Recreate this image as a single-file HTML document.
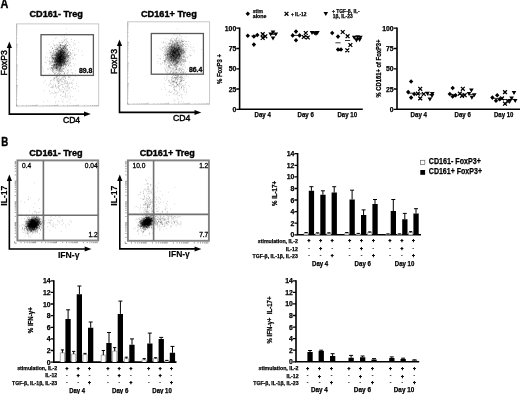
<!DOCTYPE html>
<html lang="en"><head><meta charset="utf-8"><title>Figure</title>
<style>html,body{margin:0;padding:0;background:#fff;overflow:hidden}svg{display:block}text{white-space:pre}</style></head>
<body>
<svg width="520" height="394" viewBox="0 0 520 394" font-family='"Liberation Sans", sans-serif' style="display:block;background:#fff;filter:blur(0.35px)">
<defs><radialGradient id="core"><stop offset="0" stop-color="#000" stop-opacity="0.62"/><stop offset="0.35" stop-color="#000" stop-opacity="0.4"/><stop offset="0.7" stop-color="#000" stop-opacity="0.1"/><stop offset="1" stop-color="#000" stop-opacity="0"/></radialGradient><radialGradient id="core2"><stop offset="0" stop-color="#000" stop-opacity="0.5"/><stop offset="0.4" stop-color="#000" stop-opacity="0.3"/><stop offset="0.75" stop-color="#000" stop-opacity="0.08"/><stop offset="1" stop-color="#000" stop-opacity="0"/></radialGradient></defs>
<rect width="520" height="394" fill="#fff"/>
<text x="0.6" y="7.8" font-size="13" font-weight="bold" textLength="7.8" lengthAdjust="spacingAndGlyphs" fill="#000" stroke="#000" stroke-width="0.4">A</text>
<text x="1.2" y="145.5" font-size="13" font-weight="bold" textLength="7.0" lengthAdjust="spacingAndGlyphs" fill="#000" stroke="#000" stroke-width="0.4">B</text>
<rect x="16.5" y="23.9" width="82.2" height="82.1" fill="#fff" stroke="#c2c2c2" stroke-width="0.9"/>
<path d="M16.5,106.0h1.6M16.5,99.8h0.9M16.5,96.1h0.9M16.5,93.7h0.9M16.5,91.6h0.9M16.5,90.0h0.9M16.5,88.6h0.9M16.5,87.5h0.9M16.5,86.5h0.9M16.5,85.5h1.6M16.5,79.3h0.9M16.5,75.6h0.9M16.5,73.2h0.9M16.5,71.1h0.9M16.5,69.5h0.9M16.5,68.0h0.9M16.5,67.0h0.9M16.5,66.0h0.9M16.5,65.0h1.6M16.5,58.8h0.9M16.5,55.1h0.9M16.5,52.6h0.9M16.5,50.6h0.9M16.5,48.9h0.9M16.5,47.5h0.9M16.5,46.5h0.9M16.5,45.5h0.9M16.5,44.4h1.6M16.5,38.3h0.9M16.5,34.6h0.9M16.5,32.1h0.9M16.5,30.1h0.9M16.5,28.4h0.9M16.5,27.0h0.9M16.5,26.0h0.9M16.5,24.9h0.9M16.5,106.0v-1.6M22.7,106.0v-0.9M26.4,106.0v-0.9M28.8,106.0v-0.9M30.9,106.0v-0.9M32.5,106.0v-0.9M34.0,106.0v-0.9M35.0,106.0v-0.9M36.0,106.0v-0.9M37.0,106.0v-1.6M43.2,106.0v-0.9M46.9,106.0v-0.9M49.4,106.0v-0.9M51.4,106.0v-0.9M53.1,106.0v-0.9M54.5,106.0v-0.9M55.5,106.0v-0.9M56.6,106.0v-0.9M57.6,106.0v-1.6M63.8,106.0v-0.9M67.5,106.0v-0.9M69.9,106.0v-0.9M72.0,106.0v-0.9M73.6,106.0v-0.9M75.1,106.0v-0.9M76.1,106.0v-0.9M77.1,106.0v-0.9M78.2,106.0v-1.6M84.3,106.0v-0.9M88.0,106.0v-0.9M90.5,106.0v-0.9M92.5,106.0v-0.9M94.2,106.0v-0.9M95.6,106.0v-0.9M96.6,106.0v-0.9M97.7,106.0v-0.9" stroke="#777" stroke-width="0.5" fill="none" opacity="0.8"/>
<ellipse cx="60.3" cy="58.3" rx="9" ry="14" fill="url(#core)" transform="rotate(14 60.3 58.3)"/>
<path d="M60.3,57.8h0.6M61.5,56.8h0.6M59.2,61.8h0.6M56.8,60.1h0.6M58.5,49.9h0.6M56.4,69.8h0.6M60.5,56.7h0.6M65.5,61.1h0.6M58.4,58.1h0.6M57.9,54.6h0.6M62.2,57.7h0.6M61.7,53.2h0.6M60.7,67.2h0.6M56.7,53.6h0.6M60.2,61.8h0.6M63.0,53.5h0.6M55.1,59.7h0.6M58.5,73.9h0.6M52.9,66.0h0.6M55.3,59.4h0.6M53.1,52.7h0.6M59.4,57.1h0.6M55.4,59.1h0.6M61.4,65.9h0.6M60.9,49.8h0.6M59.6,48.3h0.6M50.5,62.7h0.6M58.2,60.5h0.6M60.1,67.7h0.6M60.7,53.0h0.6M54.3,45.6h0.6M58.4,55.1h0.6M56.5,52.8h0.6M57.1,56.7h0.6M64.4,62.0h0.6M57.2,52.1h0.6M60.2,65.4h0.6M63.7,57.9h0.6M58.0,57.8h0.6M59.9,53.4h0.6M60.7,55.7h0.6M60.5,56.0h0.6M55.5,64.9h0.6M60.6,65.5h0.6M65.6,55.5h0.6M54.3,65.1h0.6M63.7,64.2h0.6M60.8,65.3h0.6M57.8,62.3h0.6M68.1,65.3h0.6M63.3,64.6h0.6M55.6,69.8h0.6M60.6,57.1h0.6M62.5,54.9h0.6M59.6,47.2h0.6M63.0,65.6h0.6M60.0,62.3h0.6M62.9,51.9h0.6M65.9,57.0h0.6M57.7,61.4h0.6M61.1,48.2h0.6M58.5,61.1h0.6M60.8,64.7h0.6M55.7,68.0h0.6M58.0,57.4h0.6M59.5,56.9h0.6M63.8,64.5h0.6M64.8,61.9h0.6M55.1,57.6h0.6M57.2,56.4h0.6M62.8,60.8h0.6M52.5,58.3h0.6M58.5,55.9h0.6M59.9,68.7h0.6M65.2,57.8h0.6M63.0,54.7h0.6M59.0,62.2h0.6M58.9,71.2h0.6M59.3,60.4h0.6M66.2,51.3h0.6M58.6,50.0h0.6M59.1,71.4h0.6M61.7,42.7h0.6M59.8,65.0h0.6M59.5,53.2h0.6M56.0,53.2h0.6M60.3,52.7h0.6M58.6,58.2h0.6M64.8,62.8h0.6M62.8,53.5h0.6M60.2,62.4h0.6M62.9,71.5h0.6M59.0,42.7h0.6M64.4,52.4h0.6M60.3,47.9h0.6M62.6,62.5h0.6M55.3,52.2h0.6M61.7,48.6h0.6M53.7,52.4h0.6M52.4,62.1h0.6M59.1,65.7h0.6M56.8,60.9h0.6M60.9,70.6h0.6M69.1,64.0h0.6M57.1,59.3h0.6M57.9,65.1h0.6M61.1,58.9h0.6M62.2,58.0h0.6M59.6,47.6h0.6M59.5,51.2h0.6M63.0,57.3h0.6M62.3,50.4h0.6M56.3,64.6h0.6M60.0,60.4h0.6M60.4,53.0h0.6M56.2,67.3h0.6M61.3,59.4h0.6M57.0,67.4h0.6M64.1,55.9h0.6M61.1,48.6h0.6M60.6,62.4h0.6M58.0,58.1h0.6M59.8,63.6h0.6M52.5,68.5h0.6M55.9,67.4h0.6M61.7,49.3h0.6M52.0,48.6h0.6M63.6,54.0h0.6M53.5,65.5h0.6M63.3,52.9h0.6M57.0,61.7h0.6M63.3,52.3h0.6M60.8,56.4h0.6M54.3,59.5h0.6M65.2,52.6h0.6M65.9,59.0h0.6M60.0,60.7h0.6M59.2,68.6h0.6M59.7,61.1h0.6M56.5,68.2h0.6M64.6,57.2h0.6M58.2,64.8h0.6M60.1,57.8h0.6M57.2,57.1h0.6M57.9,67.6h0.6M55.3,65.3h0.6M65.2,61.4h0.6M59.7,54.3h0.6M64.1,46.8h0.6M60.4,53.4h0.6M57.6,61.5h0.6M59.0,50.5h0.6M58.1,68.0h0.6M60.3,49.7h0.6M58.8,62.7h0.6M59.1,74.8h0.6M54.9,45.6h0.6M57.2,50.7h0.6M66.8,61.2h0.6M57.7,58.5h0.6M56.2,61.4h0.6M61.6,57.1h0.6M65.8,64.3h0.6M54.6,64.8h0.6M59.5,56.0h0.6M57.8,58.2h0.6M53.4,54.6h0.6M63.2,56.5h0.6M60.2,44.9h0.6M60.6,62.3h0.6M57.4,58.2h0.6M62.1,68.4h0.6M58.2,66.4h0.6M59.7,51.0h0.6M56.0,65.7h0.6M55.6,57.5h0.6M65.5,56.2h0.6M58.3,65.2h0.6M61.4,59.8h0.6M60.2,61.3h0.6M58.6,61.9h0.6M58.3,54.9h0.6M62.8,53.4h0.6M59.1,62.1h0.6M59.7,63.8h0.6M60.4,56.6h0.6M64.9,56.8h0.6M63.0,51.2h0.6M61.8,42.4h0.6M58.1,54.5h0.6M54.9,61.0h0.6M64.0,57.6h0.6M64.1,61.5h0.6M59.8,63.7h0.6M62.4,63.1h0.6M63.3,59.2h0.6M63.5,59.2h0.6M63.9,52.4h0.6M58.5,61.4h0.6M66.2,56.7h0.6M55.4,67.5h0.6M63.7,47.3h0.6M62.2,54.5h0.6M63.7,46.5h0.6M67.6,50.4h0.6M66.1,47.1h0.6M55.8,61.8h0.6M53.7,57.2h0.6M63.5,41.3h0.6M56.3,67.1h0.6M60.3,51.6h0.6M63.6,47.1h0.6M53.9,58.8h0.6M52.1,57.7h0.6M61.3,50.5h0.6M60.5,62.1h0.6M59.3,56.4h0.6M60.5,63.3h0.6M56.9,63.8h0.6M54.4,64.6h0.6M59.7,59.4h0.6M56.5,59.2h0.6M53.9,58.6h0.6M62.3,65.7h0.6M60.1,46.8h0.6M61.9,50.8h0.6M56.4,55.8h0.6M57.7,61.6h0.6M56.4,60.6h0.6M56.8,56.7h0.6M61.1,55.5h0.6M57.2,69.6h0.6M61.7,53.3h0.6M61.6,40.6h0.6M68.2,65.5h0.6M54.9,55.0h0.6M63.8,54.5h0.6M60.0,59.1h0.6M60.2,50.3h0.6M54.6,67.9h0.6M58.5,58.2h0.6M63.2,48.4h0.6M60.0,59.6h0.6M60.6,60.6h0.6M59.2,58.1h0.6M64.8,58.8h0.6M60.2,49.2h0.6M51.7,67.6h0.6M57.6,54.4h0.6M52.6,69.2h0.6M47.6,60.2h0.6M58.2,59.9h0.6M65.5,71.1h0.6M60.5,58.3h0.6M55.7,66.7h0.6M56.6,62.6h0.6M64.7,47.2h0.6M60.9,64.6h0.6M60.5,64.5h0.6M60.1,49.9h0.6M60.4,57.5h0.6M63.4,47.8h0.6M62.5,55.4h0.6M61.1,63.1h0.6M56.2,60.6h0.6M62.3,50.1h0.6M57.6,54.0h0.6M64.6,56.3h0.6M55.3,60.3h0.6M59.8,59.2h0.6M60.3,61.7h0.6M55.1,49.3h0.6M67.0,55.2h0.6M66.0,62.3h0.6M58.5,61.9h0.6M63.3,52.6h0.6M61.8,53.8h0.6M50.1,63.8h0.6M61.3,61.8h0.6M60.1,58.3h0.6M60.6,68.0h0.6M56.1,67.9h0.6M59.2,54.1h0.6M59.6,61.4h0.6M64.9,54.0h0.6M61.6,50.5h0.6M60.3,54.5h0.6M66.3,55.4h0.6M58.1,46.8h0.6M58.8,55.1h0.6M53.2,63.7h0.6M66.4,51.2h0.6M64.1,54.2h0.6M63.9,61.7h0.6M62.9,56.7h0.6M60.7,59.1h0.6M61.1,69.5h0.6M59.3,59.8h0.6M59.5,60.3h0.6M60.5,60.8h0.6M66.2,65.3h0.6M62.5,59.4h0.6M60.1,58.6h0.6M58.0,58.7h0.6M57.8,66.1h0.6M66.6,51.7h0.6M62.3,64.5h0.6M60.6,59.5h0.6M58.9,51.2h0.6M56.0,64.4h0.6M60.0,61.4h0.6M63.7,50.4h0.6M58.8,61.3h0.6M59.4,60.5h0.6M59.4,57.4h0.6M60.7,51.9h0.6M54.1,74.1h0.6M59.4,63.6h0.6M57.0,65.8h0.6M63.7,63.1h0.6M57.3,64.7h0.6M62.6,62.2h0.6M66.2,53.8h0.6M59.1,64.1h0.6M58.0,58.7h0.6M61.0,55.6h0.6M60.3,62.6h0.6M56.4,59.3h0.6M62.1,47.9h0.6M68.2,52.8h0.6M59.3,62.5h0.6M59.5,59.0h0.6M56.2,65.5h0.6M61.5,56.1h0.6M55.4,55.5h0.6M56.0,65.1h0.6M65.3,57.2h0.6M56.8,53.4h0.6M64.5,59.3h0.6M66.2,54.5h0.6M61.3,63.8h0.6M62.5,62.1h0.6M67.9,57.8h0.6M59.5,46.2h0.6M58.0,61.7h0.6M55.0,63.8h0.6M60.5,61.4h0.6M66.1,56.6h0.6M64.0,52.8h0.6M56.6,58.9h0.6M57.0,48.1h0.6M58.3,58.0h0.6M61.4,49.5h0.6M59.5,57.1h0.6M61.1,54.4h0.6M61.5,66.0h0.6M59.1,59.6h0.6M60.1,58.8h0.6M61.1,59.3h0.6M60.0,70.8h0.6M62.3,52.4h0.6M67.6,57.1h0.6M62.6,59.7h0.6M60.5,59.7h0.6M53.7,62.6h0.6M61.8,55.3h0.6M52.7,69.1h0.6M54.8,66.2h0.6M63.6,55.1h0.6M63.1,56.2h0.6M59.7,60.7h0.6M53.6,64.7h0.6M58.9,63.7h0.6M57.7,59.9h0.6M62.8,50.4h0.6M69.1,60.3h0.6M61.1,49.2h0.6M57.3,54.9h0.6M55.7,63.0h0.6M60.1,53.9h0.6M59.6,67.0h0.6M55.8,70.3h0.6M60.8,65.5h0.6M55.8,62.7h0.6M64.6,58.2h0.6M64.4,59.3h0.6M64.5,55.8h0.6M58.5,71.4h0.6M62.3,54.5h0.6M59.8,66.7h0.6M58.8,62.8h0.6M59.0,61.3h0.6M55.2,67.3h0.6M54.7,68.7h0.6M63.4,62.6h0.6M59.6,58.7h0.6M61.1,54.5h0.6M64.2,53.3h0.6M53.5,67.1h0.6M57.2,64.2h0.6M61.0,63.3h0.6M61.8,55.0h0.6M58.8,70.6h0.6M64.3,49.4h0.6M61.1,60.7h0.6M55.6,65.0h0.6M56.7,58.0h0.6M63.4,50.9h0.6M62.1,55.5h0.6M52.9,55.7h0.6M65.6,55.1h0.6M62.6,50.2h0.6M65.5,48.8h0.6M58.8,59.6h0.6M59.1,50.6h0.6M55.9,59.4h0.6M70.2,53.2h0.6M59.6,63.9h0.6M66.5,57.1h0.6M57.8,55.0h0.6M60.9,65.5h0.6M53.8,57.6h0.6M58.8,57.0h0.6M64.1,54.9h0.6M55.4,73.2h0.6M64.5,57.0h0.6M61.6,54.0h0.6M56.2,64.5h0.6M58.3,58.7h0.6M58.5,72.7h0.6M60.1,54.5h0.6M58.2,63.1h0.6M57.1,54.8h0.6M59.1,69.4h0.6M56.3,56.2h0.6M55.3,62.0h0.6M60.1,53.8h0.6M63.7,62.0h0.6M54.3,64.6h0.6M60.3,45.5h0.6M57.8,64.2h0.6M56.5,64.1h0.6M63.6,58.3h0.6M58.3,65.1h0.6M66.1,48.8h0.6M57.3,49.8h0.6M61.8,61.6h0.6M59.4,68.6h0.6M57.4,52.9h0.6M62.6,50.9h0.6M59.7,53.9h0.6M62.7,50.6h0.6M60.1,63.4h0.6M56.1,61.2h0.6M59.9,66.4h0.6M60.5,66.3h0.6M64.0,51.0h0.6M56.8,63.8h0.6M60.1,45.3h0.6M53.6,61.0h0.6M62.8,60.8h0.6M56.1,55.7h0.6M53.3,51.2h0.6M60.1,55.6h0.6M64.6,63.3h0.6M54.4,58.9h0.6M56.1,52.4h0.6M57.4,62.5h0.6M55.9,64.8h0.6M61.8,51.8h0.6M57.2,59.0h0.6M57.5,65.9h0.6M62.6,59.4h0.6M57.4,64.0h0.6M62.0,55.8h0.6M56.5,59.4h0.6M55.6,53.9h0.6M53.1,57.5h0.6M67.6,63.9h0.6M59.1,56.5h0.6M61.3,52.7h0.6M60.2,55.7h0.6M60.9,52.1h0.6M60.5,61.4h0.6M67.7,60.3h0.6M56.2,54.8h0.6M54.2,67.2h0.6M56.4,72.5h0.6M55.1,54.8h0.6M63.2,61.1h0.6M63.5,58.6h0.6M56.6,68.0h0.6M54.9,68.4h0.6M58.9,65.6h0.6M65.7,57.9h0.6M49.3,61.3h0.6M62.4,70.5h0.6M56.1,55.9h0.6M64.4,63.2h0.6M56.1,66.3h0.6M59.2,54.9h0.6M54.4,61.4h0.6M56.5,68.9h0.6M65.7,45.2h0.6M63.5,61.7h0.6M58.7,57.6h0.6M56.9,58.7h0.6M52.9,53.6h0.6M58.8,61.6h0.6M60.2,52.6h0.6M60.0,62.7h0.6M59.9,52.0h0.6M55.9,64.7h0.6M60.0,60.5h0.6M60.1,47.5h0.6M65.3,54.2h0.6M67.6,54.3h0.6M59.8,45.7h0.6M57.3,57.6h0.6M60.0,63.1h0.6M57.9,55.2h0.6M57.4,66.4h0.6M60.1,51.9h0.6M56.2,53.3h0.6M62.7,60.5h0.6M59.9,62.1h0.6M61.3,56.8h0.6M59.6,58.5h0.6M57.5,65.2h0.6M56.6,56.8h0.6M59.4,70.4h0.6M58.2,61.8h0.6M61.2,60.2h0.6M60.3,59.9h0.6M55.0,59.0h0.6M60.6,65.2h0.6M55.1,57.3h0.6M57.9,60.4h0.6M59.2,62.6h0.6M52.2,69.9h0.6M60.7,64.9h0.6M60.9,56.0h0.6M59.7,64.1h0.6M58.6,58.7h0.6M58.8,52.9h0.6M56.5,54.1h0.6M59.2,49.9h0.6M58.1,61.0h0.6M60.7,64.3h0.6M55.6,54.6h0.6M61.2,56.1h0.6M60.9,51.6h0.6M59.7,58.5h0.6M58.6,52.2h0.6M62.5,52.5h0.6M53.8,57.2h0.6M62.1,54.6h0.6M61.2,55.6h0.6M61.4,56.5h0.6M61.8,56.3h0.6M57.8,53.8h0.6M59.3,61.7h0.6M62.8,47.2h0.6M62.0,58.1h0.6M61.1,52.3h0.6M54.4,61.5h0.6M62.4,58.7h0.6M64.9,44.6h0.6M64.2,58.3h0.6M61.2,65.2h0.6M54.2,65.2h0.6M64.0,58.4h0.6M59.7,46.2h0.6M50.4,61.7h0.6M61.8,52.3h0.6M54.5,66.7h0.6M55.2,58.6h0.6M57.8,55.6h0.6M65.3,45.7h0.6M58.9,63.0h0.6M61.4,54.4h0.6M67.1,53.4h0.6M66.5,61.3h0.6M59.9,58.6h0.6M59.4,60.2h0.6M55.4,73.9h0.6M57.6,56.1h0.6M62.0,54.4h0.6M61.8,60.1h0.6M60.7,65.8h0.6M64.2,48.0h0.6M57.3,58.2h0.6M60.1,52.6h0.6M63.2,48.9h0.6M62.6,60.2h0.6M64.5,51.7h0.6M61.8,59.0h0.6M59.1,59.2h0.6M61.7,58.1h0.6M56.4,60.1h0.6M53.9,54.9h0.6M62.6,56.5h0.6M60.1,59.3h0.6M61.5,59.3h0.6M53.7,59.4h0.6M58.9,64.1h0.6M58.0,62.3h0.6M56.9,60.2h0.6M51.5,65.6h0.6M59.0,59.6h0.6M63.8,60.2h0.6M61.8,46.1h0.6M58.0,51.8h0.6M60.2,55.8h0.6M63.3,57.2h0.6M49.5,50.7h0.6M59.8,56.7h0.6M62.4,57.8h0.6M63.0,55.3h0.6M66.9,53.5h0.6M64.7,48.2h0.6M61.5,57.8h0.6M61.5,45.7h0.6M63.4,61.9h0.6M58.2,55.3h0.6M60.1,64.1h0.6M63.8,46.3h0.6M67.9,56.7h0.6M59.7,58.9h0.6M60.1,53.1h0.6M61.1,50.8h0.6M65.5,62.2h0.6M60.2,60.3h0.6M66.0,63.6h0.6M56.5,59.3h0.6M59.6,59.2h0.6M59.5,60.7h0.6M63.4,60.8h0.6M64.4,58.6h0.6M54.4,65.3h0.6M56.7,56.9h0.6M61.6,49.0h0.6M57.7,70.5h0.6M54.4,61.7h0.6M64.4,58.8h0.6M62.2,54.6h0.6M62.2,62.9h0.6M58.4,60.0h0.6M64.3,62.4h0.6M59.4,54.7h0.6M64.6,55.8h0.6M56.7,60.9h0.6M57.0,57.7h0.6M61.1,59.3h0.6M57.6,68.5h0.6M62.9,53.7h0.6M61.3,56.2h0.6M56.7,60.8h0.6M60.6,52.5h0.6M58.9,52.0h0.6M63.9,62.9h0.6M57.8,63.9h0.6M58.6,50.2h0.6M65.0,48.0h0.6M69.0,58.5h0.6M68.1,61.5h0.6M60.5,61.8h0.6M61.2,60.8h0.6M66.3,64.6h0.6M59.8,58.3h0.6M56.5,67.4h0.6M60.8,65.0h0.6M62.1,52.2h0.6M57.1,63.7h0.6M53.9,61.7h0.6M54.7,57.3h0.6M62.9,52.4h0.6M57.3,61.6h0.6M59.7,58.3h0.6M61.1,62.6h0.6M62.7,47.2h0.6M59.0,55.2h0.6M62.2,63.7h0.6M56.8,59.9h0.6M58.9,54.9h0.6M56.3,57.4h0.6M64.7,45.8h0.6M60.2,50.5h0.6M57.4,62.7h0.6M58.9,59.4h0.6M59.4,66.0h0.6M63.0,55.6h0.6M54.1,60.3h0.6M56.3,44.7h0.6M58.8,58.4h0.6M70.2,65.7h0.6M64.0,60.4h0.6M59.9,57.9h0.6M63.1,64.2h0.6M68.3,59.6h0.6M59.4,60.8h0.6M58.9,57.0h0.6M65.0,57.1h0.6M62.2,62.5h0.6M62.9,52.6h0.6M58.3,62.3h0.6M67.8,57.7h0.6M67.0,63.1h0.6M62.5,61.8h0.6M63.0,53.3h0.6M52.4,71.2h0.6M62.8,57.6h0.6M59.5,54.5h0.6M62.0,59.7h0.6M63.0,55.7h0.6M59.0,65.3h0.6M53.7,53.8h0.6M61.7,51.3h0.6M57.4,58.3h0.6M59.0,68.9h0.6M57.9,65.4h0.6M59.0,53.3h0.6M51.3,52.7h0.6M65.0,54.4h0.6M61.3,50.7h0.6M64.6,59.8h0.6M68.0,55.8h0.6M60.4,58.3h0.6M53.3,59.1h0.6M56.8,68.7h0.6M55.6,55.1h0.6M58.3,51.6h0.6M60.6,64.7h0.6M52.5,69.7h0.6M61.6,55.7h0.6M54.4,64.8h0.6M61.5,71.3h0.6M59.9,53.9h0.6M59.1,58.0h0.6M60.0,61.2h0.6M58.2,47.2h0.6M57.9,58.6h0.6M53.7,65.6h0.6M60.2,57.8h0.6M67.5,60.9h0.6M68.0,59.1h0.6M65.5,53.7h0.6M63.1,60.2h0.6M57.7,62.1h0.6M65.9,46.2h0.6M60.1,53.5h0.6M60.0,53.8h0.6M59.2,55.8h0.6M60.7,55.4h0.6M58.6,50.7h0.6M60.0,58.6h0.6M56.1,49.6h0.6M58.8,64.4h0.6M69.2,55.7h0.6M60.0,66.3h0.6M59.4,60.7h0.6M62.4,54.4h0.6M63.1,48.7h0.6M56.0,64.1h0.6M59.5,58.6h0.6M63.9,58.7h0.6M61.4,62.0h0.6M60.8,64.9h0.6M66.4,55.2h0.6M57.7,69.4h0.6M60.6,57.5h0.6M58.3,59.1h0.6M66.1,59.4h0.6M52.7,67.6h0.6M57.7,67.4h0.6M58.2,48.5h0.6M62.9,64.8h0.6M62.7,48.3h0.6M65.7,52.4h0.6M54.2,63.2h0.6M63.2,63.6h0.6M59.2,52.9h0.6M57.7,49.6h0.6M62.4,62.7h0.6M56.7,61.7h0.6M52.2,56.0h0.6M58.9,57.0h0.6M54.5,49.5h0.6M57.8,62.7h0.6M61.7,54.5h0.6M61.5,64.9h0.6M66.5,43.4h0.6M59.5,62.8h0.6M54.3,73.7h0.6M57.4,60.4h0.6M56.7,60.8h0.6M55.6,49.5h0.6M62.0,59.5h0.6M57.8,59.5h0.6M52.6,58.5h0.6M63.0,48.0h0.6M59.9,58.9h0.6M61.7,51.7h0.6M60.7,55.1h0.6M62.8,58.9h0.6M60.4,57.8h0.6M65.1,55.9h0.6M62.0,62.8h0.6M61.8,50.6h0.6M61.9,65.5h0.6M54.6,54.2h0.6M59.7,53.1h0.6M59.3,59.3h0.6M61.1,62.3h0.6M55.0,62.0h0.6M66.7,52.7h0.6M60.7,53.9h0.6M55.6,58.8h0.6M53.6,55.7h0.6M59.2,62.0h0.6M60.0,57.1h0.6M57.5,68.6h0.6M60.7,53.8h0.6M57.8,58.6h0.6M62.5,59.7h0.6M57.5,53.0h0.6M60.1,54.4h0.6M64.1,72.7h0.6M70.3,53.4h0.6M56.4,68.4h0.6M58.5,53.0h0.6M57.0,45.6h0.6M63.4,59.9h0.6M55.8,59.9h0.6M58.4,60.6h0.6M60.2,56.3h0.6M56.5,56.4h0.6M56.6,52.7h0.6M58.4,64.8h0.6M52.1,53.1h0.6M54.7,66.2h0.6M58.7,57.5h0.6M60.9,51.4h0.6M59.6,54.6h0.6M53.4,66.9h0.6M58.5,63.2h0.6M63.4,59.5h0.6M62.5,57.6h0.6M60.0,51.9h0.6M56.8,67.3h0.6M62.8,54.5h0.6M58.0,55.9h0.6M55.7,57.2h0.6M57.2,57.1h0.6M65.9,47.0h0.6M61.2,55.1h0.6M64.8,51.3h0.6M58.4,55.9h0.6M64.0,46.3h0.6M58.0,70.3h0.6M59.7,51.2h0.6M70.0,55.3h0.6M63.3,58.5h0.6M58.3,64.8h0.6M60.0,69.1h0.6M61.6,59.9h0.6M65.0,60.1h0.6M58.4,56.4h0.6M53.5,69.9h0.6M59.2,50.6h0.6M60.4,56.7h0.6M60.7,59.5h0.6M65.4,60.0h0.6M61.5,62.2h0.6M63.5,63.3h0.6M56.0,63.4h0.6M63.7,56.7h0.6M68.5,55.5h0.6M63.3,65.0h0.6M61.3,59.4h0.6M60.9,63.1h0.6M67.3,54.2h0.6M56.7,49.3h0.6M59.9,54.9h0.6M62.1,59.3h0.6M63.2,66.3h0.6M58.6,67.2h0.6M61.5,67.4h0.6M59.2,54.6h0.6M60.8,62.5h0.6M59.8,58.2h0.6M55.8,63.9h0.6M60.2,57.8h0.6M63.7,48.7h0.6M56.5,64.0h0.6M59.4,60.7h0.6M62.9,61.7h0.6M56.1,55.2h0.6M61.0,63.8h0.6M56.2,66.7h0.6M64.7,64.2h0.6M69.3,62.2h0.6M68.2,52.0h0.6M59.4,44.0h0.6M63.2,62.7h0.6M60.8,52.6h0.6M60.7,56.7h0.6M66.3,61.8h0.6M55.2,62.3h0.6M64.4,57.7h0.6M60.1,62.3h0.6M65.8,44.7h0.6M61.0,68.9h0.6M57.7,57.3h0.6M61.4,55.9h0.6M63.2,60.3h0.6M60.4,57.4h0.6M62.2,52.4h0.6M58.3,58.4h0.6M52.0,59.8h0.6M63.8,52.7h0.6M63.0,68.7h0.6M60.9,49.6h0.6M60.6,45.1h0.6M64.3,50.8h0.6M58.5,53.3h0.6M57.5,67.6h0.6M59.6,59.3h0.6M64.9,60.8h0.6M54.9,64.2h0.6M64.9,50.6h0.6M57.8,64.1h0.6M56.0,61.0h0.6M65.2,67.0h0.6M59.9,59.4h0.6M55.2,60.1h0.6M58.9,63.0h0.6M63.9,60.7h0.6M64.9,45.4h0.6M58.6,66.0h0.6M61.9,63.6h0.6M63.1,61.6h0.6M57.8,52.6h0.6M61.7,45.6h0.6M60.2,56.5h0.6M58.2,63.4h0.6M58.4,61.6h0.6M60.6,52.1h0.6M60.4,63.5h0.6M58.1,51.0h0.6M58.6,51.0h0.6M64.6,55.9h0.6M61.1,54.2h0.6M63.8,52.4h0.6M65.0,47.2h0.6M62.6,63.3h0.6M69.2,47.5h0.6M57.1,61.9h0.6M63.5,61.2h0.6M59.1,58.3h0.6M67.5,56.2h0.6M66.9,60.9h0.6M52.7,71.0h0.6M56.5,65.4h0.6M62.9,48.8h0.6M63.4,45.6h0.6M63.2,53.3h0.6M60.0,51.6h0.6M62.1,60.4h0.6M62.8,57.6h0.6M60.0,56.8h0.6M64.3,62.6h0.6M51.5,68.0h0.6M62.8,56.6h0.6M56.3,62.0h0.6M64.0,62.7h0.6M59.4,56.5h0.6M56.8,61.4h0.6M61.8,51.8h0.6M56.7,60.0h0.6M56.7,61.7h0.6M54.2,60.4h0.6M60.2,59.3h0.6M62.2,61.2h0.6M64.3,58.8h0.6M59.7,54.3h0.6M64.4,52.7h0.6M60.4,50.9h0.6M59.9,68.2h0.6M62.5,59.5h0.6M64.4,58.8h0.6M59.0,57.9h0.6M59.3,61.3h0.6M59.7,61.5h0.6M60.6,53.7h0.6M56.8,58.9h0.6M64.3,63.1h0.6M58.7,51.4h0.6M62.1,51.8h0.6M57.1,63.1h0.6M61.7,52.9h0.6M61.8,61.8h0.6M58.7,52.6h0.6M68.2,55.9h0.6M61.7,62.2h0.6M67.2,57.2h0.6M64.0,61.0h0.6M57.7,58.4h0.6M58.8,58.0h0.6M62.0,57.3h0.6M60.5,61.4h0.6M60.5,79.2h0.6M59.2,58.3h0.6M53.2,72.4h0.6M59.4,57.3h0.6M51.6,55.8h0.6M61.8,56.1h0.6M57.5,61.8h0.6M57.5,60.6h0.6M59.4,59.5h0.6M61.4,61.0h0.6M54.7,64.2h0.6M53.5,66.7h0.6M56.1,53.4h0.6M52.3,62.1h0.6M56.5,54.6h0.6M66.5,56.9h0.6M56.2,59.8h0.6M62.8,58.1h0.6M55.0,58.1h0.6M61.5,53.0h0.6M59.1,57.5h0.6M60.1,62.3h0.6M62.5,61.7h0.6M67.1,45.6h0.6M61.1,59.6h0.6M60.8,59.7h0.6M56.5,51.7h0.6M62.6,51.0h0.6M59.3,55.7h0.6M63.5,59.1h0.6M60.1,44.9h0.6M67.1,52.9h0.6M52.6,58.7h0.6M59.1,59.8h0.6M63.7,64.8h0.6M58.9,66.6h0.6M57.2,57.4h0.6M59.3,56.5h0.6M54.9,62.2h0.6M60.8,64.8h0.6M69.8,62.2h0.6M64.8,58.1h0.6M56.0,68.6h0.6M56.9,54.7h0.6M58.7,52.4h0.6M64.2,40.3h0.6M57.1,54.8h0.6M57.6,62.9h0.6M63.8,61.7h0.6M63.7,76.5h0.6M58.8,62.4h0.6M55.9,61.3h0.6M54.3,55.6h0.6M57.6,56.1h0.6M51.6,58.9h0.6M63.2,55.7h0.6M57.8,55.7h0.6M62.2,49.1h0.6M67.6,61.0h0.6M64.9,58.8h0.6M55.8,68.3h0.6M63.7,47.5h0.6M64.8,48.8h0.6M57.4,55.3h0.6M56.6,66.9h0.6M59.9,57.5h0.6M54.1,62.5h0.6M66.0,55.2h0.6M50.9,63.7h0.6M56.0,57.3h0.6M59.2,61.0h0.6M59.4,53.8h0.6M60.9,56.6h0.6M61.4,59.5h0.6M59.5,59.3h0.6M64.7,58.8h0.6M52.0,57.5h0.6M60.3,59.9h0.6M57.5,57.9h0.6M60.8,60.3h0.6M61.2,66.4h0.6M56.7,54.8h0.6M57.8,65.5h0.6M63.4,53.0h0.6M61.7,55.3h0.6M57.6,69.0h0.6M68.3,60.0h0.6M69.3,57.1h0.6M54.6,65.6h0.6M61.5,64.5h0.6M70.1,49.5h0.6M63.4,58.3h0.6M61.2,55.7h0.6M59.5,61.1h0.6M58.2,57.5h0.6M59.5,63.0h0.6M58.2,59.4h0.6M63.2,53.6h0.6M58.7,58.8h0.6M58.6,61.7h0.6M55.6,66.7h0.6M60.1,57.4h0.6M56.8,57.9h0.6M59.6,60.1h0.6M64.4,60.8h0.6M61.7,54.5h0.6M62.3,43.2h0.6M61.7,59.4h0.6M60.5,56.3h0.6M59.8,56.4h0.6M59.1,73.5h0.6M63.3,56.2h0.6M56.1,64.3h0.6M65.5,48.0h0.6M60.4,59.7h0.6M57.4,64.1h0.6M58.4,60.4h0.6M57.7,58.6h0.6M60.9,61.2h0.6M57.5,59.9h0.6M64.8,64.0h0.6M57.3,61.0h0.6M51.4,58.0h0.6M57.4,48.3h0.6M52.5,57.9h0.6M60.1,56.8h0.6M64.4,49.6h0.6M62.8,51.3h0.6M55.1,51.2h0.6M57.3,53.5h0.6M67.2,55.8h0.6M61.5,56.2h0.6M60.3,57.3h0.6M64.4,54.7h0.6M69.9,52.7h0.6M65.4,60.4h0.6M60.8,70.1h0.6M61.7,61.5h0.6M62.7,68.8h0.6M57.9,59.0h0.6M56.2,60.2h0.6M60.5,67.8h0.6M56.6,56.1h0.6M60.1,53.4h0.6M60.7,57.6h0.6M69.4,44.5h0.6M57.0,49.1h0.6M59.8,65.4h0.6M59.7,52.7h0.6M62.0,55.0h0.6M64.4,54.0h0.6M58.4,53.8h0.6M57.1,63.9h0.6M53.9,64.6h0.6M56.7,64.7h0.6M62.4,61.7h0.6M60.5,58.8h0.6M56.3,68.4h0.6M58.8,65.0h0.6M60.4,54.9h0.6M62.3,57.8h0.6M58.0,57.2h0.6M59.3,69.6h0.6M53.2,66.1h0.6M55.8,63.6h0.6M66.6,55.2h0.6M51.8,65.6h0.6M59.0,53.6h0.6M61.2,58.2h0.6M58.8,58.9h0.6M57.1,59.7h0.6M60.1,54.4h0.6M60.3,61.0h0.6M60.0,52.0h0.6M53.0,59.0h0.6M59.7,57.7h0.6M57.0,59.6h0.6M58.2,56.3h0.6M61.2,52.1h0.6M62.8,51.7h0.6M63.8,54.5h0.6M58.4,54.2h0.6M63.9,56.0h0.6M64.9,49.0h0.6M64.7,56.4h0.6M65.7,67.7h0.6M59.7,50.9h0.6M59.6,58.0h0.6M63.5,63.5h0.6M55.0,61.9h0.6M61.1,63.0h0.6M58.2,47.2h0.6M58.9,56.1h0.6M53.5,70.4h0.6M56.8,56.8h0.6M60.2,60.6h0.6M63.8,45.7h0.6M64.2,62.5h0.6M60.0,71.3h0.6M59.6,58.3h0.6M57.1,61.8h0.6M61.9,60.0h0.6M59.3,71.0h0.6M62.7,54.8h0.6M67.1,45.6h0.6M60.2,69.3h0.6M54.5,54.3h0.6M56.9,63.1h0.6M54.6,47.5h0.6M55.6,58.0h0.6M65.4,57.0h0.6M61.2,51.6h0.6M54.4,58.0h0.6M62.8,60.5h0.6M65.2,52.0h0.6M58.9,61.9h0.6M57.7,69.8h0.6M59.0,47.3h0.6M61.4,59.8h0.6M62.8,60.6h0.6M64.9,54.2h0.6M65.0,65.0h0.6M64.9,63.9h0.6M65.6,58.7h0.6M62.9,60.1h0.6M54.3,60.6h0.6M59.8,52.1h0.6M61.5,60.4h0.6M58.8,56.2h0.6M63.9,53.2h0.6M58.9,65.2h0.6M56.7,58.7h0.6M65.9,61.1h0.6M62.9,51.0h0.6M61.2,55.3h0.6M63.9,56.5h0.6M64.4,64.1h0.6M61.6,57.0h0.6M50.7,67.1h0.6M57.7,55.5h0.6M58.5,59.8h0.6M56.5,64.7h0.6M61.1,52.6h0.6M64.9,52.0h0.6M58.4,62.6h0.6M55.9,53.7h0.6M68.2,56.4h0.6M58.5,60.9h0.6M55.5,59.8h0.6M61.2,62.2h0.6M62.0,60.1h0.6M57.6,60.5h0.6M63.4,48.1h0.6M58.4,50.6h0.6M56.7,61.4h0.6M61.0,48.8h0.6M63.3,57.2h0.6M57.8,57.3h0.6M61.6,52.6h0.6M59.9,56.8h0.6M71.3,39.4h0.6M57.5,58.2h0.6M65.7,62.7h0.6M60.1,50.9h0.6M59.8,60.9h0.6M63.1,58.7h0.6M63.8,73.8h0.6M65.2,50.3h0.6M61.6,53.0h0.6M58.0,54.8h0.6M58.2,53.7h0.6M62.3,47.7h0.6M62.6,57.5h0.6M65.8,50.4h0.6M61.9,61.8h0.6M64.4,58.4h0.6M66.2,49.5h0.6M60.9,55.8h0.6M54.5,68.6h0.6M55.7,58.4h0.6M54.7,61.9h0.6M66.5,60.1h0.6M57.0,57.3h0.6M65.1,58.4h0.6M62.6,66.2h0.6M67.0,61.6h0.6M64.2,46.4h0.6M59.9,67.2h0.6M59.5,57.4h0.6" stroke="#000" stroke-width="0.6" opacity="0.5" fill="none"/>
<path d="M64.4,37.5h0.6M64.6,53.9h0.6M52.0,65.2h0.6M58.1,69.1h0.6M61.3,63.2h0.6M65.7,49.4h0.6M55.9,52.3h0.6M52.4,61.7h0.6M67.1,54.7h0.6M67.8,57.5h0.6M62.8,65.9h0.6M56.2,47.5h0.6M63.1,53.2h0.6M61.0,36.0h0.6M66.0,61.9h0.6M51.8,61.2h0.6M61.1,49.5h0.6M59.2,59.7h0.6M52.8,71.6h0.6M61.8,64.9h0.6M60.5,56.4h0.6M57.5,55.3h0.6M63.0,57.2h0.6M50.7,51.9h0.6M59.9,49.0h0.6M63.2,53.6h0.6M62.2,56.4h0.6M67.6,57.1h0.6M52.1,55.2h0.6M50.0,52.8h0.6M61.9,56.3h0.6M63.4,52.5h0.6M74.7,55.4h0.6M64.5,68.0h0.6M54.4,67.8h0.6M65.8,49.0h0.6M54.5,55.4h0.6M50.2,47.0h0.6M78.0,51.1h0.6M62.5,49.2h0.6M65.2,44.5h0.6M64.1,47.6h0.6M72.6,58.5h0.6M62.2,58.2h0.6M68.6,53.5h0.6M53.3,68.0h0.6M50.8,56.3h0.6M70.0,45.4h0.6M70.3,58.2h0.6M63.8,39.4h0.6M61.8,59.3h0.6M61.4,58.7h0.6M55.6,60.8h0.6M70.8,59.9h0.6M64.8,52.3h0.6M63.7,56.0h0.6M62.9,42.3h0.6M67.4,49.8h0.6M63.7,51.6h0.6M65.4,57.5h0.6M52.4,71.9h0.6M63.8,56.9h0.6M75.2,59.7h0.6M56.8,50.3h0.6M59.4,57.8h0.6M66.4,41.1h0.6M66.8,48.9h0.6M64.5,48.8h0.6M49.3,58.9h0.6M63.7,54.4h0.6M52.3,54.3h0.6M54.7,51.3h0.6M64.0,62.1h0.6M58.3,53.8h0.6M65.8,33.2h0.6M81.7,51.1h0.6M65.6,57.8h0.6M65.2,61.6h0.6M54.2,71.6h0.6M55.9,48.6h0.6M53.1,59.1h0.6M56.7,55.9h0.6M52.9,44.0h0.6M55.8,37.4h0.6M58.9,65.3h0.6M53.5,50.5h0.6M50.7,55.1h0.6M51.0,56.9h0.6M63.4,52.2h0.6M60.7,57.4h0.6M67.3,41.5h0.6M67.4,49.7h0.6M58.0,55.1h0.6M64.9,45.2h0.6M50.5,52.8h0.6M75.8,48.3h0.6M68.4,51.9h0.6M58.8,42.8h0.6M52.4,55.5h0.6M62.9,57.2h0.6M47.6,68.7h0.6M55.0,61.9h0.6M65.4,64.6h0.6M60.8,56.2h0.6M57.0,56.2h0.6M66.8,72.7h0.6M53.2,59.4h0.6M62.2,51.1h0.6M56.9,57.0h0.6M54.5,67.3h0.6M63.5,45.4h0.6M53.5,65.4h0.6M73.2,63.6h0.6M56.3,67.8h0.6M73.8,53.0h0.6M52.9,51.3h0.6M64.4,46.0h0.6M52.1,58.1h0.6M51.2,70.4h0.6M61.4,62.5h0.6M64.9,63.4h0.6M51.6,61.6h0.6M68.4,69.8h0.6M54.9,58.1h0.6M61.2,51.5h0.6M62.9,57.7h0.6M64.3,52.1h0.6M48.1,69.2h0.6M71.3,66.1h0.6M64.1,61.5h0.6M57.4,48.4h0.6M53.3,50.8h0.6M48.8,64.9h0.6M51.0,50.0h0.6M64.0,58.9h0.6M58.0,45.2h0.6M52.6,55.7h0.6M56.7,62.3h0.6M70.9,47.1h0.6M58.1,64.6h0.6M56.3,66.6h0.6M69.5,66.7h0.6M63.4,54.1h0.6M60.6,57.7h0.6M56.2,59.3h0.6M49.7,64.2h0.6M52.3,47.6h0.6M57.0,62.0h0.6M58.8,63.9h0.6M62.7,45.9h0.6M64.1,44.0h0.6M61.8,53.9h0.6M61.8,71.6h0.6M53.4,64.6h0.6M45.6,56.8h0.6M56.8,58.3h0.6M53.8,46.2h0.6M55.9,70.4h0.6M58.4,52.1h0.6M51.8,65.4h0.6M52.7,48.5h0.6M59.6,58.2h0.6M61.1,48.3h0.6M55.8,64.3h0.6M63.7,68.2h0.6M58.8,67.2h0.6M53.4,64.7h0.6M60.6,65.9h0.6M73.1,42.9h0.6M55.7,47.4h0.6M68.2,52.4h0.6M69.7,63.1h0.6M70.5,55.0h0.6M54.7,65.0h0.6M74.0,40.5h0.6M61.1,54.4h0.6M58.6,53.7h0.6M58.7,61.2h0.6M64.4,73.1h0.6M60.6,63.8h0.6M59.1,67.2h0.6M69.0,51.3h0.6M55.4,58.1h0.6M53.2,66.4h0.6M65.7,58.9h0.6M65.1,42.4h0.6M67.7,63.1h0.6M53.0,67.5h0.6M67.7,56.9h0.6M63.6,62.2h0.6M72.3,57.1h0.6M51.8,55.5h0.6M61.8,42.1h0.6M58.4,73.1h0.6M49.5,61.0h0.6M55.4,58.5h0.6M68.0,55.5h0.6M57.1,59.9h0.6M55.4,61.8h0.6M66.2,46.8h0.6M67.0,59.1h0.6M67.0,56.2h0.6M54.9,59.0h0.6M59.9,56.5h0.6M67.3,56.5h0.6M55.8,50.2h0.6M55.2,59.0h0.6M65.9,54.0h0.6M70.9,54.3h0.6M52.5,68.4h0.6M42.6,70.1h0.6M50.4,69.4h0.6M53.4,57.9h0.6M59.4,63.7h0.6M64.5,65.0h0.6M59.3,55.6h0.6M55.5,54.4h0.6M61.3,72.0h0.6M53.8,45.0h0.6M60.0,57.1h0.6M55.9,59.6h0.6M78.5,42.3h0.6M65.9,54.9h0.6M54.6,64.3h0.6M53.5,40.8h0.6M57.3,67.4h0.6M49.1,61.8h0.6M55.3,51.7h0.6M55.3,68.0h0.6M66.3,56.2h0.6M57.4,54.9h0.6M54.9,38.6h0.6M51.2,67.9h0.6M52.3,60.3h0.6M59.8,51.8h0.6M58.8,57.1h0.6M68.0,65.1h0.6M56.0,55.2h0.6M67.5,54.1h0.6M62.0,52.9h0.6M60.3,47.7h0.6M46.6,53.1h0.6M51.5,56.7h0.6M65.3,53.0h0.6M69.8,63.6h0.6M61.7,58.0h0.6M65.5,53.7h0.6M57.5,61.6h0.6M57.8,57.3h0.6M55.8,65.8h0.6M66.9,42.1h0.6M62.6,38.2h0.6M58.7,61.1h0.6M58.1,54.6h0.6M64.1,58.1h0.6M62.5,45.8h0.6M54.6,55.4h0.6M72.0,52.9h0.6M62.0,58.6h0.6M60.4,56.2h0.6M70.3,62.6h0.6M67.3,49.3h0.6M59.7,63.6h0.6M63.9,51.6h0.6M53.0,58.5h0.6M55.9,49.4h0.6M44.9,62.4h0.6M68.6,45.9h0.6M47.4,69.3h0.6M64.9,50.6h0.6M54.7,61.0h0.6M53.6,57.8h0.6M59.0,57.1h0.6M62.1,48.7h0.6M64.5,73.2h0.6M72.3,50.6h0.6M62.7,69.2h0.6M66.3,45.1h0.6M56.2,75.4h0.6M65.2,64.3h0.6M61.3,71.2h0.6M57.2,44.4h0.6M59.6,68.5h0.6M59.9,56.5h0.6M61.6,61.4h0.6M63.0,71.8h0.6M56.8,61.3h0.6M55.3,53.3h0.6M65.4,57.2h0.6M48.8,53.0h0.6M56.1,61.7h0.6M70.9,53.8h0.6M41.9,66.5h0.6M55.6,55.9h0.6M65.0,39.6h0.6M49.1,57.8h0.6M78.0,49.9h0.6M42.7,68.3h0.6M70.1,60.6h0.6M70.9,41.4h0.6M66.5,64.8h0.6M58.8,65.6h0.6M62.7,57.3h0.6M54.2,62.9h0.6M65.8,38.9h0.6M52.7,79.9h0.6M58.4,54.8h0.6M67.1,49.0h0.6M52.7,69.3h0.6M57.8,63.6h0.6M61.4,53.3h0.6M51.2,46.4h0.6M68.2,62.6h0.6M62.6,70.0h0.6M50.0,52.3h0.6M60.0,44.4h0.6M55.0,61.9h0.6M55.8,77.6h0.6M60.8,44.8h0.6M55.5,60.6h0.6M66.9,45.6h0.6M55.5,59.2h0.6M67.0,58.3h0.6M60.0,61.2h0.6M66.1,42.9h0.6M56.6,46.3h0.6M56.9,76.6h0.6M52.5,67.8h0.6M64.2,40.9h0.6M66.7,58.4h0.6M74.7,64.2h0.6M69.1,54.4h0.6M62.0,57.7h0.6M58.9,58.6h0.6M62.9,60.5h0.6M60.1,60.0h0.6M70.3,58.0h0.6M66.7,52.4h0.6M54.6,66.1h0.6M55.6,61.3h0.6M69.6,55.5h0.6M62.4,45.5h0.6M58.7,54.6h0.6M68.4,55.6h0.6M57.7,53.6h0.6M58.4,54.5h0.6M57.2,49.0h0.6M47.0,57.3h0.6M66.2,40.1h0.6M52.1,48.5h0.6M56.4,58.9h0.6M55.2,62.5h0.6M65.2,48.2h0.6M59.8,53.0h0.6M60.4,58.1h0.6M48.9,73.6h0.6M59.7,73.1h0.6M50.3,57.6h0.6M62.4,50.1h0.6M62.8,49.6h0.6M60.2,68.3h0.6M74.2,44.0h0.6M63.9,60.7h0.6M64.4,52.7h0.6M61.3,53.4h0.6M59.0,64.6h0.6M66.9,60.2h0.6M67.8,72.5h0.6M51.5,68.0h0.6M67.5,70.3h0.6M63.8,52.4h0.6M66.8,54.7h0.6M63.5,48.5h0.6M51.8,57.0h0.6M52.3,65.3h0.6M72.7,50.3h0.6M62.0,60.1h0.6M50.7,55.2h0.6M62.7,53.8h0.6M57.8,66.5h0.6M47.8,61.3h0.6M44.7,61.9h0.6M49.4,63.4h0.6M62.1,49.1h0.6M60.0,42.8h0.6M58.6,61.0h0.6M62.2,59.7h0.6M64.4,75.1h0.6M46.0,63.0h0.6M58.3,61.7h0.6M54.7,77.5h0.6M51.9,57.6h0.6M56.6,53.5h0.6M59.5,63.8h0.6M58.5,61.1h0.6M50.4,68.7h0.6M57.0,51.9h0.6M74.0,65.8h0.6M53.1,62.3h0.6M48.8,44.4h0.6M62.2,56.3h0.6M64.4,52.0h0.6M63.5,57.5h0.6M52.7,69.8h0.6M67.1,55.4h0.6M55.0,55.6h0.6M52.6,68.5h0.6M56.2,55.7h0.6M59.6,46.9h0.6M65.2,46.6h0.6M64.5,69.4h0.6M60.1,65.7h0.6M66.6,69.0h0.6M60.9,48.0h0.6M66.4,50.1h0.6M50.8,54.4h0.6M49.6,68.2h0.6M65.6,65.5h0.6M50.8,59.7h0.6M58.2,57.1h0.6M59.6,64.8h0.6M57.0,57.2h0.6M57.2,52.8h0.6M69.8,52.3h0.6M43.1,71.7h0.6M66.3,73.4h0.6M75.9,54.5h0.6M60.5,55.8h0.6M60.2,59.6h0.6M65.2,59.4h0.6M72.7,59.2h0.6M52.2,53.8h0.6M60.9,57.6h0.6M59.0,56.7h0.6M64.1,64.3h0.6M61.4,62.2h0.6M64.8,54.5h0.6M57.4,66.8h0.6M60.6,67.9h0.6M55.7,61.6h0.6M55.8,48.5h0.6M59.3,56.0h0.6M59.3,45.2h0.6M52.3,61.0h0.6M71.0,56.5h0.6M59.4,69.5h0.6M50.9,65.3h0.6M67.8,42.6h0.6M55.2,56.2h0.6M63.8,49.9h0.6M60.2,51.3h0.6M62.0,56.8h0.6M61.5,58.7h0.6M56.4,57.5h0.6M60.6,51.5h0.6M74.1,48.9h0.6M45.1,58.0h0.6M60.7,55.8h0.6M63.3,62.9h0.6M53.1,61.8h0.6M51.0,68.3h0.6M75.0,44.0h0.6M57.8,76.0h0.6M74.4,54.6h0.6M63.9,35.8h0.6M60.8,60.0h0.6M63.5,65.9h0.6M64.6,56.1h0.6M68.3,43.7h0.6M63.3,57.7h0.6M61.3,51.8h0.6M61.5,56.1h0.6M69.5,57.5h0.6M65.9,28.7h0.6M53.5,58.9h0.6M56.0,63.3h0.6M62.5,60.7h0.6M56.1,55.4h0.6M57.7,54.6h0.6M53.8,52.8h0.6M58.5,56.7h0.6M63.2,68.6h0.6M67.1,50.6h0.6M60.4,59.9h0.6M74.4,55.2h0.6M59.8,70.1h0.6M82.0,55.2h0.6M67.1,61.3h0.6M63.7,56.5h0.6M56.9,70.8h0.6M41.1,63.1h0.6M59.2,56.6h0.6M61.5,66.4h0.6M73.4,58.4h0.6M50.9,67.6h0.6M73.3,45.4h0.6M58.6,79.4h0.6M65.2,58.6h0.6M43.0,77.0h0.6M61.2,60.7h0.6M58.0,50.8h0.6M64.9,61.2h0.6M60.9,55.9h0.6M52.5,67.0h0.6M66.7,38.7h0.6M65.0,48.0h0.6M64.4,46.4h0.6M67.2,66.4h0.6M67.8,64.3h0.6M60.2,48.1h0.6M51.1,61.9h0.6M50.9,62.5h0.6M69.5,51.5h0.6M65.1,66.4h0.6M61.0,50.5h0.6M57.3,58.1h0.6M60.5,53.1h0.6M60.5,63.0h0.6M58.0,53.7h0.6M55.5,64.8h0.6" stroke="#000" stroke-width="0.6" opacity="0.4" fill="none"/>
<path d="M67.5,83.2h0.6M67.2,86.8h0.6M64.7,83.2h0.6M65.4,77.3h0.6M43.7,90.7h0.6M66.7,83.2h0.6M59.5,74.8h0.6M61.9,81.7h0.6M59.5,80.1h0.6M52.3,86.5h0.6M57.8,80.6h0.6M65.6,82.9h0.6M70.5,70.3h0.6M57.3,76.9h0.6M55.4,85.6h0.6M55.6,77.0h0.6M74.8,76.6h0.6M61.6,91.7h0.6M55.6,101.4h0.6M67.7,93.7h0.6M72.3,75.1h0.6M52.0,93.0h0.6M71.4,87.5h0.6M59.5,81.4h0.6M71.0,72.4h0.6M58.8,83.6h0.6M51.0,84.3h0.6M64.6,88.3h0.6M74.9,73.8h0.6M72.5,84.3h0.6M65.8,96.0h0.6M59.8,90.5h0.6M57.9,78.2h0.6M59.4,89.9h0.6M55.9,75.4h0.6M59.5,80.1h0.6M44.8,80.8h0.6M62.5,77.5h0.6M61.1,78.9h0.6M78.0,91.1h0.6M66.2,86.3h0.6M65.0,94.3h0.6M53.3,87.7h0.6M57.4,73.8h0.6M49.2,84.8h0.6M70.6,90.7h0.6M65.2,95.3h0.6M53.7,78.6h0.6M60.9,74.2h0.6M67.5,70.8h0.6M64.5,82.9h0.6M63.8,74.0h0.6M55.7,92.7h0.6M57.2,81.9h0.6M61.9,89.5h0.6M67.3,81.8h0.6M55.9,76.6h0.6M54.0,73.8h0.6M68.7,92.3h0.6M55.3,72.0h0.6M68.3,87.7h0.6M62.9,92.6h0.6M67.0,84.9h0.6M72.6,96.6h0.6M65.8,83.4h0.6M66.3,80.8h0.6M55.3,85.2h0.6M56.8,78.6h0.6M65.5,86.2h0.6M71.3,83.4h0.6M70.3,96.4h0.6M76.4,83.0h0.6M63.3,91.1h0.6M62.6,87.4h0.6M67.8,84.2h0.6M61.4,81.7h0.6M60.9,98.2h0.6M54.5,97.5h0.6M67.7,86.1h0.6M54.3,79.1h0.6M64.6,80.2h0.6M52.1,75.4h0.6M68.4,71.7h0.6M54.6,78.9h0.6M66.8,83.6h0.6M51.0,92.7h0.6M58.4,91.9h0.6M69.0,87.6h0.6M56.1,81.0h0.6M61.7,81.4h0.6M58.2,83.4h0.6M46.3,84.8h0.6M63.3,77.7h0.6M64.1,81.5h0.6M54.1,80.7h0.6M65.0,80.6h0.6M56.1,88.3h0.6M54.8,92.7h0.6M61.3,79.0h0.6M56.9,79.6h0.6M76.2,85.4h0.6M51.2,87.1h0.6M67.7,90.2h0.6M48.4,85.4h0.6M50.0,81.0h0.6M65.0,93.8h0.6M58.2,82.3h0.6M68.7,75.0h0.6M58.9,77.7h0.6M54.4,78.1h0.6M43.6,82.4h0.6M62.6,74.8h0.6M55.3,84.8h0.6M63.3,87.2h0.6M62.8,82.5h0.6M52.3,75.2h0.6M72.5,80.4h0.6M68.3,77.3h0.6M66.8,101.6h0.6M53.6,72.7h0.6M57.7,71.4h0.6M58.6,86.3h0.6M54.0,91.0h0.6M64.1,80.9h0.6M62.8,92.3h0.6M63.7,76.9h0.6M58.0,88.1h0.6M69.7,74.8h0.6M62.5,71.1h0.6M43.5,101.7h0.6M57.1,80.8h0.6M60.9,89.7h0.6M67.6,96.1h0.6M59.3,89.0h0.6M59.7,85.4h0.6M57.0,74.1h0.6M65.6,97.1h0.6M58.4,73.9h0.6M56.5,78.0h0.6M64.9,78.5h0.6M57.8,83.5h0.6M50.4,94.0h0.6M65.3,78.6h0.6M56.7,79.9h0.6M63.6,76.8h0.6M69.1,76.8h0.6M68.1,79.6h0.6M60.2,95.5h0.6M52.9,93.7h0.6M72.2,86.8h0.6M64.2,89.3h0.6M70.4,77.2h0.6M59.2,86.3h0.6M71.3,69.7h0.6M61.9,76.5h0.6M62.2,86.9h0.6M61.7,77.8h0.6M65.5,76.1h0.6M64.8,93.0h0.6M51.0,80.3h0.6M68.4,77.0h0.6M57.9,81.5h0.6M72.5,72.5h0.6M67.3,90.8h0.6M59.1,82.3h0.6M49.2,90.9h0.6M62.4,78.2h0.6M64.8,91.2h0.6M60.8,75.1h0.6M53.2,79.9h0.6M56.2,74.7h0.6M53.1,84.7h0.6M62.7,96.5h0.6M68.0,85.0h0.6M56.5,71.0h0.6M62.8,79.5h0.6M64.9,77.3h0.6M60.3,80.3h0.6M75.1,70.8h0.6M62.6,96.8h0.6M67.0,75.6h0.6M58.5,85.6h0.6M61.6,84.6h0.6M50.2,83.3h0.6M61.1,80.3h0.6M74.9,100.1h0.6M69.1,83.0h0.6M65.8,89.8h0.6M61.6,72.9h0.6M57.4,87.2h0.6M60.3,79.3h0.6M65.3,87.0h0.6M56.2,77.4h0.6M67.4,74.3h0.6M54.9,87.0h0.6M49.7,83.0h0.6M54.7,96.2h0.6M50.5,80.7h0.6M52.4,75.7h0.6M68.7,88.4h0.6M60.0,73.3h0.6M62.7,102.1h0.6M68.8,100.1h0.6M69.5,95.9h0.6M58.0,87.8h0.6M69.9,83.2h0.6M63.8,84.1h0.6M61.3,84.0h0.6M64.2,76.9h0.6M52.0,87.6h0.6M56.2,94.8h0.6M60.6,94.6h0.6M60.5,85.0h0.6M67.6,70.3h0.6M70.5,79.0h0.6M66.3,90.9h0.6M69.5,83.4h0.6M58.7,75.6h0.6M59.3,72.5h0.6M63.4,91.5h0.6M59.3,76.6h0.6M58.0,81.1h0.6M72.0,73.5h0.6M60.0,70.9h0.6M55.0,86.5h0.6M64.5,96.4h0.6M73.2,79.8h0.6M69.3,77.2h0.6M58.5,81.3h0.6M56.8,92.8h0.6M60.4,75.3h0.6M73.2,88.5h0.6M53.8,83.0h0.6M71.9,82.6h0.6M54.7,69.8h0.6M59.8,91.8h0.6M66.7,88.2h0.6M65.4,97.7h0.6M63.1,79.0h0.6M50.6,87.5h0.6M63.7,79.6h0.6M54.7,93.1h0.6M78.0,86.6h0.6M59.9,74.0h0.6M62.5,85.0h0.6M53.8,77.8h0.6M58.2,78.6h0.6M52.9,86.6h0.6M67.7,97.4h0.6M59.6,74.5h0.6M65.0,81.9h0.6M56.9,74.6h0.6M58.0,101.5h0.6M69.7,98.3h0.6M55.0,102.7h0.6M49.6,91.3h0.6M63.9,74.0h0.6M53.9,78.3h0.6M58.4,83.7h0.6M67.2,82.2h0.6M56.0,76.6h0.6M67.0,86.1h0.6M56.9,79.8h0.6M71.0,82.1h0.6M69.9,103.1h0.6M58.2,86.9h0.6M59.9,71.2h0.6M55.9,87.0h0.6M62.6,84.7h0.6M68.8,88.9h0.6M51.9,87.8h0.6M67.3,73.3h0.6M52.7,85.8h0.6M55.7,92.6h0.6M75.0,88.6h0.6M61.7,101.1h0.6M62.9,99.8h0.6M56.9,76.2h0.6M68.2,77.0h0.6M47.6,100.7h0.6" stroke="#000" stroke-width="0.6" opacity="0.4" fill="none"/>
<rect x="41.0" y="34.7" width="52.4" height="40.7" fill="none" stroke="#585858" stroke-width="1.3"/>
<text x="92.3" y="72.8" font-size="6.9" font-weight="bold" text-anchor="end" fill="#000" stroke="#000" stroke-width="0.3">89.8</text>
<text x="29.5" y="17.4" font-size="9.3" font-weight="bold" textLength="53.3" lengthAdjust="spacingAndGlyphs" fill="#000" stroke="#000" stroke-width="0.4">CD161- Treg</text>
<path d="M9.35,46.4V114.1H85.8" stroke="#000" stroke-width="1.6" fill="none" stroke-linejoin="miter"/>
<path d="M9.35,41.4l-2.6,6.6h5.2z" fill="#000"/>
<path d="M90.8,114.1l-6.8,-2.5v5z" fill="#000"/>
<text x="7.3" y="62.8" font-size="9.4" font-weight="normal" text-anchor="middle" textLength="25.2" lengthAdjust="spacingAndGlyphs" transform="rotate(-90 7.3 62.8)" fill="#000" stroke="#000" stroke-width="0.45">FoxP3</text>
<text x="62.9" y="122.8" font-size="9.4" font-weight="normal" textLength="17.3" lengthAdjust="spacingAndGlyphs" fill="#000" stroke="#000" stroke-width="0.45">CD4</text>
<rect x="127.6" y="21.8" width="82.0" height="82.4" fill="#fff" stroke="#c2c2c2" stroke-width="0.9"/>
<path d="M127.6,104.2h1.6M127.6,98.0h0.9M127.6,94.3h0.9M127.6,91.8h0.9M127.6,89.8h0.9M127.6,88.1h0.9M127.6,86.7h0.9M127.6,85.7h0.9M127.6,84.6h0.9M127.6,83.6h1.6M127.6,77.4h0.9M127.6,73.7h0.9M127.6,71.2h0.9M127.6,69.2h0.9M127.6,67.5h0.9M127.6,66.1h0.9M127.6,65.1h0.9M127.6,64.0h0.9M127.6,63.0h1.6M127.6,56.8h0.9M127.6,53.1h0.9M127.6,50.6h0.9M127.6,48.6h0.9M127.6,46.9h0.9M127.6,45.5h0.9M127.6,44.5h0.9M127.6,43.4h0.9M127.6,42.4h1.6M127.6,36.2h0.9M127.6,32.5h0.9M127.6,30.0h0.9M127.6,28.0h0.9M127.6,26.3h0.9M127.6,24.9h0.9M127.6,23.9h0.9M127.6,22.8h0.9M127.6,104.2v-1.6M133.8,104.2v-0.9M137.4,104.2v-0.9M139.9,104.2v-0.9M141.9,104.2v-0.9M143.6,104.2v-0.9M145.0,104.2v-0.9M146.0,104.2v-0.9M147.1,104.2v-0.9M148.1,104.2v-1.6M154.2,104.2v-0.9M157.9,104.2v-0.9M160.4,104.2v-0.9M162.4,104.2v-0.9M164.1,104.2v-0.9M165.5,104.2v-0.9M166.5,104.2v-0.9M167.6,104.2v-0.9M168.6,104.2v-1.6M174.8,104.2v-0.9M178.4,104.2v-0.9M180.9,104.2v-0.9M182.9,104.2v-0.9M184.6,104.2v-0.9M186.0,104.2v-0.9M187.0,104.2v-0.9M188.1,104.2v-0.9M189.1,104.2v-1.6M195.2,104.2v-0.9M198.9,104.2v-0.9M201.4,104.2v-0.9M203.4,104.2v-0.9M205.1,104.2v-0.9M206.5,104.2v-0.9M207.5,104.2v-0.9M208.6,104.2v-0.9" stroke="#777" stroke-width="0.5" fill="none" opacity="0.8"/>
<ellipse cx="175.0" cy="53.3" rx="10.5" ry="13.5" fill="url(#core2)" transform="rotate(8 175.0 53.3)"/>
<path d="M178.9,47.1h0.6M177.1,61.9h0.6M171.4,56.9h0.6M178.4,57.4h0.6M167.5,57.1h0.6M169.5,49.2h0.6M168.4,58.5h0.6M169.9,50.9h0.6M179.0,48.2h0.6M168.9,65.0h0.6M169.7,61.5h0.6M170.6,56.5h0.6M175.9,56.7h0.6M173.4,51.7h0.6M179.0,64.3h0.6M171.7,49.5h0.6M169.1,49.9h0.6M172.7,54.8h0.6M175.2,61.7h0.6M170.7,54.1h0.6M176.3,56.3h0.6M183.3,48.1h0.6M172.3,54.4h0.6M175.2,48.8h0.6M181.2,54.7h0.6M172.0,45.1h0.6M171.1,68.2h0.6M169.9,60.6h0.6M176.8,49.9h0.6M177.3,62.1h0.6M174.2,48.9h0.6M175.1,60.7h0.6M180.8,51.6h0.6M178.9,58.1h0.6M168.5,57.3h0.6M174.9,52.3h0.6M175.4,53.9h0.6M178.2,55.0h0.6M173.9,40.3h0.6M171.9,53.9h0.6M172.8,59.7h0.6M166.7,49.3h0.6M174.8,48.3h0.6M172.1,46.4h0.6M177.0,41.9h0.6M170.1,60.0h0.6M172.9,47.2h0.6M170.4,47.3h0.6M170.0,54.3h0.6M178.1,51.2h0.6M172.7,72.2h0.6M176.9,56.4h0.6M169.7,43.4h0.6M175.3,64.2h0.6M167.1,58.2h0.6M172.6,52.0h0.6M172.5,50.3h0.6M177.5,42.8h0.6M175.6,64.0h0.6M174.0,53.2h0.6M178.7,47.3h0.6M175.7,61.2h0.6M177.3,53.1h0.6M178.3,41.1h0.6M174.5,45.3h0.6M173.5,50.3h0.6M176.3,69.1h0.6M172.9,54.5h0.6M176.6,50.6h0.6M179.9,54.2h0.6M178.7,52.9h0.6M173.0,34.8h0.6M168.9,55.9h0.6M174.5,59.3h0.6M174.2,52.0h0.6M179.9,54.3h0.6M173.0,55.6h0.6M173.8,54.1h0.6M178.2,47.9h0.6M172.6,52.3h0.6M174.1,60.9h0.6M182.7,52.6h0.6M181.6,49.1h0.6M177.7,55.6h0.6M176.0,46.1h0.6M170.3,49.5h0.6M177.3,58.9h0.6M175.0,51.3h0.6M175.8,41.0h0.6M172.4,44.3h0.6M174.7,53.7h0.6M173.9,48.0h0.6M176.2,57.2h0.6M181.3,60.9h0.6M176.4,49.6h0.6M167.2,53.4h0.6M170.3,51.1h0.6M167.5,55.0h0.6M171.1,52.1h0.6M177.3,56.0h0.6M176.6,50.1h0.6M172.0,48.8h0.6M176.0,53.5h0.6M171.3,49.1h0.6M168.3,65.5h0.6M168.3,59.5h0.6M170.8,45.3h0.6M181.3,41.2h0.6M168.6,53.1h0.6M180.5,52.8h0.6M180.9,59.9h0.6M173.9,51.3h0.6M174.5,48.6h0.6M172.0,63.0h0.6M174.7,49.9h0.6M177.8,49.7h0.6M174.8,50.6h0.6M179.3,59.3h0.6M180.2,48.9h0.6M176.3,62.2h0.6M176.3,43.9h0.6M174.5,52.6h0.6M176.4,60.2h0.6M169.6,46.1h0.6M176.6,45.9h0.6M175.7,57.1h0.6M170.8,40.6h0.6M184.6,57.5h0.6M170.3,52.3h0.6M170.8,46.9h0.6M176.0,67.0h0.6M165.9,49.0h0.6M171.1,54.5h0.6M167.8,54.9h0.6M170.3,60.8h0.6M174.1,51.4h0.6M176.2,59.9h0.6M179.8,58.3h0.6M178.5,55.3h0.6M180.2,59.8h0.6M177.5,43.2h0.6M172.6,61.9h0.6M179.9,56.9h0.6M172.5,55.7h0.6M171.9,53.9h0.6M181.8,47.1h0.6M178.4,47.6h0.6M175.8,55.0h0.6M178.2,55.0h0.6M178.8,52.3h0.6M168.5,49.6h0.6M174.3,49.2h0.6M169.3,57.6h0.6M175.3,65.9h0.6M171.7,40.8h0.6M181.0,46.3h0.6M177.1,51.3h0.6M171.0,52.0h0.6M174.7,56.6h0.6M169.2,60.6h0.6M174.9,55.4h0.6M177.3,54.2h0.6M176.0,56.9h0.6M165.9,64.1h0.6M173.2,55.6h0.6M177.1,49.3h0.6M176.1,56.1h0.6M180.1,52.1h0.6M168.8,67.2h0.6M177.1,54.1h0.6M171.7,54.7h0.6M175.6,60.7h0.6M176.6,63.6h0.6M177.9,50.2h0.6M172.1,58.9h0.6M175.6,50.2h0.6M169.4,57.0h0.6M168.3,50.8h0.6M177.3,54.9h0.6M174.5,62.6h0.6M167.3,55.4h0.6M170.8,56.2h0.6M174.8,49.3h0.6M181.9,54.7h0.6M179.5,54.8h0.6M178.4,47.3h0.6M166.5,47.9h0.6M174.3,48.8h0.6M176.9,46.5h0.6M176.5,50.2h0.6M176.6,48.2h0.6M173.7,48.2h0.6M182.8,49.2h0.6M181.5,51.6h0.6M174.3,52.6h0.6M170.2,39.5h0.6M184.2,51.4h0.6M172.2,55.3h0.6M180.2,54.5h0.6M183.5,51.8h0.6M170.4,52.7h0.6M176.1,60.0h0.6M173.1,65.8h0.6M177.1,51.1h0.6M176.2,62.9h0.6M183.7,50.0h0.6M177.4,51.9h0.6M174.7,46.3h0.6M179.9,42.1h0.6M173.5,51.4h0.6M173.1,57.1h0.6M185.0,58.5h0.6M171.0,59.0h0.6M172.5,53.6h0.6M174.9,66.0h0.6M169.9,53.9h0.6M165.0,55.4h0.6M179.6,48.4h0.6M171.1,56.1h0.6M172.2,53.2h0.6M173.0,58.2h0.6M170.2,57.1h0.6M169.8,65.2h0.6M175.5,52.4h0.6M185.8,41.6h0.6M178.1,51.7h0.6M178.2,50.4h0.6M167.8,60.8h0.6M174.6,44.6h0.6M169.3,59.2h0.6M178.3,47.7h0.6M173.7,52.9h0.6M174.9,59.2h0.6M174.3,47.1h0.6M172.0,53.8h0.6M167.7,53.7h0.6M177.4,50.0h0.6M168.4,54.8h0.6M169.3,56.8h0.6M173.4,50.8h0.6M171.5,56.5h0.6M175.9,52.7h0.6M179.4,56.5h0.6M175.9,62.3h0.6M175.6,57.3h0.6M174.8,56.4h0.6M178.7,52.5h0.6M166.2,47.8h0.6M176.4,63.4h0.6M170.4,53.4h0.6M169.1,68.1h0.6M174.8,59.8h0.6M172.9,56.8h0.6M177.4,66.6h0.6M179.8,63.7h0.6M164.0,54.6h0.6M174.4,52.9h0.6M183.7,52.2h0.6M178.7,57.5h0.6M181.4,38.8h0.6M175.2,54.2h0.6M168.1,60.0h0.6M169.6,44.1h0.6M178.0,48.9h0.6M179.1,54.7h0.6M171.4,46.7h0.6M173.5,52.6h0.6M175.9,49.2h0.6M166.7,53.5h0.6M173.1,60.0h0.6M182.2,45.9h0.6M184.8,50.3h0.6M174.2,59.6h0.6M183.2,56.3h0.6M172.3,48.0h0.6M171.0,56.4h0.6M164.4,55.2h0.6M179.1,48.5h0.6M173.0,52.9h0.6M185.5,60.5h0.6M176.3,49.1h0.6M175.6,47.4h0.6M166.4,49.7h0.6M181.6,42.0h0.6M173.1,51.5h0.6M174.0,48.7h0.6M164.6,45.7h0.6M179.0,54.3h0.6M179.3,41.8h0.6M171.9,43.3h0.6M175.2,48.5h0.6M176.5,41.7h0.6M179.2,47.2h0.6M175.2,58.7h0.6M182.7,44.8h0.6M173.6,51.6h0.6M171.9,51.4h0.6M172.6,52.8h0.6M163.1,47.4h0.6M171.0,50.7h0.6M179.4,56.7h0.6M176.0,50.1h0.6M171.0,49.6h0.6M176.4,57.5h0.6M165.5,57.9h0.6M173.4,56.0h0.6M177.2,56.6h0.6M178.0,50.6h0.6M171.2,47.8h0.6M178.9,40.9h0.6M183.3,44.3h0.6M172.8,47.5h0.6M178.2,45.7h0.6M167.6,46.6h0.6M165.7,57.5h0.6M177.6,48.5h0.6M175.0,51.3h0.6M175.7,54.0h0.6M172.1,56.7h0.6M173.4,56.7h0.6M178.5,54.2h0.6M182.7,59.3h0.6M173.8,50.4h0.6M167.2,55.0h0.6M180.6,51.5h0.6M177.5,50.7h0.6M177.9,48.3h0.6M175.6,56.8h0.6M185.5,51.8h0.6M175.1,63.1h0.6M177.1,66.5h0.6M166.2,67.0h0.6M172.1,44.5h0.6M171.6,65.2h0.6M174.6,50.5h0.6M176.4,44.0h0.6M171.3,56.9h0.6M182.7,41.7h0.6M169.9,43.0h0.6M172.7,48.0h0.6M175.9,38.6h0.6M169.0,50.7h0.6M177.4,57.3h0.6M177.7,49.5h0.6M173.4,56.3h0.6M183.6,59.5h0.6M175.1,61.1h0.6M176.1,38.9h0.6M170.3,57.5h0.6M167.1,55.0h0.6M171.9,58.0h0.6M173.3,52.8h0.6M172.7,55.2h0.6M178.3,55.1h0.6M163.8,62.9h0.6M169.5,63.0h0.6M166.4,59.5h0.6M180.9,50.2h0.6M172.2,41.1h0.6M172.4,47.3h0.6M169.7,43.1h0.6M178.9,49.4h0.6M172.9,54.2h0.6M175.8,61.2h0.6M165.4,55.1h0.6M180.2,65.3h0.6M176.6,54.7h0.6M177.3,42.7h0.6M180.5,50.1h0.6M173.9,46.5h0.6M174.0,55.7h0.6M178.1,61.0h0.6M176.7,55.8h0.6M173.6,55.9h0.6M175.0,45.8h0.6M172.4,41.6h0.6M178.1,57.1h0.6M179.1,54.5h0.6M174.8,54.1h0.6M183.4,53.6h0.6M167.7,62.3h0.6M173.7,52.8h0.6M182.7,49.4h0.6M172.8,51.2h0.6M167.4,62.1h0.6M181.2,52.6h0.6M177.3,63.3h0.6M169.3,48.7h0.6M178.3,58.7h0.6M170.1,55.8h0.6M168.6,57.2h0.6M174.1,56.9h0.6M172.6,60.1h0.6M169.7,65.0h0.6M173.1,42.9h0.6M170.1,52.5h0.6M175.1,51.5h0.6M174.7,40.3h0.6M178.2,53.1h0.6M172.7,50.2h0.6M168.6,54.3h0.6M168.7,47.1h0.6M173.6,50.3h0.6M181.9,49.8h0.6M178.7,53.9h0.6M171.8,52.0h0.6M179.1,45.1h0.6M169.4,67.0h0.6M179.5,53.0h0.6M173.0,56.1h0.6M178.3,54.3h0.6M177.7,64.7h0.6M173.5,48.9h0.6M176.3,58.0h0.6M169.9,55.5h0.6M174.4,56.3h0.6M179.8,62.4h0.6M193.7,52.1h0.6M178.0,63.8h0.6M175.2,58.8h0.6M170.1,56.0h0.6M179.7,52.2h0.6M167.1,54.3h0.6M171.1,54.7h0.6M176.4,39.7h0.6M169.2,51.6h0.6M181.9,59.2h0.6M179.8,55.9h0.6M172.2,57.7h0.6M172.2,54.7h0.6M168.7,58.1h0.6M168.3,59.7h0.6M176.8,42.6h0.6M177.7,52.3h0.6M176.4,54.9h0.6M176.0,54.4h0.6M172.2,55.0h0.6M176.5,44.3h0.6M168.0,51.6h0.6M174.8,46.2h0.6M181.6,70.9h0.6M180.9,49.9h0.6M172.6,47.1h0.6M173.2,41.3h0.6M181.1,51.7h0.6M183.0,62.0h0.6M167.9,50.9h0.6M172.8,57.2h0.6M175.9,63.9h0.6M180.4,55.8h0.6M170.9,47.4h0.6M177.8,45.2h0.6M173.4,49.0h0.6M185.8,57.3h0.6M176.8,37.3h0.6M174.2,60.4h0.6M173.2,53.9h0.6M179.7,61.0h0.6M177.9,44.4h0.6M169.8,51.4h0.6M175.8,47.5h0.6M168.6,53.8h0.6M171.3,54.2h0.6M168.8,53.2h0.6M168.7,65.9h0.6M171.6,47.7h0.6M170.3,48.4h0.6M177.2,55.0h0.6M178.5,52.4h0.6M173.7,51.5h0.6M169.6,44.5h0.6M178.5,49.7h0.6M165.4,54.7h0.6M165.9,58.0h0.6M178.2,61.6h0.6M177.8,56.1h0.6M179.3,51.7h0.6M173.8,54.8h0.6M169.0,53.8h0.6M172.4,49.0h0.6M177.4,49.9h0.6M171.3,52.1h0.6M171.6,49.7h0.6M168.4,53.2h0.6M169.4,54.3h0.6M178.7,49.4h0.6M176.9,63.2h0.6M169.4,46.5h0.6M169.8,62.0h0.6M172.2,48.5h0.6M177.3,52.5h0.6M169.4,47.4h0.6M174.0,53.0h0.6M164.9,60.8h0.6M169.0,47.6h0.6M176.7,51.5h0.6M178.9,51.5h0.6M169.5,53.6h0.6M171.2,47.6h0.6M178.5,47.3h0.6M173.0,52.0h0.6M172.3,63.0h0.6M177.2,55.0h0.6M175.7,52.2h0.6M179.9,41.0h0.6M178.5,49.9h0.6M172.1,54.1h0.6M174.2,45.8h0.6M174.5,53.8h0.6M168.5,54.5h0.6M170.3,53.0h0.6M179.3,61.3h0.6M167.5,48.6h0.6M179.4,49.5h0.6M176.1,54.5h0.6M174.2,60.1h0.6M177.3,51.2h0.6M177.0,44.0h0.6M180.4,55.8h0.6M173.0,59.9h0.6M173.7,50.6h0.6M173.7,63.0h0.6M183.5,64.9h0.6M179.2,54.8h0.6M170.5,58.1h0.6M173.3,55.0h0.6M171.5,57.0h0.6M174.9,50.9h0.6M175.8,54.1h0.6M185.4,54.5h0.6M166.4,57.5h0.6M179.6,48.2h0.6M176.8,46.7h0.6M171.6,48.1h0.6M174.1,48.8h0.6M172.5,73.7h0.6M175.0,59.1h0.6M179.5,54.0h0.6M167.8,53.1h0.6M180.9,61.7h0.6M173.1,44.6h0.6M181.8,49.7h0.6M176.7,56.4h0.6M180.5,50.8h0.6M177.4,54.6h0.6M179.8,56.6h0.6M175.1,49.8h0.6M171.0,56.5h0.6M177.9,61.0h0.6M178.1,56.2h0.6M184.5,51.7h0.6M165.6,61.4h0.6M173.9,45.4h0.6M179.7,58.6h0.6M169.1,43.4h0.6M173.8,47.7h0.6M184.6,56.8h0.6M181.4,50.8h0.6M170.8,46.5h0.6M181.4,52.8h0.6M180.3,59.2h0.6M178.4,51.5h0.6M176.6,40.4h0.6M176.0,61.9h0.6M170.8,50.3h0.6M172.5,53.4h0.6M178.2,53.0h0.6M175.5,55.2h0.6M183.4,53.2h0.6M173.3,46.9h0.6M163.8,51.5h0.6M173.3,59.3h0.6M176.1,43.1h0.6M176.6,60.5h0.6M175.2,48.8h0.6M171.1,52.5h0.6M181.8,44.2h0.6M171.8,51.3h0.6M178.1,45.8h0.6M173.5,53.3h0.6M169.4,48.0h0.6M181.4,49.5h0.6M163.3,42.1h0.6M171.0,57.9h0.6M176.9,45.2h0.6M173.2,50.4h0.6M178.3,51.1h0.6M174.4,56.4h0.6M172.8,50.6h0.6M184.8,59.9h0.6M173.9,61.5h0.6M174.2,48.7h0.6M169.9,63.4h0.6M171.5,44.8h0.6M177.9,53.9h0.6M177.5,50.8h0.6M174.9,52.4h0.6M171.7,50.9h0.6M178.1,53.9h0.6M167.1,56.7h0.6M173.3,54.0h0.6M173.7,46.7h0.6M171.0,46.7h0.6M175.6,44.9h0.6M171.8,51.2h0.6M171.2,54.8h0.6M183.2,61.5h0.6M178.3,48.2h0.6M180.4,46.6h0.6M175.2,55.3h0.6M179.4,47.0h0.6M178.5,44.2h0.6M180.5,51.1h0.6M185.8,44.2h0.6M173.9,51.2h0.6M176.1,63.2h0.6M174.7,55.8h0.6M158.8,58.6h0.6M168.5,50.9h0.6M175.0,58.1h0.6M177.9,54.9h0.6M172.3,59.3h0.6M180.2,52.0h0.6M180.9,51.2h0.6M173.1,47.2h0.6M181.5,46.6h0.6M183.0,50.2h0.6M177.1,50.9h0.6M170.5,53.1h0.6M181.7,50.8h0.6M174.2,43.5h0.6M173.2,68.4h0.6M175.5,53.8h0.6M172.5,51.4h0.6M179.9,44.9h0.6M178.6,58.8h0.6M180.6,49.6h0.6M177.7,47.0h0.6M171.3,56.3h0.6M174.3,64.7h0.6M179.0,54.2h0.6M173.1,60.6h0.6M188.4,46.1h0.6M173.9,58.3h0.6M172.3,42.5h0.6M180.3,50.9h0.6M178.4,57.1h0.6M174.9,55.9h0.6M173.9,59.7h0.6M177.0,50.0h0.6M178.8,42.9h0.6M178.5,53.4h0.6M173.6,47.4h0.6M177.0,58.2h0.6M178.9,50.2h0.6M178.5,38.0h0.6M160.8,64.3h0.6M170.9,46.1h0.6M171.4,46.4h0.6M173.9,64.6h0.6M175.8,61.5h0.6M179.2,58.0h0.6M177.8,46.3h0.6M174.4,55.6h0.6M175.1,53.8h0.6M183.1,46.9h0.6M172.2,52.7h0.6M176.4,51.2h0.6M182.2,53.3h0.6M176.6,45.6h0.6M165.6,59.5h0.6M176.7,42.2h0.6M173.2,55.3h0.6M174.5,57.8h0.6M179.8,47.9h0.6M177.2,49.6h0.6M173.8,65.2h0.6M179.1,50.7h0.6M177.0,60.7h0.6M175.5,57.8h0.6M176.4,47.7h0.6M176.2,57.9h0.6M173.4,51.0h0.6M172.9,55.6h0.6M175.1,41.0h0.6M170.6,54.3h0.6M169.2,61.2h0.6M181.0,58.4h0.6M173.9,58.6h0.6M174.9,52.1h0.6M174.4,53.0h0.6M175.1,46.9h0.6M175.1,51.8h0.6M175.3,52.0h0.6M171.3,51.6h0.6M179.3,52.8h0.6M171.8,51.7h0.6M179.8,47.1h0.6M166.2,49.9h0.6M170.1,57.2h0.6M179.6,62.8h0.6M174.3,58.0h0.6M171.9,51.8h0.6M176.7,67.8h0.6M170.2,56.8h0.6M175.4,50.1h0.6M164.8,58.4h0.6M172.9,60.2h0.6M172.0,42.8h0.6M177.5,43.9h0.6M179.0,53.7h0.6M171.1,45.6h0.6M182.4,43.5h0.6M172.3,60.4h0.6M165.5,38.4h0.6M164.1,60.9h0.6M182.1,53.1h0.6M174.6,59.7h0.6M172.0,53.1h0.6M171.6,61.7h0.6M170.0,54.0h0.6M181.2,45.1h0.6M174.6,51.7h0.6M183.2,52.9h0.6M174.1,43.7h0.6M164.2,60.6h0.6M178.9,46.2h0.6M173.3,55.2h0.6M173.9,51.9h0.6M182.2,51.3h0.6M173.8,52.4h0.6M180.3,52.2h0.6M175.0,57.8h0.6M171.5,57.2h0.6M177.3,49.8h0.6M172.2,54.2h0.6M180.7,59.0h0.6M179.4,56.4h0.6M175.3,57.2h0.6M177.8,52.8h0.6M177.6,51.4h0.6M173.7,52.7h0.6M179.1,56.2h0.6M174.0,53.1h0.6M177.8,60.9h0.6M170.6,71.6h0.6M175.5,53.3h0.6M176.9,62.8h0.6M171.4,59.6h0.6M173.1,60.8h0.6M172.6,49.7h0.6M178.4,59.8h0.6M171.7,52.1h0.6M177.0,55.7h0.6M182.0,59.3h0.6M176.7,62.4h0.6M167.6,51.8h0.6M175.6,50.6h0.6M179.8,47.4h0.6M173.7,42.2h0.6M180.1,50.4h0.6M177.9,50.8h0.6M177.0,53.5h0.6M173.8,52.7h0.6M172.7,55.8h0.6M173.9,58.9h0.6M175.3,40.9h0.6M177.4,64.1h0.6M177.0,51.2h0.6M173.7,50.8h0.6M175.3,52.2h0.6M176.8,58.7h0.6M167.6,55.9h0.6M171.5,56.7h0.6M171.4,60.5h0.6M174.1,53.7h0.6M173.8,56.0h0.6M173.9,56.9h0.6M171.0,49.9h0.6M178.2,59.1h0.6M176.3,50.3h0.6M167.5,58.5h0.6M175.1,50.6h0.6M169.9,53.9h0.6M182.9,50.2h0.6M173.0,59.7h0.6M173.3,58.4h0.6M175.5,58.5h0.6M174.2,52.4h0.6M174.8,48.8h0.6M182.2,45.3h0.6M176.1,56.2h0.6M178.9,52.0h0.6M180.3,62.2h0.6M170.6,67.8h0.6M182.8,57.1h0.6M178.2,56.8h0.6M179.5,61.9h0.6M171.1,65.0h0.6M178.8,49.3h0.6M177.0,57.9h0.6M172.6,64.1h0.6M185.6,37.0h0.6M177.7,51.8h0.6M174.0,55.5h0.6M176.0,49.0h0.6M179.3,57.2h0.6M180.3,42.6h0.6M177.8,62.3h0.6M180.7,60.3h0.6M181.9,52.9h0.6M169.4,59.2h0.6M172.9,45.2h0.6M170.8,64.1h0.6M175.5,57.8h0.6M181.7,50.6h0.6M178.1,49.4h0.6M170.3,48.3h0.6M173.7,51.6h0.6M179.8,39.0h0.6M172.6,56.8h0.6M174.6,52.5h0.6M176.5,48.0h0.6M166.7,57.1h0.6M178.7,54.5h0.6M176.7,56.0h0.6M177.7,56.9h0.6M170.6,61.3h0.6M171.6,57.6h0.6M172.3,63.5h0.6M176.2,51.0h0.6M175.4,63.2h0.6M175.7,40.8h0.6M183.3,41.5h0.6M181.1,45.6h0.6M171.8,55.5h0.6M172.1,57.7h0.6M183.0,44.5h0.6M173.6,52.7h0.6M181.4,48.8h0.6M182.4,56.5h0.6M172.6,47.5h0.6M173.9,58.7h0.6M175.5,52.8h0.6M171.1,64.9h0.6M170.6,58.5h0.6M173.2,50.9h0.6M179.0,55.5h0.6M173.0,56.7h0.6M174.1,49.0h0.6M173.0,54.5h0.6M168.8,47.3h0.6M181.9,67.0h0.6M164.3,52.3h0.6M172.1,51.1h0.6M177.7,62.5h0.6M168.7,62.8h0.6M177.9,47.7h0.6M180.9,58.9h0.6M171.1,58.3h0.6M176.1,49.8h0.6M170.0,56.7h0.6M177.4,50.2h0.6M175.5,58.8h0.6M176.1,51.6h0.6M181.4,45.7h0.6M177.3,51.2h0.6M181.3,65.7h0.6M178.0,49.0h0.6M169.6,54.4h0.6M176.3,58.9h0.6M177.3,44.6h0.6M168.4,65.6h0.6M181.2,40.9h0.6M175.4,57.4h0.6M176.8,43.7h0.6M171.0,54.7h0.6M175.4,61.7h0.6M176.5,52.8h0.6M173.6,51.9h0.6M175.5,50.2h0.6M165.3,49.1h0.6M181.4,57.8h0.6M170.0,51.6h0.6M165.0,51.1h0.6M170.7,56.2h0.6M171.2,60.1h0.6M177.6,58.9h0.6M170.9,49.9h0.6M176.4,48.5h0.6M170.7,59.6h0.6M185.2,59.7h0.6M177.6,45.5h0.6M184.1,61.3h0.6M170.4,53.6h0.6M178.1,57.9h0.6M170.7,65.2h0.6M177.7,52.3h0.6M178.2,54.2h0.6M167.7,46.3h0.6M169.9,40.8h0.6M169.7,55.9h0.6M168.2,48.8h0.6M171.7,47.9h0.6M170.7,57.7h0.6M168.4,60.3h0.6M175.5,43.7h0.6M177.6,55.3h0.6M169.0,55.0h0.6M172.5,55.9h0.6M175.1,54.4h0.6M174.0,57.5h0.6M171.8,49.7h0.6M178.8,45.2h0.6M179.0,55.1h0.6M178.2,61.4h0.6M174.1,53.5h0.6M184.2,60.9h0.6M183.1,55.9h0.6M173.2,46.5h0.6M174.5,39.6h0.6M180.5,50.2h0.6M171.4,60.9h0.6M176.9,48.5h0.6M175.3,67.3h0.6M171.8,58.5h0.6M174.0,44.6h0.6M167.8,50.6h0.6M172.5,62.6h0.6M165.9,65.6h0.6M185.5,46.3h0.6M182.0,52.5h0.6M180.7,56.1h0.6M176.4,50.8h0.6M179.6,56.2h0.6M180.9,64.2h0.6M179.7,47.8h0.6M179.3,56.7h0.6M170.8,60.6h0.6M177.0,61.4h0.6M172.6,52.6h0.6M169.6,59.6h0.6M169.8,50.9h0.6M177.0,54.9h0.6M179.9,46.1h0.6M168.7,57.3h0.6M183.1,56.0h0.6M181.8,64.3h0.6M173.3,60.7h0.6M172.9,49.7h0.6M174.7,35.1h0.6M179.5,60.4h0.6M173.3,60.3h0.6M169.9,52.6h0.6M176.6,50.4h0.6M165.5,59.7h0.6M175.7,53.0h0.6M180.3,62.4h0.6M176.4,55.2h0.6M178.6,47.4h0.6M177.3,43.2h0.6M178.4,54.0h0.6M175.7,55.1h0.6M171.2,51.6h0.6M174.0,47.1h0.6M174.7,50.7h0.6M180.8,57.0h0.6M182.5,49.9h0.6M176.9,47.3h0.6M171.5,58.7h0.6M171.6,62.5h0.6M174.1,50.7h0.6M181.4,50.1h0.6M176.5,47.4h0.6M174.7,53.1h0.6M171.5,58.3h0.6M179.1,55.5h0.6M176.3,59.6h0.6M174.8,59.4h0.6M175.5,57.0h0.6M182.8,55.0h0.6M174.3,47.0h0.6M182.8,59.5h0.6M180.7,52.8h0.6M175.2,57.2h0.6M179.1,43.7h0.6M174.4,52.1h0.6M171.2,56.7h0.6M173.8,48.9h0.6M170.8,54.0h0.6M177.4,56.0h0.6M175.1,44.2h0.6M177.6,48.7h0.6M178.8,42.3h0.6M160.6,49.4h0.6M176.4,48.6h0.6M166.7,54.5h0.6M175.8,60.0h0.6M171.0,50.1h0.6M175.5,53.0h0.6M181.3,48.2h0.6M167.1,55.2h0.6M175.9,57.6h0.6M174.6,59.8h0.6M166.3,51.1h0.6M178.0,45.1h0.6M175.2,55.3h0.6M172.7,51.3h0.6M171.7,45.8h0.6M189.8,55.7h0.6M173.2,56.0h0.6M166.7,62.1h0.6M170.7,47.2h0.6M173.3,52.3h0.6M173.2,56.7h0.6M174.6,63.7h0.6M170.2,55.6h0.6M177.5,47.0h0.6M172.8,55.8h0.6M168.7,57.4h0.6M171.2,50.4h0.6M173.2,61.4h0.6M178.9,52.4h0.6M177.2,49.5h0.6M173.4,58.6h0.6M175.1,58.6h0.6M176.0,51.8h0.6M184.4,52.3h0.6M172.2,55.6h0.6M177.1,51.8h0.6M178.3,51.5h0.6M170.6,60.1h0.6M175.9,57.4h0.6M175.8,50.7h0.6M172.8,47.1h0.6M177.6,44.8h0.6M179.7,57.7h0.6M180.2,45.8h0.6M174.1,49.1h0.6M175.9,53.5h0.6M185.8,48.4h0.6M169.9,49.5h0.6M176.0,42.4h0.6M179.1,59.1h0.6M175.7,49.7h0.6M178.0,53.8h0.6M175.8,54.6h0.6M178.5,45.8h0.6M180.9,47.3h0.6M174.0,59.9h0.6M175.9,55.0h0.6M174.7,52.2h0.6M173.1,62.5h0.6M174.9,48.3h0.6M169.8,55.0h0.6M178.4,51.8h0.6M182.8,49.9h0.6M182.8,40.9h0.6M180.9,52.1h0.6M170.6,56.6h0.6M182.0,41.5h0.6M171.7,57.2h0.6M174.8,56.7h0.6M183.5,60.2h0.6M170.1,47.9h0.6M178.9,51.1h0.6M176.3,50.4h0.6M174.3,52.6h0.6M171.0,55.1h0.6M176.9,57.9h0.6M172.9,58.7h0.6M179.8,49.9h0.6M180.6,51.6h0.6M168.7,44.9h0.6M172.7,58.6h0.6M173.5,56.7h0.6M169.6,60.8h0.6M169.9,46.2h0.6M175.4,60.9h0.6M174.0,49.0h0.6M167.4,46.3h0.6M172.5,54.8h0.6M177.4,48.6h0.6M169.5,67.5h0.6M170.8,56.7h0.6M182.3,62.0h0.6M181.1,51.2h0.6M167.5,54.9h0.6M168.8,59.4h0.6M176.7,47.4h0.6M169.5,52.4h0.6M173.8,56.9h0.6M172.9,57.0h0.6M177.6,61.9h0.6M163.4,56.9h0.6M164.9,42.7h0.6M169.4,58.9h0.6M179.7,50.0h0.6M174.3,56.9h0.6M167.1,50.2h0.6M177.3,50.3h0.6M178.3,54.2h0.6M173.9,64.5h0.6M173.5,56.9h0.6M177.0,45.8h0.6M180.6,53.8h0.6M175.7,49.5h0.6M177.5,55.9h0.6M174.8,64.8h0.6M173.2,51.2h0.6M170.8,52.4h0.6M176.2,56.7h0.6M173.6,56.0h0.6M173.9,51.9h0.6M179.3,56.2h0.6M177.2,50.9h0.6M179.0,53.9h0.6M167.8,69.2h0.6M177.6,53.8h0.6M172.3,57.6h0.6M171.3,59.3h0.6M171.1,51.8h0.6M180.6,55.3h0.6M178.8,49.4h0.6M171.7,47.5h0.6M169.8,53.6h0.6M175.1,62.8h0.6M172.9,58.3h0.6M182.6,46.4h0.6M168.3,56.4h0.6M166.6,60.0h0.6M173.8,54.2h0.6M175.0,50.4h0.6M175.6,51.7h0.6M178.5,48.8h0.6M184.5,56.5h0.6M173.4,55.4h0.6M172.5,55.5h0.6M166.9,55.2h0.6M176.1,65.9h0.6M178.9,54.1h0.6M173.8,61.8h0.6M180.4,43.9h0.6M175.1,44.0h0.6M182.0,41.8h0.6M176.5,48.2h0.6M170.1,57.3h0.6M172.1,48.2h0.6M167.9,56.1h0.6M167.0,51.3h0.6M176.2,58.6h0.6M179.0,56.2h0.6M184.0,48.8h0.6M174.7,42.7h0.6M173.9,53.8h0.6M169.9,40.8h0.6M179.5,35.8h0.6M176.8,60.8h0.6M172.3,54.1h0.6M178.2,58.5h0.6M177.6,53.7h0.6M166.4,58.4h0.6M178.4,53.1h0.6M175.6,47.4h0.6M173.2,48.1h0.6M173.1,52.2h0.6M183.0,51.8h0.6M182.1,51.3h0.6M183.4,50.9h0.6M169.7,51.0h0.6M172.0,54.0h0.6M179.2,49.5h0.6M169.4,62.5h0.6M171.7,49.3h0.6M166.7,44.5h0.6M183.5,50.6h0.6M179.9,61.0h0.6M177.1,44.8h0.6M176.0,55.2h0.6M173.1,71.9h0.6M173.2,55.1h0.6M177.8,49.1h0.6M171.7,51.7h0.6M180.6,44.7h0.6M172.7,50.1h0.6M171.0,53.4h0.6M181.0,64.2h0.6M174.3,60.3h0.6M177.6,51.8h0.6M173.1,49.7h0.6M164.6,61.7h0.6M177.5,56.6h0.6M168.8,51.8h0.6M180.0,64.0h0.6M167.9,66.6h0.6M166.4,56.5h0.6M176.4,51.6h0.6M177.0,55.9h0.6M175.5,67.2h0.6M169.4,54.4h0.6" stroke="#000" stroke-width="0.6" opacity="0.45" fill="none"/>
<path d="M165.7,53.8h0.6M179.4,60.2h0.6M174.2,57.7h0.6M176.7,52.1h0.6M179.4,53.6h0.6M171.3,38.6h0.6M180.6,48.3h0.6M183.5,64.9h0.6M177.7,45.6h0.6M184.1,65.3h0.6M170.6,54.4h0.6M181.3,64.8h0.6M176.8,61.7h0.6M168.1,43.9h0.6M174.4,59.6h0.6M171.2,60.8h0.6M171.1,60.1h0.6M175.5,57.3h0.6M182.3,40.9h0.6M172.7,65.4h0.6M175.8,65.5h0.6M164.7,50.8h0.6M175.7,68.7h0.6M182.9,56.9h0.6M180.5,43.9h0.6M178.2,54.2h0.6M171.3,59.4h0.6M168.2,61.8h0.6M174.3,62.9h0.6M165.6,61.1h0.6M166.4,54.6h0.6M181.5,42.8h0.6M168.6,47.0h0.6M187.4,58.1h0.6M165.0,62.4h0.6M177.9,48.2h0.6M166.8,71.8h0.6M176.1,58.4h0.6M167.7,58.5h0.6M175.2,64.5h0.6M173.8,63.7h0.6M171.8,52.1h0.6M178.5,68.9h0.6M185.4,61.5h0.6M170.8,61.0h0.6M181.1,53.3h0.6M175.5,66.8h0.6M174.7,45.2h0.6M190.1,55.6h0.6M159.9,59.0h0.6M170.2,58.6h0.6M162.4,62.4h0.6M172.7,63.8h0.6M173.3,44.9h0.6M201.3,49.6h0.6M177.3,55.5h0.6M187.4,44.5h0.6M183.9,60.0h0.6M171.9,49.7h0.6M178.2,54.2h0.6M186.5,61.3h0.6M176.1,48.0h0.6M176.4,67.9h0.6M178.4,48.7h0.6M164.5,64.1h0.6M169.3,52.0h0.6M177.3,42.4h0.6M178.7,49.4h0.6M168.5,61.1h0.6M172.7,55.5h0.6M174.1,58.3h0.6M173.9,65.4h0.6M179.7,64.1h0.6M175.7,54.5h0.6M176.1,50.1h0.6M165.1,71.8h0.6M167.6,56.6h0.6M177.1,50.2h0.6M163.8,55.5h0.6M176.8,63.6h0.6M170.3,46.5h0.6M169.3,66.5h0.6M179.4,48.8h0.6M170.2,41.5h0.6M168.9,73.8h0.6M170.2,53.4h0.6M175.3,52.3h0.6M194.0,50.6h0.6M160.2,63.7h0.6M174.7,57.8h0.6M173.2,67.6h0.6M181.5,53.1h0.6M172.3,50.7h0.6M157.7,63.2h0.6M184.1,62.1h0.6M167.3,60.3h0.6M174.4,55.3h0.6M165.4,55.8h0.6M167.2,57.0h0.6M171.4,55.0h0.6M180.8,65.9h0.6M180.7,78.4h0.6M170.7,50.3h0.6M178.3,42.2h0.6M172.3,67.9h0.6M175.6,60.9h0.6M175.9,52.4h0.6M179.1,46.2h0.6M170.6,50.0h0.6M173.9,44.1h0.6M176.3,55.5h0.6M175.4,51.5h0.6M169.3,52.3h0.6M186.8,57.4h0.6M171.6,45.0h0.6M180.1,49.0h0.6M176.2,46.4h0.6M183.3,57.5h0.6M159.6,48.1h0.6M189.1,62.6h0.6M173.3,51.9h0.6M166.2,79.2h0.6M175.7,63.9h0.6M190.5,46.7h0.6M178.3,58.7h0.6M166.2,54.8h0.6M171.6,69.9h0.6M184.1,40.4h0.6M165.0,51.2h0.6M173.5,55.6h0.6M172.7,51.8h0.6M189.9,50.4h0.6M172.8,43.1h0.6M183.9,52.2h0.6M170.1,68.7h0.6M169.2,58.2h0.6M181.8,43.1h0.6M179.1,49.7h0.6M162.8,60.5h0.6M179.2,49.3h0.6M179.3,53.6h0.6M170.5,50.4h0.6M176.3,68.9h0.6M176.7,62.8h0.6M171.4,49.8h0.6M170.7,57.7h0.6M170.1,52.7h0.6M172.9,38.3h0.6M165.5,59.1h0.6M174.5,53.1h0.6M164.4,61.4h0.6M175.3,60.6h0.6M174.2,56.0h0.6M167.6,68.9h0.6M180.7,72.9h0.6M188.2,41.5h0.6M184.0,54.9h0.6M165.3,46.6h0.6M183.6,53.0h0.6M176.3,53.7h0.6M174.4,49.4h0.6M170.6,49.5h0.6M174.7,65.8h0.6M184.4,43.4h0.6M178.5,63.2h0.6M171.9,53.8h0.6M170.1,33.5h0.6M171.9,54.9h0.6M178.8,40.1h0.6M187.7,56.6h0.6M167.4,50.8h0.6M174.7,54.8h0.6M172.1,51.9h0.6M169.5,63.4h0.6M177.5,62.9h0.6M178.6,51.8h0.6M164.9,70.2h0.6M167.6,63.5h0.6M183.1,48.5h0.6M177.0,60.3h0.6M178.4,62.5h0.6M171.3,65.4h0.6M172.1,54.3h0.6M177.9,58.0h0.6M171.3,54.3h0.6M167.1,57.8h0.6M174.8,39.0h0.6M181.0,58.2h0.6M167.6,73.2h0.6M182.1,53.3h0.6M179.6,54.6h0.6M168.8,54.6h0.6M174.8,69.2h0.6M174.5,45.4h0.6M179.2,54.9h0.6M179.4,55.0h0.6M165.7,70.2h0.6M165.4,52.3h0.6M181.9,54.9h0.6M175.5,43.3h0.6M177.7,58.5h0.6M177.1,65.7h0.6M185.4,52.7h0.6M166.4,64.3h0.6M182.3,50.6h0.6M169.1,65.4h0.6M179.8,55.7h0.6M184.1,56.0h0.6M165.2,56.7h0.6M177.6,59.3h0.6M172.8,62.5h0.6M172.7,56.0h0.6M175.1,60.2h0.6M167.5,54.8h0.6M168.1,58.4h0.6M179.3,74.2h0.6M180.6,55.0h0.6M170.8,43.6h0.6M164.7,53.9h0.6M190.8,47.9h0.6M182.4,50.3h0.6M177.3,59.0h0.6M167.6,67.7h0.6M170.7,48.7h0.6M176.4,45.8h0.6M168.1,51.1h0.6M185.8,50.1h0.6M175.7,51.7h0.6M177.5,55.1h0.6M167.6,53.7h0.6M168.5,55.9h0.6M169.3,53.1h0.6M176.7,63.2h0.6M172.9,60.9h0.6M172.8,50.5h0.6M176.9,57.9h0.6M176.3,75.9h0.6M185.0,52.8h0.6M173.4,75.2h0.6M167.8,39.6h0.6M174.7,49.0h0.6M184.9,48.1h0.6M170.9,61.4h0.6M175.1,64.9h0.6M172.3,57.3h0.6M177.6,54.7h0.6M176.5,61.6h0.6M169.2,54.5h0.6M173.2,49.5h0.6M181.3,49.2h0.6M182.3,63.2h0.6M181.1,73.0h0.6M180.7,54.4h0.6M172.5,61.1h0.6M172.3,51.6h0.6M181.2,40.2h0.6M166.7,42.1h0.6M174.4,52.7h0.6M162.0,47.3h0.6M172.2,41.3h0.6M169.9,55.4h0.6M166.5,53.9h0.6M178.8,47.3h0.6M169.7,56.1h0.6M172.2,59.7h0.6M173.0,61.8h0.6M169.7,55.7h0.6M184.6,59.2h0.6M171.4,48.7h0.6M176.1,57.8h0.6M165.8,43.7h0.6M171.5,45.1h0.6M172.5,66.0h0.6M172.7,46.1h0.6M170.8,59.0h0.6M175.8,43.2h0.6M185.5,49.3h0.6M173.9,55.6h0.6M173.8,49.4h0.6M172.1,60.1h0.6M192.2,50.0h0.6M185.9,50.3h0.6M178.6,55.8h0.6M179.6,51.1h0.6M169.9,64.2h0.6M173.7,50.4h0.6M176.2,65.2h0.6M175.6,49.6h0.6M168.9,51.7h0.6M169.4,49.6h0.6M178.3,59.3h0.6M176.9,28.8h0.6M160.3,58.7h0.6M175.4,53.6h0.6M183.5,60.2h0.6M170.3,43.3h0.6M176.4,58.7h0.6M164.8,47.7h0.6M180.5,62.2h0.6M167.1,53.2h0.6M166.2,59.1h0.6M172.6,47.2h0.6M191.1,55.3h0.6M170.6,62.7h0.6M166.1,52.1h0.6M178.0,64.6h0.6M176.4,62.8h0.6M186.2,46.8h0.6M166.1,71.9h0.6M163.8,49.8h0.6M172.6,58.5h0.6M177.4,62.3h0.6M177.2,52.4h0.6M182.2,48.5h0.6M164.5,61.1h0.6M169.1,57.0h0.6M173.9,48.1h0.6M180.6,47.6h0.6M178.1,54.8h0.6M171.9,61.7h0.6M167.8,63.7h0.6M180.8,59.0h0.6M181.3,48.1h0.6M193.4,47.4h0.6M173.6,52.3h0.6M185.9,41.5h0.6M166.5,58.3h0.6M171.1,58.4h0.6M170.1,58.5h0.6M171.6,38.9h0.6M168.8,72.9h0.6M171.1,52.7h0.6M174.4,50.9h0.6M171.7,54.5h0.6M179.3,34.3h0.6M174.2,44.8h0.6M174.8,48.1h0.6M184.9,60.9h0.6M177.0,50.1h0.6M175.9,57.6h0.6M174.7,54.2h0.6M175.2,52.8h0.6M178.7,58.1h0.6M169.3,49.9h0.6M182.6,39.8h0.6M185.6,44.4h0.6M182.7,51.7h0.6M171.4,71.3h0.6M163.9,46.8h0.6M171.8,45.8h0.6M175.8,56.0h0.6M180.5,57.8h0.6M173.5,49.1h0.6M172.7,61.6h0.6M185.2,46.4h0.6M170.2,64.2h0.6M182.1,61.3h0.6M181.0,53.5h0.6M165.7,67.9h0.6M176.7,54.2h0.6M171.0,50.5h0.6M168.3,66.4h0.6M162.1,48.3h0.6M164.1,60.5h0.6M177.6,49.5h0.6M172.1,53.0h0.6M176.7,58.0h0.6M167.5,59.8h0.6M172.6,69.1h0.6M172.9,60.5h0.6M164.2,62.3h0.6M163.4,42.1h0.6M177.8,45.5h0.6M175.8,65.8h0.6M168.4,48.5h0.6M174.1,52.6h0.6M179.3,57.0h0.6M187.4,48.9h0.6M168.7,48.5h0.6M179.0,58.6h0.6M189.3,54.8h0.6M175.2,52.9h0.6M184.9,61.4h0.6M157.1,55.1h0.6M184.7,53.8h0.6M174.7,60.1h0.6M161.9,63.1h0.6M180.1,51.1h0.6M182.0,46.1h0.6M183.1,50.5h0.6M183.0,60.5h0.6M174.6,48.1h0.6M169.7,53.6h0.6M171.6,49.8h0.6M174.6,44.6h0.6M177.6,61.6h0.6M171.5,56.0h0.6M175.1,59.3h0.6M180.8,60.9h0.6M177.0,37.3h0.6M190.5,44.5h0.6M189.6,67.3h0.6M166.9,51.8h0.6M170.9,59.5h0.6M165.8,45.9h0.6M166.8,54.7h0.6M178.5,55.3h0.6M168.0,54.0h0.6M167.6,52.1h0.6M172.9,54.3h0.6M180.3,55.5h0.6M172.4,55.8h0.6M172.3,50.4h0.6M181.1,63.0h0.6M178.0,53.9h0.6M177.9,54.9h0.6M181.3,57.6h0.6M167.8,49.1h0.6M176.3,64.9h0.6M170.4,58.0h0.6M181.9,60.6h0.6M180.4,49.1h0.6M167.6,59.2h0.6M184.0,52.7h0.6M166.8,52.1h0.6M182.8,66.7h0.6M176.2,50.4h0.6M168.8,61.4h0.6M167.1,57.5h0.6M172.7,55.5h0.6M174.6,47.6h0.6M169.9,48.8h0.6M178.7,39.1h0.6M165.2,54.1h0.6M174.7,58.3h0.6M174.8,58.5h0.6M161.9,50.5h0.6M176.9,40.7h0.6M166.1,52.6h0.6M157.6,61.4h0.6M170.6,52.6h0.6M173.2,52.4h0.6M181.0,53.3h0.6M171.4,61.0h0.6M184.9,74.3h0.6M184.7,57.5h0.6M182.3,44.6h0.6M183.9,51.4h0.6M177.2,72.5h0.6M171.0,54.8h0.6M179.3,69.2h0.6M181.5,36.8h0.6M176.4,52.5h0.6M173.1,64.6h0.6M164.0,49.0h0.6M179.5,60.3h0.6M177.2,49.3h0.6M165.8,55.3h0.6M175.5,64.1h0.6M179.8,48.1h0.6M174.0,65.6h0.6M180.2,42.4h0.6M180.0,53.2h0.6M164.6,64.2h0.6M172.7,69.8h0.6M178.1,40.4h0.6M181.1,41.4h0.6M184.5,63.6h0.6M161.5,42.3h0.6M174.3,53.0h0.6M179.7,55.5h0.6M183.2,54.0h0.6M186.4,55.1h0.6M168.3,43.2h0.6M172.2,53.4h0.6M167.5,70.7h0.6M180.4,36.1h0.6M165.6,48.1h0.6M183.0,62.4h0.6M181.3,56.5h0.6M178.2,61.5h0.6M159.8,55.9h0.6M170.1,51.6h0.6M180.0,51.7h0.6M165.0,60.6h0.6M173.1,61.2h0.6M174.1,47.3h0.6M180.9,54.4h0.6M176.7,35.3h0.6M176.7,60.8h0.6M171.7,48.1h0.6M174.8,53.9h0.6M173.9,60.8h0.6M179.8,42.3h0.6M173.5,53.5h0.6M181.9,60.9h0.6M163.0,58.5h0.6M183.1,44.8h0.6M173.6,64.7h0.6M182.6,41.8h0.6M175.4,48.5h0.6M180.7,55.9h0.6M185.1,41.6h0.6M170.9,40.2h0.6M175.3,49.2h0.6M173.6,53.1h0.6M176.2,38.7h0.6M163.6,43.3h0.6M173.6,62.2h0.6M173.1,56.3h0.6M169.3,56.8h0.6M173.4,57.9h0.6M164.1,68.2h0.6M184.4,45.5h0.6M177.9,53.2h0.6M187.8,51.8h0.6M168.7,43.3h0.6M166.7,60.1h0.6M176.7,54.6h0.6M163.2,53.5h0.6" stroke="#000" stroke-width="0.6" opacity="0.4" fill="none"/>
<path d="M176.0,69.7h0.6M180.1,69.3h0.6M176.5,82.6h0.6M182.7,73.4h0.6M177.4,75.0h0.6M169.8,69.0h0.6M175.9,67.3h0.6M173.2,73.0h0.6M180.0,76.8h0.6M178.9,74.3h0.6M185.2,84.7h0.6M179.9,76.1h0.6M173.3,77.9h0.6M176.4,83.4h0.6M174.8,79.0h0.6M173.5,86.1h0.6M175.1,78.7h0.6M168.7,82.5h0.6M183.5,73.9h0.6M171.1,80.1h0.6M173.3,84.4h0.6M179.2,81.6h0.6M168.8,80.0h0.6M180.8,83.6h0.6M180.9,70.3h0.6M175.0,72.8h0.6M171.4,77.6h0.6M174.3,89.9h0.6M167.8,74.2h0.6M183.0,90.7h0.6M176.8,77.2h0.6M173.0,78.5h0.6M172.2,84.4h0.6M179.2,86.6h0.6M183.6,85.3h0.6M173.8,81.4h0.6M168.2,80.8h0.6M179.7,70.1h0.6M177.2,75.1h0.6M187.2,69.2h0.6M175.9,90.2h0.6M174.4,88.9h0.6M180.5,79.3h0.6M168.8,81.6h0.6M180.0,77.5h0.6M177.7,69.9h0.6M174.1,89.9h0.6M172.2,76.3h0.6M181.5,79.2h0.6M185.3,72.8h0.6M174.4,77.4h0.6M179.0,83.8h0.6M184.8,86.9h0.6M173.6,101.3h0.6M175.3,70.0h0.6M170.7,92.4h0.6M175.8,82.6h0.6M174.5,82.8h0.6M173.0,73.3h0.6M169.0,80.9h0.6M170.1,72.6h0.6M171.9,78.7h0.6M179.5,83.6h0.6M174.1,66.6h0.6M172.5,81.4h0.6M179.6,91.2h0.6M179.2,82.0h0.6M172.9,74.0h0.6M173.5,89.1h0.6M179.6,71.8h0.6M178.2,72.0h0.6M177.6,84.8h0.6M176.4,72.9h0.6M181.8,94.2h0.6M172.4,82.8h0.6M180.7,78.0h0.6M178.6,75.2h0.6M171.7,79.5h0.6M181.5,79.8h0.6M180.8,84.6h0.6M170.2,83.0h0.6M185.9,76.2h0.6M171.0,73.9h0.6M172.1,73.1h0.6M175.0,69.9h0.6M180.2,68.1h0.6M179.3,95.4h0.6M176.0,83.7h0.6M183.0,80.4h0.6M178.4,84.8h0.6M183.2,69.4h0.6M190.0,72.1h0.6M177.4,79.9h0.6M164.2,77.9h0.6M174.3,67.4h0.6M171.3,82.1h0.6M176.9,81.8h0.6M177.0,70.7h0.6M170.6,74.7h0.6M175.2,75.6h0.6M175.6,72.1h0.6M164.0,83.9h0.6M181.2,87.5h0.6M176.6,79.0h0.6M177.9,75.2h0.6M171.6,70.1h0.6M176.3,78.3h0.6M181.5,81.0h0.6M181.7,69.1h0.6M178.7,79.3h0.6M175.2,70.0h0.6M182.9,72.4h0.6M179.0,70.4h0.6M174.5,74.5h0.6M166.0,76.7h0.6M172.3,76.4h0.6M167.1,78.3h0.6M182.5,69.1h0.6M177.4,93.6h0.6M172.9,81.4h0.6M175.2,73.0h0.6M189.1,86.6h0.6M182.4,79.9h0.6M170.0,85.3h0.6M175.9,74.9h0.6M170.5,71.1h0.6M177.3,74.4h0.6M188.3,85.5h0.6M184.1,76.7h0.6M176.7,73.8h0.6M177.5,98.4h0.6M181.6,75.6h0.6M169.3,95.5h0.6M167.3,72.5h0.6M185.7,74.9h0.6M177.9,74.4h0.6M184.4,70.9h0.6M177.7,75.4h0.6M183.8,84.8h0.6M173.5,75.8h0.6M178.9,68.1h0.6M184.1,80.0h0.6M181.5,78.7h0.6M174.2,90.0h0.6M180.9,68.4h0.6M173.2,83.5h0.6M169.5,85.7h0.6M179.1,83.0h0.6M183.4,86.8h0.6M180.7,81.2h0.6M170.3,67.4h0.6M180.8,71.8h0.6M164.2,87.1h0.6M181.5,74.6h0.6M167.9,91.8h0.6M169.1,91.9h0.6M181.5,74.7h0.6M180.5,82.0h0.6M179.0,88.0h0.6M175.3,75.5h0.6M178.5,86.1h0.6M173.8,99.5h0.6M174.9,79.2h0.6M172.2,77.8h0.6M177.8,73.2h0.6M174.4,70.4h0.6M181.2,77.3h0.6M180.1,81.1h0.6M172.5,85.0h0.6M185.6,93.9h0.6M170.9,83.0h0.6M178.7,69.9h0.6M181.9,73.1h0.6M165.5,80.4h0.6M181.5,95.2h0.6M182.6,71.5h0.6M183.7,69.6h0.6M165.4,89.6h0.6M173.1,93.6h0.6M176.0,77.6h0.6M174.3,72.5h0.6M183.2,89.2h0.6M173.1,82.1h0.6M182.6,86.0h0.6M179.3,89.7h0.6M169.2,90.9h0.6M171.5,77.7h0.6M174.2,82.4h0.6M177.0,85.1h0.6M181.0,87.6h0.6M168.6,80.3h0.6M161.3,89.3h0.6M174.8,75.6h0.6M178.8,92.7h0.6M174.7,78.2h0.6M171.5,80.8h0.6M178.6,70.7h0.6M186.2,89.0h0.6M176.0,84.9h0.6M172.9,81.2h0.6M186.3,92.4h0.6M176.3,76.4h0.6M179.6,85.0h0.6M182.6,76.2h0.6M181.9,73.1h0.6M171.9,77.8h0.6M181.3,76.7h0.6M180.7,76.5h0.6M178.9,84.4h0.6M181.5,81.0h0.6M173.7,94.1h0.6M176.1,82.3h0.6M173.9,86.1h0.6M180.3,81.4h0.6M173.2,72.4h0.6M178.5,75.6h0.6M171.0,74.8h0.6M175.9,69.1h0.6M174.7,100.7h0.6M175.9,75.2h0.6M177.2,79.3h0.6M175.6,80.0h0.6M175.4,91.0h0.6M166.1,74.1h0.6M182.0,68.7h0.6M173.4,69.8h0.6M175.3,79.9h0.6M172.4,73.3h0.6M181.5,70.8h0.6M179.0,68.0h0.6M182.4,77.9h0.6M184.7,78.3h0.6M182.4,77.6h0.6M179.6,77.1h0.6M170.5,83.6h0.6M183.0,72.2h0.6M182.4,85.4h0.6M180.7,86.4h0.6M180.5,75.9h0.6M176.9,84.4h0.6M173.9,81.4h0.6M181.9,98.0h0.6M182.9,72.0h0.6M171.3,79.2h0.6M181.1,80.3h0.6M177.8,75.0h0.6M181.0,77.3h0.6M177.9,85.5h0.6M181.7,83.3h0.6M181.0,70.3h0.6M180.7,84.8h0.6M176.8,78.3h0.6M171.0,86.6h0.6M180.1,69.7h0.6M169.8,82.2h0.6M181.0,89.1h0.6M185.0,67.2h0.6M174.1,70.9h0.6M181.2,87.2h0.6M178.8,68.4h0.6M179.8,77.4h0.6M177.3,84.2h0.6M180.3,81.6h0.6M176.6,87.1h0.6M182.0,78.0h0.6M178.0,78.8h0.6M180.0,72.5h0.6M183.4,78.4h0.6M177.5,92.5h0.6M181.6,86.5h0.6M177.8,66.4h0.6M179.2,68.7h0.6M174.0,80.7h0.6M180.5,80.4h0.6M182.7,80.7h0.6M176.2,79.0h0.6M180.6,94.4h0.6M178.8,71.1h0.6M171.2,85.2h0.6M178.4,77.9h0.6M183.2,102.1h0.6M174.3,77.1h0.6M167.9,67.1h0.6M177.7,99.5h0.6M186.0,74.9h0.6M176.5,85.8h0.6M176.6,93.6h0.6M173.6,68.7h0.6M177.9,76.8h0.6M173.9,73.8h0.6M172.2,81.7h0.6M176.4,86.4h0.6M172.7,71.3h0.6M183.2,87.9h0.6M170.9,71.0h0.6M176.3,94.4h0.6M173.3,87.6h0.6M169.9,92.4h0.6M184.8,67.3h0.6M166.3,95.1h0.6M183.8,89.5h0.6M169.7,73.2h0.6M177.1,77.1h0.6M169.9,73.6h0.6M183.1,72.9h0.6M177.5,95.8h0.6M174.0,87.2h0.6M176.5,82.2h0.6M171.9,80.8h0.6M177.3,91.7h0.6M184.0,87.7h0.6M174.8,86.9h0.6M177.4,69.5h0.6M182.6,75.3h0.6M186.4,82.2h0.6M173.8,81.7h0.6M178.2,76.6h0.6M173.9,85.5h0.6M173.5,81.6h0.6M174.7,94.8h0.6M173.6,73.1h0.6M168.2,70.5h0.6M166.9,75.9h0.6M173.1,74.9h0.6M177.3,75.9h0.6M174.1,77.4h0.6M175.9,91.2h0.6M179.9,88.7h0.6M180.3,72.7h0.6M176.1,69.5h0.6M176.4,72.2h0.6M185.9,71.6h0.6M175.0,77.5h0.6M174.3,92.7h0.6M168.7,85.7h0.6M178.8,95.7h0.6M175.4,82.7h0.6M186.0,91.6h0.6M175.0,78.3h0.6M180.7,80.8h0.6M181.2,97.0h0.6M184.7,72.6h0.6M170.3,72.3h0.6M184.3,91.9h0.6M176.7,77.9h0.6M176.2,72.7h0.6M175.2,81.9h0.6M174.7,71.4h0.6M175.0,77.5h0.6M165.3,69.5h0.6M179.2,77.6h0.6M177.0,80.8h0.6M172.0,74.6h0.6M176.4,72.1h0.6M187.9,77.0h0.6M178.5,83.4h0.6M174.8,86.5h0.6M185.0,82.7h0.6M172.8,84.5h0.6M175.9,77.4h0.6M174.0,77.7h0.6M175.5,80.1h0.6M180.2,79.3h0.6M179.5,77.7h0.6M176.0,68.3h0.6M177.1,84.6h0.6M174.7,75.5h0.6M176.5,82.3h0.6M173.1,80.2h0.6M173.1,81.6h0.6M176.9,85.0h0.6M171.6,91.8h0.6M178.7,101.9h0.6M175.7,77.5h0.6M172.2,68.5h0.6M173.7,87.6h0.6M174.3,74.7h0.6M175.9,82.9h0.6M177.2,76.8h0.6M175.6,86.7h0.6M172.4,81.5h0.6M183.6,80.4h0.6M181.1,101.1h0.6M177.2,77.4h0.6M181.3,80.6h0.6M178.2,102.1h0.6M175.4,73.4h0.6M177.1,79.7h0.6" stroke="#000" stroke-width="0.6" opacity="0.4" fill="none"/>
<rect x="151.3" y="33.5" width="52.1" height="40.7" fill="none" stroke="#585858" stroke-width="1.3"/>
<text x="202.3" y="71.5" font-size="6.9" font-weight="bold" text-anchor="end" fill="#000" stroke="#000" stroke-width="0.3">86.4</text>
<text x="141.0" y="17.2" font-size="9.3" font-weight="bold" textLength="55.8" lengthAdjust="spacingAndGlyphs" fill="#000" stroke="#000" stroke-width="0.4">CD161+ Treg</text>
<path d="M119.5,44.4V112.4H196.3" stroke="#000" stroke-width="1.6" fill="none" stroke-linejoin="miter"/>
<path d="M119.5,39.4l-2.6,6.6h5.2z" fill="#000"/>
<path d="M201.3,112.4l-6.8,-2.5v5z" fill="#000"/>
<text x="116.8" y="61.5" font-size="9.4" font-weight="normal" text-anchor="middle" textLength="25.2" lengthAdjust="spacingAndGlyphs" transform="rotate(-90 116.8 61.5)" fill="#000" stroke="#000" stroke-width="0.45">FoxP3</text>
<text x="173.0" y="121.2" font-size="9.4" font-weight="normal" textLength="17.4" lengthAdjust="spacingAndGlyphs" fill="#000" stroke="#000" stroke-width="0.45">CD4</text>
<path d="M239.6,27.599999999999998V109.3H362.8" stroke="#000" stroke-width="1.6" fill="none"/>
<text x="236.2" y="30.7" font-size="6.8" font-weight="bold" text-anchor="end" fill="#000" stroke="#000" stroke-width="0.25">100</text>
<text x="236.2" y="51.0" font-size="6.8" font-weight="bold" text-anchor="end" fill="#000" stroke="#000" stroke-width="0.25">75</text>
<text x="236.2" y="71.2" font-size="6.8" font-weight="bold" text-anchor="end" fill="#000" stroke="#000" stroke-width="0.25">50</text>
<text x="236.2" y="91.5" font-size="6.8" font-weight="bold" text-anchor="end" fill="#000" stroke="#000" stroke-width="0.25">25</text>
<text x="236.2" y="111.8" font-size="6.8" font-weight="bold" text-anchor="end" fill="#000" stroke="#000" stroke-width="0.25">0</text>
<path d="M236.29999999999998,28.2h3.3M236.29999999999998,48.5h3.3M236.29999999999998,68.8h3.3M236.29999999999998,89.0h3.3M236.29999999999998,109.3h3.3" stroke="#000" stroke-width="1.3" fill="none"/>
<text x="222.3" y="69" font-size="6.6" font-weight="bold" text-anchor="middle" textLength="30" lengthAdjust="spacingAndGlyphs" transform="rotate(-90 222.3 69)" fill="#000" stroke="#000" stroke-width="0.25">% FoxP3 +</text>
<text x="254.5" y="117.3" font-size="6.7" font-weight="bold" textLength="16.3" lengthAdjust="spacingAndGlyphs" fill="#000" stroke="#000" stroke-width="0.25">Day 4</text>
<text x="297.5" y="117.3" font-size="6.7" font-weight="bold" textLength="16.3" lengthAdjust="spacingAndGlyphs" fill="#000" stroke="#000" stroke-width="0.25">Day 6</text>
<text x="337.5" y="117.3" font-size="6.7" font-weight="bold" textLength="19.5" lengthAdjust="spacingAndGlyphs" fill="#000" stroke="#000" stroke-width="0.25">Day 10</text>
<path d="M247.8,33.5l2.2,2.3l-2.2,2.3l-2.2,-2.3zM253.9,34.2l2.2,2.3l-2.2,2.3l-2.2,-2.3zM253.9,42.3l2.2,2.3l-2.2,2.3l-2.2,-2.3zM257.3,32.7l2.2,2.3l-2.2,2.3l-2.2,-2.3zM270.7,30.4h4.6l-2.3,4zM268.4,32.5h4.6l-2.3,4zM273.5,32.5h4.6l-2.3,4zM270.7,36.6h4.6l-2.3,4zM296.0,29.3l2.2,2.3l-2.2,2.3l-2.2,-2.3zM292.7,33.1l2.2,2.3l-2.2,2.3l-2.2,-2.3zM296.0,38.0l2.2,2.3l-2.2,2.3l-2.2,-2.3zM299.6,33.1l2.2,2.3l-2.2,2.3l-2.2,-2.3zM309.7,30.9h4.6l-2.3,4zM312.3,31.3h4.6l-2.3,4zM315.1,30.9h4.6l-2.3,4zM313.7,32.1h4.6l-2.3,4zM332.2,30.7l2.2,2.3l-2.2,2.3l-2.2,-2.3zM338.0,34.3l2.2,2.3l-2.2,2.3l-2.2,-2.3zM338.0,47.2l2.2,2.3l-2.2,2.3l-2.2,-2.3zM341.0,47.2l2.2,2.3l-2.2,2.3l-2.2,-2.3zM351.9,35.8h4.6l-2.3,4zM355.3,35.3h4.6l-2.3,4zM358.1,35.8h4.6l-2.3,4zM354.2,38.4h4.6l-2.3,4zM357.3,38.0h4.6l-2.3,4z" fill="#000"/>
<path d="M260.8,32.3l3.8,3.8M260.8,36.1l3.8,-3.8M260.8,36.1l3.8,3.8M260.8,39.9l3.8,-3.8M263.4,34.4l3.8,3.8M263.4,38.2l3.8,-3.8M303.9,31.1l3.8,3.8M303.9,34.9l3.8,-3.8M301.9,35.1l3.8,3.8M301.9,38.9l3.8,-3.8M305.9,35.6l3.8,3.8M305.9,39.4l3.8,-3.8M340.8,30.1l3.8,3.8M340.8,33.9l3.8,-3.8M345.7,34.3l3.8,3.8M345.7,38.1l3.8,-3.8M348.5,43.1l3.8,3.8M348.5,46.9l3.8,-3.8M345.4,48.4l3.8,3.8M345.4,52.2l3.8,-3.8" stroke="#000" stroke-width="1.3" fill="none"/>
<path d="M251.4,36.0h5.2M260.9,36.3h5.2M270.4,34.4h5.2M293.4,35.4h5.2M303.2,36.5h5.2M312.4,33.2h5.2M335.4,42.8h5.2M345.0,40.5h5.2M354.9,38.4h5.2" stroke="#000" stroke-width="0.8" fill="none"/>
<path d="M247.8,11.5l2.2,2.3l-2.2,2.3l-2.2,-2.3zM323.5,12.1h4.6l-2.3,4z" fill="#000"/>
<path d="M284.6,11.9l3.8,3.8M284.6,15.7l3.8,-3.8" stroke="#000" stroke-width="1.3" fill="none"/>
<text x="252.7" y="12.6" font-size="5.9" font-weight="bold" textLength="10.3" lengthAdjust="spacingAndGlyphs" fill="#000" stroke="#000" stroke-width="0.25">stim</text>
<text x="252.7" y="18.2" font-size="5.9" font-weight="bold" textLength="13.8" lengthAdjust="spacingAndGlyphs" fill="#000" stroke="#000" stroke-width="0.25">alone</text>
<text x="290.9" y="15.6" font-size="5.9" font-weight="bold" textLength="15.6" lengthAdjust="spacingAndGlyphs" fill="#000" stroke="#000" stroke-width="0.25">+ IL-12</text>
<text x="332.0" y="12.6" font-size="5.9" font-weight="bold" textLength="27.6" lengthAdjust="spacingAndGlyphs" fill="#000" stroke="#000" stroke-width="0.25">+ TGF-β, IL-</text>
<text x="332.7" y="18.3" font-size="5.9" font-weight="bold" textLength="20" lengthAdjust="spacingAndGlyphs" fill="#000" stroke="#000" stroke-width="0.25">1β, IL-23</text>
<path d="M397.0,27.599999999999998V109.3H520" stroke="#000" stroke-width="1.6" fill="none"/>
<text x="393.6" y="30.7" font-size="6.8" font-weight="bold" text-anchor="end" fill="#000" stroke="#000" stroke-width="0.25">100</text>
<text x="393.6" y="51.0" font-size="6.8" font-weight="bold" text-anchor="end" fill="#000" stroke="#000" stroke-width="0.25">75</text>
<text x="393.6" y="71.2" font-size="6.8" font-weight="bold" text-anchor="end" fill="#000" stroke="#000" stroke-width="0.25">50</text>
<text x="393.6" y="91.5" font-size="6.8" font-weight="bold" text-anchor="end" fill="#000" stroke="#000" stroke-width="0.25">25</text>
<text x="393.6" y="111.8" font-size="6.8" font-weight="bold" text-anchor="end" fill="#000" stroke="#000" stroke-width="0.25">0</text>
<path d="M393.7,28.2h3.3M393.7,48.5h3.3M393.7,68.8h3.3M393.7,89.0h3.3M393.7,109.3h3.3" stroke="#000" stroke-width="1.3" fill="none"/>
<text x="380.9" y="68.5" font-size="6.6" font-weight="bold" text-anchor="middle" textLength="58" lengthAdjust="spacingAndGlyphs" transform="rotate(-90 380.9 68.5)" fill="#000" stroke="#000" stroke-width="0.25">% CD161+ of FoxP3+</text>
<text x="410.5" y="117.3" font-size="6.7" font-weight="bold" textLength="16.5" lengthAdjust="spacingAndGlyphs" fill="#000" stroke="#000" stroke-width="0.25">Day 4</text>
<text x="454.6" y="117.3" font-size="6.7" font-weight="bold" textLength="16.2" lengthAdjust="spacingAndGlyphs" fill="#000" stroke="#000" stroke-width="0.25">Day 6</text>
<text x="494.0" y="117.3" font-size="6.7" font-weight="bold" textLength="19.4" lengthAdjust="spacingAndGlyphs" fill="#000" stroke="#000" stroke-width="0.25">Day 10</text>
<path d="M411.1,79.2l2.2,2.3l-2.2,2.3l-2.2,-2.3zM408.2,89.8l2.2,2.3l-2.2,2.3l-2.2,-2.3zM411.1,95.3l2.2,2.3l-2.2,2.3l-2.2,-2.3zM414.2,91.7l2.2,2.3l-2.2,2.3l-2.2,-2.3zM425.2,91.7h4.6l-2.3,4zM430.0,92.1h4.6l-2.3,4zM427.6,97.4h4.6l-2.3,4zM429.7,94.1h4.6l-2.3,4zM452.7,85.7l2.2,2.3l-2.2,2.3l-2.2,-2.3zM449.8,91.7l2.2,2.3l-2.2,2.3l-2.2,-2.3zM452.7,94.1l2.2,2.3l-2.2,2.3l-2.2,-2.3zM455.6,92.9l2.2,2.3l-2.2,2.3l-2.2,-2.3zM469.1,88.5h4.6l-2.3,4zM466.7,92.1h4.6l-2.3,4zM472.0,93.3h4.6l-2.3,4zM469.6,95.7h4.6l-2.3,4zM497.2,92.9l2.2,2.3l-2.2,2.3l-2.2,-2.3zM492.4,95.3l2.2,2.3l-2.2,2.3l-2.2,-2.3zM496.0,98.5l2.2,2.3l-2.2,2.3l-2.2,-2.3zM499.6,97.0l2.2,2.3l-2.2,2.3l-2.2,-2.3zM511.7,90.9h4.6l-2.3,4zM509.3,96.5h4.6l-2.3,4zM512.9,98.9h4.6l-2.3,4zM507.7,99.1h4.6l-2.3,4z" fill="#000"/>
<path d="M418.3,86.9l3.8,3.8M418.3,90.7l3.8,-3.8M415.9,91.7l3.8,3.8M415.9,95.5l3.8,-3.8M418.3,96.5l3.8,3.8M418.3,100.3l3.8,-3.8M421.9,92.1l3.8,3.8M421.9,95.9l3.8,-3.8M460.9,86.9l3.8,3.8M460.9,90.7l3.8,-3.8M458.0,91.7l3.8,3.8M458.0,95.5l3.8,-3.8M462.8,93.3l3.8,3.8M462.8,97.1l3.8,-3.8M460.1,93.9l3.8,3.8M460.1,97.7l3.8,-3.8M503.1,90.2l3.8,3.8M503.1,94.0l3.8,-3.8M500.1,96.5l3.8,3.8M500.1,100.3l3.8,-3.8M503.1,101.8l3.8,3.8M503.1,105.6l3.8,-3.8M506.1,99.4l3.8,3.8M506.1,103.2l3.8,-3.8" stroke="#000" stroke-width="1.3" fill="none"/>
<path d="M408.4,93.2h5.2M417.9,93.8h5.2M427.4,94.8h5.2M450.1,94.4h5.2M459.9,94.2h5.2M468.9,94.6h5.2M493.4,98.4h5.2M502.4,99.5h5.2M510.4,99.4h5.2" stroke="#000" stroke-width="0.8" fill="none"/>
<rect x="17.4" y="160.4" width="80.8" height="80.1" fill="#fff" stroke="none"/>
<path d="M14.7,243.2h2.0M14.7,237.0h1.4M14.7,233.3h1.4M14.7,230.8h1.4M14.7,228.7h1.4M14.7,227.1h1.4M14.7,225.6h1.4M14.7,224.6h1.4M14.7,223.5h1.4M14.7,222.5h2.0M14.7,216.3h1.4M14.7,212.6h1.4M14.7,210.1h1.4M14.7,208.0h1.4M14.7,206.4h1.4M14.7,204.9h1.4M14.7,203.9h1.4M14.7,202.8h1.4M14.7,201.8h2.0M14.7,195.6h1.4M14.7,191.9h1.4M14.7,189.4h1.4M14.7,187.3h1.4M14.7,185.7h1.4M14.7,184.2h1.4M14.7,183.2h1.4M14.7,182.1h1.4M14.7,181.1h2.0M14.7,174.9h1.4M14.7,171.2h1.4M14.7,168.7h1.4M14.7,166.6h1.4M14.7,165.0h1.4M14.7,163.5h1.4M14.7,162.5h1.4M14.7,161.4h1.4M14.7,243.2v-2.0M21.0,243.2v-1.4M24.7,243.2v-1.4M27.2,243.2v-1.4M29.3,243.2v-1.4M31.0,243.2v-1.4M32.4,243.2v-1.4M33.5,243.2v-1.4M34.5,243.2v-1.4M35.6,243.2v-2.0M41.8,243.2v-1.4M45.6,243.2v-1.4M48.1,243.2v-1.4M50.2,243.2v-1.4M51.9,243.2v-1.4M53.3,243.2v-1.4M54.4,243.2v-1.4M55.4,243.2v-1.4M56.5,243.2v-2.0M62.7,243.2v-1.4M66.5,243.2v-1.4M69.0,243.2v-1.4M71.1,243.2v-1.4M72.7,243.2v-1.4M74.2,243.2v-1.4M75.2,243.2v-1.4M76.3,243.2v-1.4M77.3,243.2v-2.0M83.6,243.2v-1.4M87.3,243.2v-1.4M89.9,243.2v-1.4M91.9,243.2v-1.4M93.6,243.2v-1.4M95.1,243.2v-1.4M96.1,243.2v-1.4M97.2,243.2v-1.4" stroke="#333" stroke-width="0.6" fill="none" opacity="0.8"/>
<ellipse cx="33.0" cy="224.2" rx="9" ry="8.5" fill="url(#core)" transform="rotate(-30 33.0 224.2)"/>
<path d="M33.6,227.3h0.6M34.1,224.4h0.6M31.6,226.7h0.6M29.6,226.1h0.6M31.6,223.0h0.6M31.6,226.0h0.6M39.8,221.7h0.6M38.6,225.6h0.6M31.4,220.2h0.6M31.6,226.2h0.6M33.9,220.8h0.6M34.7,217.3h0.6M30.8,231.7h0.6M29.8,227.6h0.6M38.9,223.2h0.6M36.2,219.8h0.6M28.1,226.6h0.6M27.5,224.2h0.6M30.4,226.8h0.6M33.6,222.2h0.6M34.6,227.2h0.6M31.9,221.8h0.6M27.9,234.0h0.6M33.6,229.4h0.6M34.8,218.2h0.6M32.9,223.5h0.6M31.4,227.0h0.6M34.7,217.1h0.6M32.7,220.9h0.6M29.4,221.5h0.6M33.2,225.2h0.6M28.9,223.1h0.6M35.9,221.8h0.6M34.4,228.6h0.6M29.8,223.0h0.6M33.6,224.4h0.6M36.8,219.3h0.6M26.2,221.7h0.6M32.5,226.0h0.6M38.0,224.6h0.6M28.1,224.6h0.6M32.4,222.2h0.6M28.5,226.3h0.6M32.7,224.4h0.6M25.4,224.0h0.6M27.8,224.0h0.6M31.2,221.0h0.6M33.3,223.2h0.6M34.1,226.4h0.6M34.2,228.9h0.6M36.5,220.8h0.6M35.1,224.5h0.6M35.2,224.5h0.6M29.8,225.6h0.6M32.4,228.8h0.6M42.9,222.8h0.6M40.0,230.1h0.6M35.5,224.6h0.6M35.2,226.1h0.6M36.0,217.8h0.6M31.6,223.0h0.6M39.0,223.2h0.6M31.7,223.8h0.6M32.6,221.9h0.6M39.7,224.7h0.6M26.4,226.2h0.6M34.0,224.8h0.6M27.5,217.9h0.6M30.9,224.3h0.6M32.6,229.9h0.6M31.8,221.9h0.6M33.4,216.2h0.6M30.5,227.4h0.6M32.6,213.7h0.6M29.2,225.1h0.6M31.7,221.3h0.6M28.5,226.7h0.6M35.0,224.4h0.6M28.8,228.7h0.6M35.1,226.7h0.6M31.6,230.7h0.6M31.9,220.8h0.6M36.6,226.6h0.6M33.2,222.8h0.6M26.9,224.5h0.6M34.5,225.6h0.6M23.8,226.0h0.6M33.7,224.1h0.6M31.6,225.8h0.6M28.5,224.9h0.6M33.2,223.8h0.6M31.9,227.3h0.6M39.2,226.4h0.6M31.5,226.9h0.6M39.0,222.2h0.6M37.3,218.9h0.6M31.0,220.1h0.6M30.3,223.7h0.6M37.1,220.2h0.6M32.5,223.8h0.6M33.4,220.6h0.6M32.1,223.9h0.6M29.1,223.8h0.6M31.7,225.2h0.6M29.9,224.8h0.6M28.1,219.5h0.6M32.0,227.9h0.6M38.6,222.7h0.6M38.0,224.6h0.6M32.7,221.2h0.6M33.3,218.5h0.6M34.5,224.6h0.6M37.2,231.4h0.6M33.9,222.0h0.6M31.4,222.6h0.6M31.7,229.4h0.6M36.5,223.9h0.6M41.2,222.3h0.6M30.9,231.5h0.6M26.4,223.6h0.6M35.5,222.1h0.6M32.7,223.4h0.6M33.3,227.1h0.6M36.8,225.3h0.6M33.1,225.9h0.6M28.7,223.6h0.6M26.7,228.5h0.6M32.8,219.7h0.6M29.2,223.8h0.6M33.8,230.4h0.6M28.8,219.9h0.6M31.8,223.9h0.6M28.2,226.8h0.6M31.8,224.0h0.6M31.5,229.9h0.6M34.8,223.1h0.6M37.2,230.5h0.6M32.3,227.3h0.6M30.2,220.6h0.6M39.1,218.8h0.6M34.1,224.8h0.6M34.9,226.5h0.6M34.9,220.8h0.6M37.6,223.1h0.6M36.1,222.7h0.6M35.1,221.7h0.6M35.4,226.8h0.6M30.2,222.3h0.6M31.0,230.9h0.6M32.6,219.7h0.6M33.2,228.8h0.6M33.0,226.0h0.6M33.9,225.9h0.6M33.0,221.9h0.6M31.6,222.2h0.6M27.7,224.2h0.6M35.6,221.8h0.6M34.8,222.2h0.6M30.1,225.0h0.6M34.5,229.5h0.6M34.2,230.8h0.6M33.1,231.0h0.6M27.0,225.6h0.6M29.1,225.7h0.6M31.0,225.0h0.6M38.1,222.2h0.6M30.2,225.5h0.6M31.8,227.4h0.6M29.4,229.5h0.6M31.3,230.2h0.6M34.0,220.2h0.6M26.3,222.9h0.6M23.9,230.3h0.6M35.0,224.4h0.6M33.0,222.7h0.6M31.0,219.7h0.6M36.0,225.2h0.6M36.0,222.9h0.6M26.2,222.2h0.6M32.4,229.5h0.6M36.5,225.5h0.6M30.8,224.7h0.6M31.9,226.5h0.6M36.0,217.0h0.6M32.1,221.7h0.6M29.1,224.4h0.6M30.7,227.5h0.6M28.7,222.5h0.6M34.7,221.8h0.6M27.4,227.0h0.6M36.1,224.7h0.6M27.7,229.8h0.6M33.1,224.3h0.6M28.2,222.6h0.6M31.9,221.3h0.6M36.2,221.6h0.6M36.5,220.8h0.6M37.1,224.9h0.6M32.6,225.6h0.6M33.3,220.4h0.6M33.7,222.6h0.6M34.9,226.1h0.6M31.6,222.9h0.6M36.4,220.8h0.6M34.0,221.7h0.6M36.6,223.0h0.6M34.4,225.3h0.6M35.1,222.4h0.6M30.6,219.5h0.6M31.6,224.0h0.6M28.8,227.1h0.6M32.0,223.3h0.6M32.4,228.0h0.6M35.6,222.8h0.6M28.9,226.0h0.6M43.3,218.8h0.6M32.5,223.9h0.6M36.9,220.0h0.6M36.2,216.4h0.6M24.9,226.7h0.6M32.1,226.9h0.6M37.6,221.6h0.6M25.2,226.2h0.6M35.4,223.1h0.6M30.0,226.7h0.6M31.4,222.8h0.6M33.6,223.8h0.6M26.9,232.1h0.6M33.5,224.7h0.6M30.8,223.6h0.6M30.5,221.1h0.6M35.2,225.4h0.6M44.1,223.9h0.6M34.0,220.4h0.6M34.7,225.6h0.6M32.7,223.9h0.6M30.6,223.3h0.6M33.7,221.7h0.6M37.8,223.0h0.6M33.5,227.4h0.6M35.8,220.4h0.6M32.2,225.6h0.6M41.0,223.8h0.6M27.6,219.3h0.6M34.8,221.1h0.6M34.6,227.0h0.6M33.8,225.4h0.6M29.3,225.7h0.6M29.3,227.3h0.6M32.1,230.1h0.6M33.2,221.7h0.6M29.0,222.7h0.6M29.5,224.2h0.6M34.7,225.0h0.6M36.2,222.8h0.6M31.1,222.7h0.6M30.7,227.8h0.6M30.6,225.7h0.6M40.8,224.0h0.6M34.5,221.7h0.6M32.7,223.4h0.6M36.1,227.3h0.6M40.2,224.3h0.6M36.6,218.0h0.6M28.3,228.2h0.6M32.6,223.8h0.6M31.6,226.4h0.6M31.8,220.7h0.6M29.0,225.3h0.6M31.6,225.8h0.6M29.4,228.5h0.6M34.0,224.7h0.6M33.0,221.6h0.6M28.3,223.2h0.6M27.4,229.4h0.6M31.3,219.8h0.6M35.0,224.4h0.6M34.5,227.0h0.6M32.7,223.8h0.6M22.3,228.5h0.6M31.3,226.3h0.6M30.5,226.6h0.6M31.8,224.7h0.6M29.0,226.6h0.6M31.5,229.7h0.6M30.7,223.1h0.6M41.6,223.7h0.6M35.1,220.1h0.6M32.3,222.7h0.6M32.7,222.4h0.6M32.5,223.7h0.6M33.5,220.2h0.6M31.6,225.5h0.6M32.8,227.2h0.6M36.2,222.4h0.6M35.5,231.7h0.6M33.9,225.1h0.6M37.1,222.6h0.6M33.6,225.3h0.6M29.7,221.2h0.6M27.3,223.4h0.6M30.6,224.4h0.6M32.7,225.4h0.6M34.1,220.6h0.6M36.3,225.4h0.6M31.0,225.9h0.6M30.3,222.6h0.6M35.3,221.8h0.6M36.7,217.2h0.6M31.3,225.2h0.6M34.0,229.6h0.6M37.3,221.2h0.6M33.9,220.2h0.6M32.7,224.7h0.6M26.2,221.1h0.6M37.1,217.9h0.6M34.9,225.7h0.6M33.3,225.6h0.6M31.4,228.3h0.6M28.9,223.5h0.6M32.6,222.1h0.6M32.5,222.5h0.6M36.4,227.1h0.6M29.0,227.4h0.6M37.5,227.4h0.6M33.0,229.0h0.6M36.7,227.4h0.6M29.8,229.7h0.6M34.0,224.5h0.6M36.8,222.0h0.6M33.2,222.3h0.6M28.2,225.4h0.6M31.8,226.5h0.6M34.6,223.8h0.6M28.4,223.6h0.6M28.2,226.2h0.6M33.6,223.9h0.6M29.8,225.9h0.6M35.1,225.3h0.6M29.1,225.0h0.6M27.0,228.9h0.6M30.4,221.7h0.6M37.7,227.8h0.6M30.1,223.5h0.6M32.9,228.3h0.6M33.7,219.5h0.6M29.8,222.3h0.6M36.4,225.8h0.6M33.4,225.4h0.6M34.3,227.3h0.6M27.5,225.7h0.6M27.3,224.3h0.6M24.0,218.7h0.6M32.3,228.5h0.6M32.1,220.7h0.6M35.2,225.4h0.6M37.6,222.3h0.6M32.1,221.8h0.6M32.0,222.8h0.6M34.3,222.6h0.6M37.8,223.7h0.6M30.2,224.9h0.6M34.9,223.3h0.6M32.1,220.8h0.6M31.8,228.9h0.6M35.5,225.1h0.6M30.3,228.5h0.6M29.5,227.9h0.6M35.0,226.1h0.6M32.8,221.0h0.6M32.0,218.0h0.6M32.5,220.3h0.6M34.5,227.4h0.6M31.7,224.3h0.6M35.3,227.0h0.6M34.2,222.6h0.6M37.6,219.3h0.6M36.9,221.5h0.6M35.6,221.0h0.6M32.2,224.8h0.6M33.3,230.0h0.6M31.0,230.6h0.6M42.0,222.4h0.6M32.2,222.7h0.6M34.7,220.0h0.6M37.2,224.2h0.6M28.5,225.0h0.6M30.2,224.1h0.6M31.6,221.3h0.6M29.7,225.2h0.6M28.8,228.4h0.6M31.2,221.4h0.6M37.0,222.0h0.6M35.2,222.5h0.6M33.0,228.0h0.6M33.0,224.2h0.6M27.6,230.6h0.6M35.1,229.7h0.6M34.3,224.6h0.6M29.4,226.3h0.6M33.6,222.4h0.6M32.3,220.1h0.6M31.2,224.7h0.6M29.7,219.6h0.6M30.7,226.5h0.6M29.9,222.7h0.6M34.4,227.7h0.6M34.1,223.6h0.6M33.9,224.9h0.6M32.3,225.0h0.6M31.6,222.8h0.6M39.4,228.3h0.6M26.9,225.3h0.6M36.7,225.7h0.6M34.0,223.6h0.6M33.1,223.0h0.6M31.3,225.7h0.6M32.2,225.5h0.6M29.1,228.6h0.6M28.5,223.6h0.6M32.5,226.3h0.6M27.6,224.1h0.6M35.6,227.8h0.6M36.5,219.3h0.6M21.9,229.8h0.6M27.9,221.9h0.6M33.8,225.4h0.6M33.6,222.4h0.6M33.3,224.6h0.6M34.3,221.9h0.6M35.3,223.6h0.6M35.7,219.8h0.6M38.6,220.9h0.6M33.0,222.2h0.6M35.7,218.6h0.6M27.7,227.5h0.6M32.5,220.4h0.6M29.0,224.9h0.6M37.4,227.6h0.6M40.4,221.0h0.6M34.6,224.4h0.6M28.8,220.2h0.6M32.6,225.8h0.6M33.0,224.1h0.6M33.6,223.4h0.6M36.4,229.1h0.6M36.0,222.0h0.6M24.4,229.2h0.6M37.3,219.0h0.6M31.3,219.6h0.6M31.1,224.7h0.6M37.5,227.9h0.6M32.1,223.9h0.6M28.5,224.7h0.6M28.7,223.1h0.6M33.1,225.1h0.6M35.8,227.1h0.6M37.7,223.5h0.6M32.4,227.1h0.6M31.4,219.3h0.6M38.1,225.1h0.6M31.5,226.5h0.6M37.6,223.3h0.6M33.7,227.7h0.6M33.7,225.4h0.6M32.2,224.8h0.6M33.9,225.5h0.6M31.4,225.3h0.6M30.8,221.0h0.6M32.5,223.0h0.6M30.8,228.7h0.6M33.9,225.3h0.6M33.2,221.9h0.6M32.1,226.4h0.6M32.3,224.1h0.6M32.2,224.5h0.6M38.5,221.3h0.6M32.9,224.8h0.6M31.0,225.1h0.6M32.0,227.0h0.6M35.0,222.6h0.6M32.3,227.1h0.6M32.4,219.2h0.6M32.1,224.5h0.6M33.5,224.8h0.6M34.2,221.6h0.6M34.3,224.1h0.6M27.7,225.2h0.6M29.5,225.2h0.6M24.5,228.3h0.6M35.5,226.4h0.6M36.5,225.5h0.6M37.1,219.9h0.6M33.4,226.0h0.6M36.6,224.6h0.6M32.8,225.6h0.6M32.5,222.2h0.6M28.0,219.5h0.6M30.4,227.6h0.6M31.0,223.0h0.6M35.9,223.2h0.6M38.2,223.9h0.6M31.4,223.1h0.6M34.1,227.7h0.6M33.8,221.5h0.6M30.4,224.1h0.6M27.4,228.5h0.6M30.5,220.0h0.6M28.3,222.8h0.6M31.9,221.0h0.6M32.5,228.7h0.6M32.3,225.2h0.6M32.4,225.9h0.6M34.5,222.0h0.6M29.9,220.9h0.6M35.8,229.2h0.6M27.6,225.4h0.6M33.1,224.5h0.6M34.2,221.0h0.6M30.4,224.9h0.6M27.8,229.2h0.6M35.0,224.3h0.6M30.8,227.8h0.6M35.4,225.9h0.6M35.4,223.5h0.6M32.9,225.7h0.6M32.9,223.4h0.6M36.1,228.0h0.6M34.1,217.0h0.6M29.9,221.2h0.6M33.4,222.0h0.6M34.7,227.6h0.6M33.6,230.5h0.6M33.5,226.6h0.6M32.4,225.0h0.6M32.5,217.7h0.6M29.9,221.0h0.6M28.3,226.9h0.6M36.5,219.8h0.6M30.9,221.1h0.6M33.6,224.0h0.6M28.1,221.7h0.6M33.4,223.1h0.6M30.3,226.8h0.6M42.4,225.5h0.6M29.7,225.3h0.6M29.8,222.0h0.6M35.9,227.5h0.6M36.5,228.2h0.6M26.2,224.2h0.6M33.7,232.1h0.6M35.7,218.2h0.6M29.0,226.4h0.6M35.1,221.5h0.6M31.2,219.1h0.6M29.7,229.3h0.6M31.8,227.6h0.6M31.4,217.9h0.6M28.5,226.1h0.6M40.0,222.9h0.6M31.5,223.9h0.6M30.5,221.6h0.6M35.6,219.6h0.6M32.7,223.9h0.6M37.2,224.2h0.6M32.1,224.5h0.6M34.0,223.1h0.6M33.2,220.3h0.6M33.4,223.7h0.6M32.2,219.0h0.6M32.6,226.8h0.6M38.2,221.4h0.6M30.7,219.5h0.6M31.2,220.8h0.6M31.8,223.5h0.6M34.7,226.4h0.6M34.2,226.0h0.6M35.9,224.0h0.6M28.7,224.3h0.6M33.7,224.8h0.6M32.3,228.7h0.6M32.0,226.6h0.6M33.4,222.6h0.6M26.7,223.2h0.6M33.8,228.2h0.6M33.4,225.2h0.6M28.4,230.3h0.6M32.6,226.0h0.6M37.8,212.5h0.6M31.7,224.3h0.6M34.8,224.8h0.6M32.2,226.1h0.6M30.3,228.4h0.6M30.0,230.4h0.6M31.6,224.6h0.6M37.0,224.1h0.6M35.5,219.2h0.6M30.7,229.6h0.6M36.1,222.2h0.6M32.5,220.3h0.6M30.7,230.5h0.6M34.3,221.9h0.6M30.0,229.7h0.6M27.9,223.8h0.6M37.0,218.9h0.6M27.1,225.6h0.6M34.6,223.0h0.6M28.1,227.4h0.6M32.8,223.4h0.6M32.3,221.0h0.6M31.5,225.1h0.6M26.0,226.3h0.6M32.6,223.1h0.6M32.8,221.8h0.6M30.1,229.7h0.6M32.7,224.1h0.6M36.1,225.5h0.6M30.6,223.3h0.6M33.7,221.0h0.6M29.3,224.1h0.6M34.1,220.1h0.6M34.9,226.7h0.6M40.8,223.6h0.6M35.8,226.5h0.6M34.3,223.7h0.6M37.4,222.9h0.6M29.8,225.5h0.6M36.3,227.0h0.6M31.2,224.8h0.6M31.0,226.0h0.6M36.4,221.6h0.6M33.7,224.8h0.6M37.1,219.8h0.6M28.3,224.6h0.6M33.8,229.5h0.6M31.3,225.1h0.6M32.1,228.7h0.6M26.9,222.7h0.6M35.9,219.3h0.6M33.6,224.1h0.6M29.8,223.6h0.6M28.7,229.5h0.6M30.2,231.5h0.6M37.3,224.8h0.6M32.6,225.0h0.6M31.9,229.0h0.6M34.5,223.6h0.6M33.0,223.3h0.6M33.7,222.1h0.6M35.3,219.1h0.6M34.0,221.6h0.6M35.7,224.6h0.6M29.2,224.8h0.6M33.1,222.4h0.6M31.8,227.6h0.6M33.3,220.2h0.6M32.8,221.6h0.6M31.0,225.3h0.6M31.9,226.4h0.6M35.9,212.2h0.6M31.2,222.1h0.6M29.1,222.3h0.6M34.8,218.4h0.6M36.0,220.6h0.6M32.1,223.8h0.6M33.4,222.0h0.6M30.3,227.5h0.6M32.3,222.2h0.6M36.5,228.0h0.6M35.5,222.3h0.6M33.4,222.4h0.6M32.1,229.0h0.6M27.9,219.7h0.6M34.0,227.4h0.6M34.4,220.7h0.6M36.3,225.0h0.6M39.3,221.8h0.6M34.2,225.9h0.6M36.0,216.1h0.6M29.5,221.9h0.6M36.8,217.9h0.6M35.7,221.2h0.6M37.3,221.1h0.6M35.1,223.2h0.6M34.4,224.5h0.6M37.6,221.3h0.6M30.9,224.2h0.6M35.0,224.1h0.6M36.4,227.4h0.6M30.5,225.6h0.6M29.4,223.2h0.6M34.4,225.2h0.6M33.4,223.0h0.6M34.9,224.1h0.6M35.0,226.7h0.6M30.6,227.4h0.6M34.1,226.1h0.6M36.5,224.2h0.6M31.9,225.2h0.6M32.1,221.0h0.6M29.5,228.2h0.6M35.6,229.6h0.6M39.1,220.7h0.6M28.8,226.5h0.6M35.4,223.9h0.6M35.9,215.9h0.6M31.3,220.2h0.6M31.9,222.6h0.6M29.8,222.1h0.6M30.6,224.3h0.6M33.6,221.1h0.6M35.1,225.5h0.6M33.4,226.1h0.6M35.7,224.9h0.6M33.7,219.3h0.6M29.4,220.3h0.6M37.6,224.9h0.6M36.7,219.8h0.6M30.8,225.1h0.6M38.6,219.6h0.6M34.5,224.7h0.6M33.5,221.2h0.6M39.0,223.0h0.6M25.3,226.8h0.6M28.1,225.3h0.6M35.3,223.1h0.6M32.3,226.0h0.6M30.1,228.9h0.6M37.8,217.9h0.6M34.6,224.9h0.6M29.1,230.4h0.6M31.0,231.3h0.6M35.7,231.8h0.6M38.6,224.6h0.6M26.8,221.5h0.6M33.9,228.8h0.6M31.9,225.3h0.6M27.6,230.8h0.6M32.6,220.9h0.6M28.1,224.2h0.6M31.4,223.5h0.6M38.1,218.9h0.6M34.7,218.8h0.6M35.5,220.4h0.6M35.0,225.4h0.6M34.2,227.8h0.6M36.1,226.5h0.6M29.5,230.2h0.6M32.0,218.9h0.6M35.8,224.0h0.6M30.8,224.2h0.6M31.7,223.8h0.6M36.9,217.1h0.6M37.9,224.6h0.6M31.2,221.0h0.6M30.6,223.7h0.6M34.9,224.1h0.6M34.0,229.6h0.6M31.0,221.8h0.6M35.0,225.8h0.6M34.8,225.0h0.6M33.4,223.3h0.6M42.3,221.6h0.6M37.4,219.7h0.6M35.7,225.5h0.6M36.3,222.8h0.6M42.4,221.0h0.6M36.6,223.2h0.6M30.9,222.5h0.6M34.1,224.6h0.6M33.4,220.4h0.6M31.4,226.6h0.6M33.9,228.2h0.6M33.9,224.0h0.6M33.0,220.6h0.6M31.6,225.9h0.6M35.7,225.3h0.6M28.1,226.2h0.6M35.7,222.9h0.6M33.2,224.6h0.6M34.0,222.9h0.6M25.7,230.9h0.6M38.4,218.3h0.6M27.7,223.6h0.6M30.4,227.3h0.6M35.1,219.5h0.6M31.2,223.1h0.6M31.9,219.9h0.6M26.1,229.2h0.6M31.8,219.4h0.6M33.8,223.8h0.6M35.3,229.7h0.6M32.2,222.0h0.6M33.8,224.8h0.6M34.5,226.8h0.6M31.0,225.2h0.6M30.8,230.4h0.6M39.3,220.9h0.6M30.5,225.3h0.6M37.0,223.9h0.6M33.4,219.8h0.6M37.8,222.9h0.6M31.1,226.5h0.6M34.8,226.5h0.6M34.2,224.0h0.6M32.4,221.0h0.6M34.1,225.6h0.6M30.7,227.7h0.6M32.9,221.3h0.6M31.9,224.2h0.6M35.5,223.6h0.6M32.9,217.9h0.6M28.8,228.7h0.6M32.0,223.7h0.6M32.8,229.4h0.6M30.3,225.6h0.6M37.3,221.3h0.6M34.4,220.4h0.6M35.8,227.2h0.6M30.7,222.1h0.6M31.9,222.0h0.6M36.3,223.7h0.6M28.7,217.7h0.6M34.3,223.8h0.6M33.4,226.6h0.6M31.6,223.1h0.6M33.4,229.5h0.6M29.8,220.2h0.6M33.8,220.9h0.6M29.3,226.1h0.6M29.1,223.1h0.6M37.5,221.4h0.6M30.9,218.8h0.6M26.5,227.4h0.6M36.2,227.2h0.6M30.7,230.7h0.6M22.1,227.5h0.6M33.0,228.8h0.6M36.1,223.9h0.6M34.3,222.6h0.6M38.5,224.1h0.6M32.8,227.0h0.6M35.0,220.0h0.6M30.0,225.4h0.6M33.7,223.2h0.6M38.0,220.1h0.6M34.7,227.6h0.6M33.7,226.7h0.6M26.9,218.0h0.6M32.0,224.8h0.6M29.1,228.1h0.6M35.6,224.2h0.6M30.8,226.3h0.6M34.3,227.5h0.6M30.0,226.0h0.6M39.1,222.7h0.6M29.5,225.0h0.6M33.6,222.3h0.6M41.4,227.3h0.6M33.8,228.4h0.6M30.4,222.3h0.6M35.1,224.9h0.6M36.3,219.7h0.6M35.9,222.5h0.6M26.9,229.7h0.6M33.8,222.3h0.6M26.4,228.6h0.6M39.1,221.9h0.6M33.4,220.3h0.6M31.7,218.1h0.6M35.3,223.8h0.6M34.7,221.6h0.6M29.4,224.0h0.6M38.3,220.5h0.6M32.4,231.8h0.6M27.6,226.5h0.6M37.6,222.1h0.6M38.0,221.5h0.6M37.1,225.4h0.6M34.9,221.2h0.6M30.3,221.4h0.6M36.1,223.1h0.6M39.0,223.3h0.6M35.7,224.5h0.6M38.2,222.4h0.6M30.7,221.1h0.6M36.4,218.8h0.6M36.1,224.8h0.6M28.4,227.9h0.6M28.0,227.6h0.6M30.9,221.6h0.6M33.4,223.3h0.6M34.6,222.8h0.6M32.4,222.8h0.6M33.0,223.0h0.6M32.8,224.5h0.6M33.4,227.1h0.6M35.0,225.4h0.6M34.7,223.3h0.6M33.0,222.9h0.6M34.0,224.9h0.6M31.7,225.6h0.6M35.7,219.4h0.6M31.6,225.8h0.6M38.4,222.2h0.6M33.1,225.0h0.6M34.0,226.4h0.6M30.8,229.1h0.6M32.1,225.9h0.6M33.7,226.4h0.6M33.2,221.5h0.6M31.2,227.9h0.6M29.5,226.1h0.6M33.3,222.1h0.6M33.7,224.3h0.6M34.9,222.2h0.6M37.1,220.6h0.6M32.2,229.2h0.6M26.8,226.7h0.6M32.7,227.0h0.6M27.3,221.4h0.6M29.1,225.3h0.6M36.4,221.8h0.6M35.0,218.6h0.6M31.1,225.6h0.6M31.2,224.3h0.6M32.9,222.9h0.6M27.6,226.1h0.6M34.7,220.0h0.6M32.1,221.9h0.6M39.0,219.7h0.6M29.8,224.7h0.6M36.4,224.3h0.6M31.0,225.6h0.6M36.4,224.4h0.6M30.1,229.6h0.6M35.5,222.4h0.6M31.8,222.0h0.6M30.6,224.7h0.6M32.7,225.6h0.6M34.7,223.6h0.6M34.5,223.1h0.6M38.2,221.9h0.6M35.8,218.1h0.6M24.8,228.5h0.6M31.9,223.3h0.6M26.8,223.5h0.6M32.0,224.1h0.6M35.2,224.3h0.6M28.9,228.1h0.6M29.4,226.7h0.6M33.6,221.9h0.6M32.3,220.0h0.6M38.2,224.8h0.6M34.2,222.4h0.6M34.9,222.1h0.6M38.8,219.8h0.6M31.6,223.7h0.6M33.2,222.7h0.6M30.0,222.1h0.6M34.0,227.3h0.6M36.5,223.1h0.6M37.5,228.2h0.6M33.1,229.9h0.6M30.9,227.0h0.6M30.7,229.2h0.6M28.7,223.6h0.6M33.6,221.0h0.6M37.5,223.9h0.6M25.6,226.2h0.6M26.2,226.4h0.6M37.7,223.8h0.6M28.1,224.9h0.6M34.2,222.8h0.6M29.2,226.3h0.6M35.7,225.8h0.6M35.7,225.0h0.6M33.7,221.6h0.6M35.8,224.7h0.6M33.4,219.8h0.6M35.0,224.3h0.6M39.0,218.7h0.6M36.7,226.7h0.6M31.1,226.6h0.6M30.6,223.2h0.6M32.4,222.8h0.6M32.5,224.7h0.6M33.4,218.0h0.6M31.3,224.3h0.6M35.3,222.7h0.6M33.3,225.7h0.6M34.4,218.9h0.6M33.2,221.5h0.6M35.2,222.4h0.6M29.4,229.7h0.6M38.3,221.8h0.6M34.3,225.2h0.6M34.7,222.6h0.6M35.2,220.9h0.6M36.7,225.4h0.6M35.6,222.9h0.6M34.0,221.3h0.6M32.6,223.7h0.6M28.0,226.2h0.6M33.9,227.0h0.6M32.2,226.2h0.6M32.2,228.0h0.6M40.9,219.4h0.6M27.3,225.1h0.6M33.4,227.6h0.6M37.1,223.2h0.6M36.3,227.1h0.6M37.2,232.7h0.6M29.2,221.5h0.6M30.2,221.4h0.6M35.2,227.9h0.6M32.3,226.4h0.6M38.7,222.2h0.6M34.0,225.0h0.6M33.9,226.4h0.6M34.7,225.2h0.6M32.4,225.0h0.6M33.6,225.6h0.6M31.1,223.9h0.6M33.1,224.8h0.6M31.7,226.6h0.6M34.1,223.8h0.6M28.7,230.0h0.6M28.5,221.0h0.6M34.7,228.8h0.6M34.0,224.1h0.6M30.2,223.8h0.6M32.5,223.0h0.6M29.9,224.1h0.6M39.8,218.8h0.6M28.3,228.5h0.6M38.8,223.0h0.6M30.6,224.2h0.6M34.6,225.2h0.6M32.4,226.0h0.6M32.1,220.6h0.6M36.3,225.4h0.6M35.9,224.8h0.6M32.4,225.1h0.6M30.4,225.4h0.6M39.9,222.0h0.6M37.8,223.6h0.6M33.7,222.9h0.6M32.3,223.9h0.6M34.2,222.4h0.6M33.5,220.0h0.6M37.1,225.6h0.6M30.2,220.0h0.6M33.4,225.3h0.6M30.8,222.7h0.6M37.5,222.6h0.6M39.1,223.6h0.6M33.0,229.8h0.6M35.0,219.0h0.6M37.8,225.2h0.6M32.3,226.6h0.6M30.3,221.7h0.6M36.6,223.1h0.6M34.9,218.2h0.6M32.6,219.3h0.6M38.0,220.9h0.6M34.0,223.2h0.6M27.6,223.2h0.6M34.4,227.6h0.6M33.1,223.6h0.6M39.3,222.2h0.6M33.2,225.4h0.6M32.6,223.5h0.6M34.7,228.0h0.6M34.1,221.3h0.6M28.8,221.4h0.6M33.7,227.7h0.6M32.2,223.9h0.6M37.8,218.5h0.6M41.0,221.1h0.6M29.7,227.9h0.6M30.2,227.6h0.6M30.6,222.2h0.6M31.2,219.3h0.6M31.1,227.7h0.6M33.5,223.9h0.6M36.8,225.5h0.6M29.1,225.9h0.6M28.4,224.3h0.6M27.4,225.6h0.6M36.8,225.2h0.6M37.5,217.0h0.6M28.4,225.7h0.6M28.1,225.8h0.6M33.7,220.8h0.6M36.8,223.2h0.6M36.5,223.9h0.6M33.9,221.2h0.6M35.5,226.5h0.6M34.3,221.7h0.6M31.5,221.5h0.6M39.4,220.7h0.6M33.3,224.6h0.6M29.7,224.9h0.6M31.8,229.4h0.6M28.4,225.6h0.6M33.4,223.2h0.6M36.8,220.8h0.6M29.3,224.6h0.6M36.9,224.3h0.6M40.0,224.9h0.6M34.5,223.9h0.6M29.6,224.6h0.6M30.6,221.2h0.6M32.2,224.3h0.6M29.2,226.5h0.6M29.3,225.3h0.6M32.5,225.7h0.6M32.7,224.9h0.6M35.2,230.0h0.6M29.5,229.6h0.6M39.3,226.1h0.6M36.7,221.9h0.6M36.2,223.6h0.6M31.2,224.1h0.6M38.9,219.4h0.6M32.2,227.3h0.6M39.1,219.4h0.6M36.7,222.2h0.6M30.4,226.8h0.6M31.8,220.1h0.6M39.3,226.8h0.6M36.5,226.6h0.6M32.8,224.8h0.6M34.0,222.8h0.6M33.9,224.5h0.6M30.8,230.8h0.6M32.7,225.1h0.6M31.2,224.8h0.6M31.9,217.1h0.6M34.8,219.8h0.6M30.2,224.4h0.6M35.6,226.7h0.6M33.7,223.0h0.6M35.7,226.9h0.6M36.2,222.8h0.6M37.3,222.1h0.6M35.3,224.8h0.6M35.6,222.8h0.6M32.7,225.2h0.6M35.1,225.3h0.6M30.4,220.4h0.6M32.5,222.6h0.6M35.7,224.4h0.6M33.1,226.3h0.6M34.7,223.2h0.6M29.9,223.2h0.6M37.7,220.6h0.6M31.5,220.3h0.6M34.6,222.5h0.6M33.2,227.3h0.6M36.3,217.6h0.6M32.1,221.0h0.6M30.1,222.5h0.6M27.2,221.7h0.6M32.3,228.6h0.6M29.5,226.1h0.6M35.0,225.1h0.6M37.9,219.6h0.6M26.2,229.1h0.6M29.2,226.0h0.6M34.3,219.5h0.6M37.3,221.3h0.6M34.3,225.0h0.6M34.3,218.5h0.6M34.9,227.5h0.6M35.1,222.4h0.6M38.6,223.5h0.6M35.3,222.2h0.6M29.3,225.8h0.6M31.8,226.8h0.6M34.0,223.3h0.6M30.7,228.5h0.6M32.5,222.8h0.6M31.6,225.4h0.6M31.1,222.0h0.6M35.5,224.9h0.6M32.1,226.3h0.6M29.8,223.8h0.6M31.0,221.1h0.6M33.4,230.0h0.6M40.1,222.2h0.6M34.1,222.1h0.6M38.1,227.0h0.6M34.9,226.2h0.6M26.4,223.9h0.6M34.5,226.2h0.6M30.6,226.6h0.6M28.9,220.2h0.6M29.8,227.6h0.6M39.1,225.2h0.6M28.2,231.9h0.6M31.3,227.7h0.6M37.0,226.7h0.6M35.4,218.7h0.6M27.8,221.9h0.6M32.9,227.8h0.6M31.6,218.9h0.6M32.7,222.0h0.6M35.7,224.0h0.6M31.4,222.2h0.6M32.3,223.3h0.6M38.0,225.2h0.6M27.4,230.5h0.6M32.1,227.0h0.6M34.8,223.8h0.6M29.3,226.1h0.6M31.3,226.7h0.6M29.1,222.3h0.6M33.8,227.0h0.6M31.3,222.0h0.6M35.8,224.9h0.6M36.6,223.0h0.6M33.4,227.3h0.6M32.1,224.4h0.6M34.1,226.2h0.6M33.5,229.1h0.6M29.4,225.1h0.6M36.7,223.4h0.6M34.0,221.6h0.6M35.8,222.7h0.6M28.9,228.0h0.6M36.1,225.2h0.6M40.1,229.6h0.6M35.3,226.9h0.6M28.6,221.5h0.6M33.4,219.7h0.6M33.1,222.0h0.6M34.0,223.1h0.6M32.5,222.6h0.6M34.9,222.3h0.6M31.8,229.4h0.6M34.0,226.4h0.6M31.1,221.2h0.6M33.6,220.7h0.6M36.5,222.7h0.6M31.7,225.4h0.6M35.4,224.7h0.6M30.4,226.3h0.6M32.1,227.1h0.6M32.5,229.8h0.6M37.3,222.7h0.6M30.8,226.0h0.6M37.2,223.8h0.6M28.5,220.3h0.6M32.8,222.5h0.6M36.2,225.4h0.6M35.5,221.9h0.6M30.0,229.2h0.6M29.3,222.0h0.6M36.1,222.7h0.6M29.2,225.6h0.6M35.1,222.0h0.6M31.6,220.3h0.6M33.2,225.5h0.6M40.8,225.2h0.6M38.3,216.9h0.6M36.0,223.4h0.6M28.8,220.9h0.6M34.3,225.8h0.6M33.4,223.0h0.6M32.9,226.0h0.6M37.6,221.3h0.6M27.7,226.2h0.6M34.3,225.8h0.6M33.7,219.6h0.6M30.8,223.7h0.6M38.9,228.6h0.6M29.2,225.8h0.6M33.4,226.7h0.6M33.5,227.6h0.6M26.2,227.5h0.6M28.6,226.6h0.6M30.1,224.8h0.6M35.8,225.8h0.6M36.3,228.8h0.6M35.2,225.2h0.6M34.0,221.4h0.6M26.1,229.7h0.6M34.0,222.2h0.6M31.6,223.2h0.6M37.1,224.5h0.6M37.6,222.2h0.6M40.5,224.6h0.6M35.6,224.7h0.6M35.9,226.5h0.6M29.9,223.6h0.6M33.5,220.1h0.6M29.3,227.0h0.6M36.2,220.0h0.6" stroke="#000" stroke-width="0.6" opacity="0.55" fill="none"/>
<path d="M22.4,228.8h0.6M28.6,223.3h0.6M28.0,225.6h0.6M41.6,222.2h0.6M30.1,222.0h0.6M36.9,223.7h0.6M22.8,232.2h0.6M33.6,227.6h0.6M35.8,228.7h0.6M32.8,232.8h0.6M19.5,226.2h0.6M33.9,229.4h0.6M37.0,229.2h0.6M39.6,227.8h0.6M35.0,219.9h0.6M24.6,227.1h0.6M32.0,219.9h0.6M37.5,223.7h0.6M28.9,226.9h0.6M35.8,221.1h0.6M30.6,221.9h0.6M33.5,223.6h0.6M36.8,228.1h0.6M29.5,226.9h0.6M47.3,226.9h0.6M33.8,225.2h0.6M34.7,223.4h0.6M29.3,218.2h0.6M33.3,217.8h0.6M31.7,221.4h0.6M25.7,221.2h0.6M25.4,224.5h0.6M34.4,211.4h0.6M32.6,217.4h0.6M19.9,214.7h0.6M22.3,224.4h0.6M31.5,222.6h0.6M32.7,219.5h0.6M36.0,222.8h0.6M26.8,223.9h0.6M36.0,228.1h0.6M31.5,220.2h0.6M30.5,224.0h0.6M32.3,220.7h0.6M37.9,224.3h0.6M35.8,231.7h0.6M37.4,221.1h0.6M29.6,219.6h0.6M31.6,230.2h0.6M27.2,229.6h0.6M30.2,226.1h0.6M31.0,225.7h0.6M30.7,232.3h0.6M36.6,215.6h0.6M35.1,219.2h0.6M36.8,226.3h0.6M33.6,232.2h0.6M38.4,221.6h0.6M33.6,215.2h0.6M37.8,219.6h0.6M35.5,218.5h0.6M36.7,227.8h0.6M32.7,223.2h0.6M26.8,232.1h0.6M25.8,216.6h0.6M42.8,219.8h0.6M34.9,233.3h0.6M35.2,232.1h0.6M32.2,222.2h0.6M30.7,224.0h0.6M47.4,223.0h0.6M27.4,222.5h0.6M32.7,215.2h0.6M32.7,222.6h0.6M27.3,233.4h0.6M26.6,226.1h0.6M29.5,230.8h0.6M31.3,228.1h0.6M30.6,223.2h0.6M37.1,224.2h0.6M27.1,230.1h0.6M35.0,224.0h0.6M40.3,226.5h0.6M37.5,221.0h0.6M27.3,226.4h0.6M37.2,224.7h0.6M35.5,220.4h0.6M30.1,225.4h0.6M39.4,223.1h0.6M31.0,227.2h0.6M33.5,223.5h0.6M27.8,233.2h0.6M34.6,211.9h0.6M30.8,227.7h0.6M30.5,224.3h0.6M38.4,225.4h0.6M34.1,226.2h0.6M25.5,223.8h0.6M36.5,225.9h0.6M37.2,225.4h0.6M28.8,231.2h0.6M31.0,228.8h0.6M33.3,229.5h0.6M31.8,216.4h0.6M33.6,230.2h0.6M36.2,228.5h0.6M30.5,223.8h0.6M43.4,215.9h0.6M29.4,232.5h0.6M30.3,231.7h0.6M42.8,221.9h0.6M44.9,220.5h0.6M33.2,230.6h0.6M32.1,232.6h0.6M27.6,229.6h0.6M38.7,219.9h0.6M33.9,224.3h0.6M28.8,221.7h0.6M35.0,224.4h0.6M39.9,223.2h0.6M36.4,220.9h0.6M44.0,222.8h0.6M38.8,222.1h0.6M35.2,228.0h0.6M32.8,227.0h0.6M35.8,221.7h0.6M39.1,224.2h0.6M37.3,226.9h0.6M38.3,220.4h0.6M34.1,221.6h0.6M36.8,223.6h0.6M39.1,226.6h0.6M32.2,220.4h0.6M26.5,214.2h0.6M41.6,226.4h0.6M35.9,230.7h0.6M30.8,228.2h0.6M34.2,228.3h0.6M31.8,230.2h0.6M24.5,231.2h0.6M32.1,220.6h0.6M25.9,221.7h0.6M34.0,217.4h0.6M32.5,221.0h0.6M38.7,225.4h0.6M32.4,219.5h0.6M34.9,226.7h0.6M31.5,226.1h0.6M31.1,229.9h0.6M26.0,220.1h0.6M38.0,218.8h0.6M33.9,226.2h0.6M30.1,226.2h0.6M34.0,224.0h0.6M30.9,223.8h0.6M29.4,221.2h0.6M34.2,223.8h0.6M39.1,221.4h0.6M31.7,231.3h0.6M25.9,227.0h0.6M29.9,233.0h0.6M42.0,214.6h0.6M28.9,218.8h0.6M38.9,220.0h0.6M31.8,219.5h0.6M36.7,214.6h0.6M32.5,220.2h0.6M25.1,233.0h0.6M30.9,225.6h0.6M43.6,233.0h0.6M32.3,228.1h0.6M35.8,229.4h0.6M31.3,224.7h0.6M32.3,222.7h0.6M34.6,228.2h0.6M35.4,225.2h0.6M44.1,221.0h0.6M32.9,225.1h0.6M32.1,225.3h0.6M29.7,235.8h0.6M26.4,227.5h0.6M25.0,222.3h0.6M36.3,222.6h0.6M23.7,232.7h0.6M40.0,224.3h0.6M37.3,222.4h0.6M31.5,229.0h0.6M27.2,222.4h0.6M33.2,227.9h0.6M33.1,225.8h0.6M38.6,223.8h0.6M29.3,215.0h0.6M31.1,226.2h0.6M32.7,227.0h0.6M31.6,221.4h0.6M29.9,227.1h0.6M24.4,225.1h0.6M24.8,236.0h0.6M29.6,223.6h0.6M31.9,224.7h0.6M38.0,229.3h0.6M44.6,216.1h0.6M41.6,223.9h0.6M35.0,224.9h0.6M42.4,228.6h0.6M32.4,231.8h0.6M30.4,227.4h0.6M44.6,229.1h0.6M27.7,223.1h0.6M30.9,220.8h0.6M31.7,227.5h0.6M40.3,230.3h0.6M30.0,226.7h0.6M36.9,228.4h0.6M31.0,224.0h0.6M26.9,224.7h0.6M34.2,226.1h0.6M33.9,223.9h0.6M27.2,220.7h0.6M28.7,217.5h0.6M29.1,227.5h0.6M37.8,220.2h0.6M35.3,225.0h0.6M34.2,228.9h0.6M35.5,218.1h0.6M30.6,223.0h0.6M35.4,223.3h0.6M30.0,223.3h0.6M26.4,226.3h0.6M29.5,229.8h0.6M34.1,216.2h0.6M33.5,220.2h0.6M38.3,222.2h0.6M24.6,221.6h0.6M31.9,218.8h0.6M35.0,224.9h0.6M28.2,222.6h0.6M34.3,225.6h0.6M31.0,221.9h0.6M27.4,226.6h0.6M38.6,212.4h0.6M26.1,227.3h0.6M38.0,221.1h0.6M31.0,222.7h0.6M28.3,226.8h0.6M28.6,221.0h0.6M29.3,225.4h0.6M28.8,227.0h0.6M34.4,224.1h0.6M23.7,229.5h0.6M39.2,217.8h0.6M37.2,220.8h0.6M40.0,218.7h0.6M28.1,231.4h0.6M21.5,225.3h0.6M29.9,228.4h0.6M32.2,224.1h0.6M34.6,218.4h0.6M30.4,223.7h0.6M32.6,225.2h0.6M33.8,219.2h0.6M25.3,221.2h0.6M42.1,214.4h0.6M27.4,233.8h0.6M34.4,222.7h0.6M38.4,225.3h0.6M29.1,229.0h0.6M33.1,223.9h0.6M41.2,228.1h0.6M31.6,234.7h0.6M38.3,227.5h0.6M34.5,225.3h0.6M34.2,215.8h0.6M36.6,227.0h0.6M31.9,229.9h0.6M32.0,233.5h0.6M37.9,225.1h0.6M34.4,225.2h0.6M35.5,223.2h0.6M27.1,232.0h0.6M33.1,227.8h0.6M39.1,233.5h0.6M37.6,222.8h0.6M34.8,231.1h0.6M30.5,237.2h0.6M30.0,219.7h0.6M35.3,221.7h0.6M40.2,221.5h0.6M33.3,222.8h0.6M39.6,227.8h0.6M31.6,219.8h0.6M39.1,228.0h0.6M28.1,216.7h0.6M34.0,223.2h0.6M27.7,233.7h0.6M36.4,219.8h0.6M35.9,215.0h0.6M28.3,226.4h0.6M29.4,220.2h0.6M30.9,225.7h0.6M25.6,228.6h0.6M28.5,236.9h0.6M28.8,219.6h0.6M37.0,225.7h0.6M40.0,221.4h0.6M30.9,229.9h0.6M31.6,228.7h0.6M34.1,219.1h0.6M30.5,226.6h0.6M31.7,226.4h0.6M37.3,229.3h0.6M34.2,223.2h0.6M32.7,220.9h0.6M30.2,227.0h0.6M40.4,223.9h0.6M30.0,230.4h0.6M33.7,217.9h0.6M27.9,228.1h0.6M30.1,225.6h0.6M33.5,216.7h0.6M31.1,225.7h0.6M35.7,230.9h0.6M33.4,228.5h0.6M26.2,227.2h0.6M21.5,218.4h0.6M38.0,222.4h0.6M30.2,225.9h0.6M40.5,219.2h0.6M33.1,218.4h0.6M29.3,228.5h0.6M35.9,217.3h0.6M31.7,220.7h0.6M33.1,222.3h0.6M28.4,235.9h0.6M36.3,222.9h0.6M38.5,217.0h0.6M30.4,226.1h0.6M42.0,212.2h0.6M30.2,224.5h0.6M34.3,228.7h0.6M24.9,223.1h0.6M23.5,224.8h0.6M43.6,218.6h0.6M40.2,224.0h0.6M38.8,217.4h0.6M24.6,228.4h0.6M34.2,223.5h0.6M35.2,229.6h0.6M33.5,227.9h0.6M34.6,223.1h0.6M28.5,228.1h0.6M32.3,226.5h0.6M27.4,226.3h0.6M31.3,223.5h0.6M34.9,220.5h0.6M29.2,221.5h0.6M31.7,219.9h0.6M30.9,223.8h0.6M33.1,226.8h0.6M37.7,230.7h0.6M34.2,225.7h0.6M35.0,227.6h0.6M25.9,233.9h0.6M31.2,217.1h0.6M37.1,231.9h0.6M28.8,223.5h0.6M30.9,222.2h0.6M28.2,226.3h0.6M39.7,211.3h0.6M30.8,224.6h0.6M29.4,228.5h0.6M36.1,215.7h0.6M38.5,226.9h0.6M35.5,230.4h0.6M38.0,228.0h0.6M34.1,227.0h0.6M32.4,224.2h0.6M30.8,223.2h0.6M30.5,231.7h0.6" stroke="#000" stroke-width="0.6" opacity="0.4" fill="none"/>
<path d="M36.0,213.5h0.6M29.5,211.2h0.6M33.1,207.6h0.6M38.1,200.2h0.6M29.8,197.9h0.6M28.0,199.6h0.6M27.7,199.2h0.6M20.7,201.4h0.6M20.8,214.4h0.6M35.2,211.3h0.6M38.7,215.1h0.6M34.6,203.6h0.6M28.4,197.0h0.6M34.1,182.9h0.6M24.0,202.5h0.6M39.3,199.1h0.6M39.1,208.5h0.6" stroke="#000" stroke-width="0.6" opacity="0.4" fill="none"/>
<path d="M58.9,222.9h0.6M51.9,225.9h0.6M62.1,221.4h0.6M48.3,222.7h0.6M47.9,220.3h0.6M55.5,225.0h0.6M55.3,227.8h0.6M61.8,224.6h0.6M56.9,224.7h0.6M71.0,222.2h0.6M53.2,223.1h0.6M59.8,216.8h0.6M50.0,223.2h0.6M51.6,220.7h0.6M53.3,226.5h0.6M65.7,227.3h0.6M65.2,225.2h0.6M57.9,221.3h0.6M69.0,224.9h0.6M49.6,230.3h0.6M57.1,220.3h0.6M49.1,222.9h0.6M63.4,223.4h0.6M53.1,224.7h0.6M60.8,231.5h0.6M70.6,220.1h0.6M55.5,216.5h0.6M50.3,217.6h0.6M50.4,222.2h0.6M53.6,218.5h0.6M51.5,219.8h0.6M67.8,224.0h0.6M50.2,220.4h0.6M61.7,220.7h0.6M62.4,219.4h0.6M69.8,221.4h0.6M50.9,216.6h0.6M59.1,221.4h0.6M43.8,222.0h0.6M50.7,224.6h0.6M52.7,226.1h0.6M49.5,220.0h0.6M58.7,217.0h0.6M49.2,222.6h0.6" stroke="#000" stroke-width="0.6" opacity="0.4" fill="none"/>
<rect x="17.4" y="160.4" width="80.8" height="80.1" fill="none" stroke="#828282" stroke-width="1.9"/>
<path d="M43.4,160.4V240.5M17.4,215.2H98.2" stroke="#707070" stroke-width="1.6" fill="none"/>
<text x="22.0" y="168.0" font-size="6.6" font-weight="normal" fill="#000" stroke="#000" stroke-width="0.3">0.4</text>
<text x="97.60000000000001" y="168.0" font-size="6.6" font-weight="normal" text-anchor="end" fill="#000" stroke="#000" stroke-width="0.3">0.04</text>
<text x="97.60000000000001" y="236.8" font-size="6.6" font-weight="normal" text-anchor="end" fill="#000" stroke="#000" stroke-width="0.3">1.2</text>
<text x="29.2" y="156.4" font-size="9.3" font-weight="bold" textLength="53.4" lengthAdjust="spacingAndGlyphs" fill="#000" stroke="#000" stroke-width="0.4">CD161- Treg</text>
<path d="M9.35,179.4V249.0H86.5" stroke="#000" stroke-width="1.6" fill="none" stroke-linejoin="miter"/>
<path d="M9.35,174.4l-2.6,6.6h5.2z" fill="#000"/>
<path d="M91.5,249.0l-6.8,-2.5v5z" fill="#000"/>
<text x="6.8" y="195.7" font-size="9.6" font-weight="bold" text-anchor="middle" textLength="20" lengthAdjust="spacingAndGlyphs" transform="rotate(-90 6.8 195.7)" fill="#000" stroke="#000" stroke-width="0.15">IL-17</text>
<text x="57.9" y="257.5" font-size="9.8" font-weight="bold" textLength="21.7" lengthAdjust="spacingAndGlyphs" fill="#000" stroke="#000" stroke-width="0.15">IFN-γ</text>
<rect x="127.9" y="160.4" width="81.0" height="80.4" fill="#fff" stroke="none"/>
<path d="M125.2,243.5h2.0M125.2,237.3h1.4M125.2,233.5h1.4M125.2,231.0h1.4M125.2,229.0h1.4M125.2,227.3h1.4M125.2,225.8h1.4M125.2,224.8h1.4M125.2,223.8h1.4M125.2,222.7h2.0M125.2,216.5h1.4M125.2,212.8h1.4M125.2,210.3h1.4M125.2,208.2h1.4M125.2,206.5h1.4M125.2,205.1h1.4M125.2,204.0h1.4M125.2,203.0h1.4M125.2,201.9h2.0M125.2,195.7h1.4M125.2,192.0h1.4M125.2,189.5h1.4M125.2,187.4h1.4M125.2,185.7h1.4M125.2,184.3h1.4M125.2,183.3h1.4M125.2,182.2h1.4M125.2,181.2h2.0M125.2,174.9h1.4M125.2,171.2h1.4M125.2,168.7h1.4M125.2,166.6h1.4M125.2,165.0h1.4M125.2,163.5h1.4M125.2,162.5h1.4M125.2,161.4h1.4M125.2,243.5v-2.0M131.5,243.5v-1.4M135.2,243.5v-1.4M137.8,243.5v-1.4M139.8,243.5v-1.4M141.5,243.5v-1.4M143.0,243.5v-1.4M144.0,243.5v-1.4M145.1,243.5v-1.4M146.1,243.5v-2.0M152.4,243.5v-1.4M156.2,243.5v-1.4M158.7,243.5v-1.4M160.8,243.5v-1.4M162.4,243.5v-1.4M163.9,243.5v-1.4M165.0,243.5v-1.4M166.0,243.5v-1.4M167.1,243.5v-2.0M173.3,243.5v-1.4M177.1,243.5v-1.4M179.6,243.5v-1.4M181.7,243.5v-1.4M183.4,243.5v-1.4M184.8,243.5v-1.4M185.9,243.5v-1.4M186.9,243.5v-1.4M188.0,243.5v-2.0M194.3,243.5v-1.4M198.0,243.5v-1.4M200.5,243.5v-1.4M202.6,243.5v-1.4M204.3,243.5v-1.4M205.8,243.5v-1.4M206.8,243.5v-1.4M207.9,243.5v-1.4" stroke="#333" stroke-width="0.6" fill="none" opacity="0.8"/>
<ellipse cx="146.6" cy="222.2" rx="8.5" ry="7.2" fill="url(#core)" transform="rotate(-35 146.6 222.2)"/>
<path d="M145.0,223.7h0.6M145.0,224.4h0.6M150.6,220.8h0.6M146.9,219.3h0.6M145.1,220.5h0.6M148.9,219.9h0.6M142.5,223.4h0.6M147.0,223.0h0.6M146.5,221.5h0.6M146.2,223.6h0.6M143.0,224.3h0.6M149.6,223.3h0.6M151.8,220.6h0.6M142.5,223.9h0.6M147.0,217.7h0.6M148.6,220.3h0.6M153.5,220.8h0.6M145.3,220.8h0.6M143.7,224.4h0.6M146.6,219.8h0.6M152.8,218.3h0.6M146.8,215.2h0.6M147.4,224.6h0.6M152.1,220.6h0.6M140.0,224.8h0.6M139.9,223.8h0.6M149.4,219.6h0.6M149.0,223.8h0.6M142.3,225.5h0.6M148.2,221.0h0.6M146.7,219.9h0.6M147.3,224.8h0.6M144.1,226.9h0.6M145.2,220.0h0.6M143.9,221.2h0.6M146.8,219.6h0.6M145.9,224.9h0.6M151.8,221.0h0.6M148.5,221.1h0.6M141.8,222.9h0.6M147.9,222.1h0.6M151.0,220.9h0.6M147.5,219.5h0.6M149.9,222.2h0.6M146.5,223.6h0.6M148.8,222.6h0.6M143.7,224.5h0.6M149.0,221.1h0.6M142.4,224.2h0.6M150.6,222.0h0.6M141.9,220.5h0.6M140.1,223.8h0.6M148.2,222.5h0.6M146.1,219.4h0.6M147.0,223.5h0.6M147.9,221.8h0.6M146.5,222.5h0.6M143.9,224.6h0.6M147.2,223.0h0.6M147.7,221.7h0.6M148.1,225.2h0.6M152.7,221.1h0.6M144.3,222.5h0.6M146.8,221.6h0.6M148.3,221.0h0.6M145.2,217.1h0.6M142.9,222.0h0.6M144.9,223.2h0.6M149.9,221.5h0.6M145.8,222.6h0.6M148.5,220.6h0.6M144.3,223.8h0.6M148.0,218.2h0.6M144.5,225.6h0.6M144.0,221.7h0.6M146.9,221.0h0.6M146.8,225.0h0.6M151.1,219.2h0.6M141.6,222.7h0.6M148.2,223.3h0.6M151.6,215.1h0.6M150.8,219.2h0.6M145.4,223.5h0.6M144.5,224.1h0.6M145.1,224.6h0.6M147.5,221.4h0.6M147.2,221.9h0.6M147.7,225.3h0.6M148.4,224.1h0.6M143.3,225.1h0.6M143.1,224.4h0.6M142.8,224.4h0.6M142.5,225.3h0.6M146.3,220.9h0.6M147.6,219.7h0.6M154.4,219.5h0.6M148.2,226.9h0.6M146.7,222.6h0.6M151.0,219.5h0.6M144.3,223.3h0.6M147.6,221.3h0.6M149.6,221.0h0.6M149.0,225.0h0.6M147.8,227.9h0.6M145.5,221.2h0.6M142.8,224.8h0.6M146.1,221.5h0.6M144.8,223.6h0.6M148.7,222.0h0.6M146.2,219.2h0.6M148.3,224.5h0.6M141.6,224.0h0.6M149.6,223.9h0.6M144.0,223.0h0.6M141.8,222.8h0.6M142.4,222.2h0.6M144.7,222.6h0.6M150.1,224.4h0.6M148.8,221.0h0.6M143.0,221.4h0.6M146.9,219.8h0.6M146.3,217.3h0.6M141.8,222.6h0.6M143.6,225.8h0.6M140.3,225.7h0.6M143.9,223.0h0.6M138.4,222.6h0.6M144.2,225.8h0.6M143.7,221.1h0.6M144.1,221.6h0.6M144.1,225.2h0.6M150.2,219.6h0.6M145.5,224.5h0.6M147.3,222.1h0.6M148.9,222.2h0.6M149.4,220.8h0.6M148.7,224.4h0.6M144.9,221.6h0.6M143.2,228.6h0.6M144.2,224.1h0.6M145.1,224.1h0.6M146.6,218.6h0.6M146.3,221.1h0.6M150.0,222.3h0.6M146.3,224.5h0.6M152.1,220.3h0.6M149.8,222.7h0.6M145.1,217.5h0.6M149.2,228.0h0.6M137.8,225.2h0.6M150.8,226.7h0.6M147.9,219.4h0.6M147.8,223.8h0.6M141.4,220.3h0.6M154.3,220.9h0.6M145.8,220.0h0.6M146.2,222.0h0.6M150.1,218.3h0.6M146.0,222.4h0.6M144.0,230.2h0.6M148.6,223.3h0.6M143.5,227.1h0.6M148.9,219.3h0.6M147.0,220.9h0.6M150.1,221.1h0.6M142.9,222.5h0.6M150.4,220.5h0.6M147.5,223.3h0.6M152.7,215.6h0.6M144.6,222.4h0.6M152.3,220.8h0.6M148.8,225.0h0.6M149.0,222.9h0.6M144.4,223.0h0.6M148.3,222.1h0.6M148.7,222.7h0.6M144.1,223.3h0.6M143.0,226.2h0.6M144.2,223.1h0.6M151.1,224.4h0.6M147.1,224.2h0.6M149.5,223.1h0.6M147.5,219.9h0.6M147.0,221.0h0.6M147.3,221.9h0.6M145.3,225.5h0.6M150.3,222.0h0.6M147.1,220.2h0.6M147.3,219.1h0.6M142.4,227.2h0.6M147.5,223.0h0.6M144.5,222.7h0.6M145.1,222.0h0.6M149.8,221.2h0.6M143.2,221.9h0.6M146.0,225.9h0.6M148.5,217.9h0.6M150.1,223.8h0.6M145.0,222.7h0.6M147.6,220.7h0.6M147.5,219.2h0.6M143.1,221.3h0.6M140.0,222.5h0.6M140.7,221.3h0.6M148.4,222.0h0.6M146.9,220.4h0.6M142.5,220.0h0.6M144.6,224.7h0.6M145.4,226.0h0.6M145.5,225.0h0.6M146.5,218.9h0.6M153.4,217.0h0.6M144.2,223.9h0.6M147.0,221.5h0.6M144.2,221.9h0.6M144.7,220.4h0.6M143.9,227.7h0.6M145.9,223.8h0.6M144.9,223.5h0.6M147.7,221.1h0.6M147.3,221.9h0.6M143.9,224.0h0.6M152.5,219.6h0.6M143.0,229.6h0.6M147.7,214.6h0.6M153.2,218.0h0.6M144.4,220.9h0.6M150.7,222.4h0.6M150.9,219.8h0.6M147.6,217.0h0.6M140.9,219.9h0.6M151.0,220.6h0.6M146.9,225.1h0.6M144.9,222.4h0.6M150.5,221.6h0.6M144.4,221.0h0.6M149.9,224.2h0.6M144.9,223.3h0.6M148.2,221.0h0.6M143.3,224.5h0.6M145.4,220.1h0.6M143.8,225.9h0.6M144.4,225.9h0.6M147.2,222.9h0.6M146.1,220.4h0.6M147.2,222.8h0.6M150.5,222.3h0.6M146.2,220.4h0.6M140.9,223.7h0.6M145.7,223.8h0.6M146.8,221.9h0.6M149.7,221.7h0.6M149.8,219.7h0.6M149.5,220.9h0.6M145.9,224.4h0.6M148.6,222.7h0.6M142.2,224.7h0.6M150.6,220.0h0.6M147.9,220.9h0.6M148.2,223.7h0.6M145.4,223.1h0.6M146.8,221.4h0.6M144.5,220.3h0.6M148.3,221.1h0.6M142.5,219.0h0.6M149.6,221.2h0.6M148.3,219.9h0.6M152.8,220.9h0.6M146.5,224.7h0.6M146.3,222.1h0.6M147.2,220.9h0.6M146.7,221.4h0.6M146.3,222.0h0.6M143.2,224.2h0.6M143.2,225.4h0.6M144.9,223.6h0.6M145.7,221.4h0.6M143.0,221.2h0.6M143.0,231.3h0.6M145.7,221.1h0.6M148.9,218.9h0.6M146.0,219.4h0.6M148.7,220.6h0.6M149.6,219.6h0.6M149.0,222.5h0.6M145.3,222.9h0.6M145.4,221.4h0.6M140.9,226.8h0.6M144.5,224.9h0.6M148.0,221.3h0.6M143.3,226.6h0.6M150.7,220.7h0.6M151.0,224.3h0.6M145.5,222.2h0.6M149.4,221.2h0.6M142.3,225.1h0.6M143.4,225.6h0.6M145.5,223.9h0.6M146.6,227.6h0.6M146.0,223.4h0.6M144.0,222.9h0.6M152.6,217.3h0.6M147.5,223.2h0.6M147.5,222.4h0.6M148.7,218.2h0.6M147.1,217.9h0.6M145.9,223.7h0.6M144.9,220.3h0.6M141.6,221.1h0.6M151.2,219.4h0.6M143.8,225.6h0.6M141.5,226.2h0.6M144.1,221.7h0.6M141.7,218.3h0.6M152.7,220.6h0.6M147.7,218.1h0.6M150.9,216.2h0.6M151.1,223.7h0.6M148.3,223.1h0.6M148.4,218.0h0.6M144.4,220.7h0.6M146.3,221.0h0.6M144.7,222.9h0.6M146.7,220.7h0.6M144.5,224.5h0.6M150.5,214.9h0.6M148.9,224.2h0.6M146.3,226.7h0.6M141.5,223.6h0.6M148.7,218.1h0.6M149.3,222.5h0.6M146.4,222.4h0.6M142.7,226.0h0.6M147.9,222.0h0.6M149.8,223.6h0.6M140.7,226.7h0.6M148.3,225.2h0.6M141.0,225.5h0.6M146.8,217.7h0.6M151.9,220.6h0.6M146.9,221.7h0.6M148.1,216.4h0.6M145.6,224.1h0.6M146.6,224.6h0.6M153.8,218.5h0.6M150.7,223.8h0.6M145.6,221.8h0.6M145.4,219.9h0.6M146.7,224.8h0.6M153.3,221.2h0.6M147.2,218.0h0.6M150.0,223.6h0.6M145.5,224.3h0.6M142.7,223.0h0.6M150.6,221.6h0.6M146.4,224.4h0.6M144.2,219.2h0.6M144.5,224.4h0.6M144.5,222.2h0.6M144.7,223.9h0.6M141.9,224.4h0.6M150.3,224.3h0.6M147.8,219.6h0.6M149.6,222.3h0.6M145.5,219.5h0.6M147.7,224.7h0.6M147.1,223.2h0.6M150.2,219.9h0.6M149.1,221.1h0.6M147.7,223.5h0.6M144.6,223.3h0.6M142.9,226.6h0.6M144.2,223.0h0.6M144.7,229.3h0.6M145.0,222.4h0.6M142.8,220.3h0.6M151.7,218.4h0.6M147.4,219.9h0.6M140.4,225.4h0.6M143.3,222.2h0.6M142.5,224.6h0.6M147.3,222.2h0.6M149.9,221.4h0.6M143.6,231.4h0.6M148.5,219.4h0.6M145.8,221.4h0.6M150.1,219.0h0.6M150.8,223.1h0.6M147.5,220.3h0.6M148.8,220.3h0.6M146.6,227.6h0.6M145.5,226.9h0.6M143.1,223.3h0.6M147.6,223.5h0.6M146.4,222.4h0.6M145.4,224.2h0.6M146.4,218.7h0.6M146.0,227.0h0.6M143.4,226.6h0.6M145.0,225.1h0.6M150.1,224.3h0.6M145.9,223.9h0.6M150.8,220.9h0.6M143.1,226.7h0.6M142.5,222.8h0.6M147.0,219.0h0.6M149.0,218.8h0.6M144.6,218.1h0.6M148.5,218.9h0.6M149.4,221.3h0.6M149.9,216.8h0.6M146.3,220.7h0.6M146.4,217.8h0.6M141.6,224.4h0.6M146.7,227.3h0.6M147.5,224.8h0.6M150.9,220.3h0.6M142.7,222.2h0.6M144.0,223.6h0.6M143.6,220.9h0.6M149.3,224.1h0.6M138.9,226.6h0.6M143.3,221.0h0.6M152.9,220.0h0.6M148.6,221.3h0.6M142.6,220.2h0.6M146.4,219.7h0.6M149.2,223.3h0.6M148.3,221.2h0.6M145.9,226.5h0.6M144.2,223.1h0.6M149.1,220.4h0.6M146.6,226.4h0.6M149.1,217.6h0.6M147.8,217.0h0.6M145.2,221.5h0.6M151.0,218.5h0.6M145.1,219.1h0.6M147.9,222.2h0.6M144.7,220.4h0.6M145.9,221.5h0.6M145.8,226.1h0.6M144.6,225.1h0.6M147.3,223.3h0.6M150.6,218.3h0.6M152.2,220.0h0.6M151.0,218.3h0.6M146.1,223.5h0.6M151.0,223.8h0.6M147.9,216.8h0.6M152.0,213.8h0.6M142.8,222.6h0.6M151.1,221.1h0.6M144.8,220.0h0.6M150.1,223.7h0.6M145.2,223.2h0.6M149.4,224.7h0.6M145.7,221.3h0.6M140.9,223.5h0.6M143.7,224.2h0.6M145.9,224.0h0.6M146.7,225.8h0.6M139.8,226.5h0.6M143.0,220.5h0.6M144.4,223.8h0.6M146.0,219.4h0.6M147.3,224.1h0.6M144.1,223.2h0.6M142.0,224.9h0.6M147.5,222.5h0.6M145.6,220.7h0.6M149.3,226.2h0.6M145.0,221.0h0.6M148.6,219.9h0.6M143.9,223.1h0.6M147.4,221.7h0.6M146.9,222.6h0.6M148.0,220.1h0.6M143.8,223.0h0.6M146.2,224.4h0.6M144.0,222.7h0.6M146.1,220.1h0.6M148.5,220.7h0.6M155.6,219.0h0.6M146.7,221.7h0.6M148.8,222.6h0.6M146.9,223.2h0.6M150.0,225.5h0.6M148.0,222.2h0.6M149.8,218.7h0.6M147.7,222.8h0.6M153.9,221.9h0.6M150.8,218.6h0.6M141.5,223.6h0.6M147.5,221.5h0.6M146.8,221.0h0.6M139.9,222.8h0.6M144.0,223.2h0.6M145.2,224.7h0.6M144.4,218.8h0.6M147.0,221.9h0.6M141.2,225.9h0.6M148.9,221.0h0.6M148.9,218.5h0.6M147.7,225.2h0.6M145.6,219.4h0.6M146.6,222.5h0.6M145.2,217.9h0.6M150.1,219.4h0.6M148.1,221.9h0.6M152.6,217.1h0.6M145.5,219.5h0.6M151.0,221.5h0.6M144.9,222.2h0.6M146.1,223.6h0.6M143.5,221.1h0.6M148.2,225.0h0.6M146.4,222.7h0.6M148.5,226.6h0.6M151.1,219.2h0.6M146.4,227.6h0.6M147.8,224.3h0.6M149.3,220.6h0.6M146.4,223.1h0.6M145.0,223.8h0.6M147.7,224.1h0.6M148.1,222.8h0.6M149.0,225.6h0.6M149.1,220.6h0.6M144.6,221.0h0.6M148.0,219.9h0.6M150.3,221.0h0.6M145.2,219.7h0.6M147.7,220.7h0.6M144.8,220.5h0.6M147.1,221.1h0.6M151.8,220.3h0.6M147.1,223.8h0.6M143.7,229.4h0.6M147.7,220.3h0.6M147.3,222.2h0.6M150.0,216.3h0.6M142.5,228.3h0.6M143.9,221.1h0.6M146.4,224.5h0.6M141.9,223.8h0.6M150.0,223.1h0.6M140.5,223.4h0.6M144.1,223.1h0.6M142.2,221.6h0.6M144.6,222.5h0.6M149.0,220.2h0.6M148.4,218.5h0.6M149.4,220.0h0.6M148.4,221.9h0.6M140.5,221.3h0.6M147.5,222.1h0.6M141.1,223.1h0.6M145.1,223.5h0.6M145.4,224.2h0.6M145.0,229.9h0.6M148.1,220.0h0.6M144.2,225.8h0.6M151.8,218.6h0.6M148.4,217.3h0.6M150.2,224.1h0.6M148.9,219.3h0.6M149.3,221.5h0.6M146.5,221.1h0.6M152.5,223.0h0.6M143.5,223.2h0.6M148.0,221.3h0.6M146.6,218.8h0.6M146.0,217.3h0.6M147.6,221.1h0.6M144.4,223.8h0.6M149.2,216.0h0.6M149.0,221.6h0.6M146.9,222.2h0.6M148.8,221.2h0.6M143.5,222.1h0.6M141.2,222.3h0.6M144.9,224.1h0.6M145.9,222.7h0.6M154.1,215.1h0.6M145.9,218.6h0.6M149.7,220.0h0.6M149.2,220.6h0.6M153.0,220.5h0.6M147.0,219.6h0.6M148.6,222.7h0.6M146.0,222.1h0.6M144.0,224.1h0.6M143.6,224.7h0.6M144.3,222.9h0.6M150.9,220.7h0.6M147.5,223.2h0.6M146.2,222.5h0.6M146.7,222.0h0.6M144.9,223.8h0.6M146.5,223.7h0.6M146.5,222.5h0.6M148.6,219.8h0.6M149.4,218.6h0.6M141.7,223.4h0.6M147.3,222.6h0.6M150.8,220.8h0.6M143.6,218.7h0.6M145.9,220.2h0.6M147.1,224.2h0.6M149.9,221.1h0.6M148.4,222.8h0.6M146.0,223.2h0.6M148.1,225.6h0.6M149.7,221.0h0.6M147.8,225.0h0.6M152.2,221.6h0.6M147.9,218.1h0.6M143.5,220.9h0.6M144.3,225.0h0.6M146.2,224.7h0.6M146.0,224.5h0.6M148.5,226.0h0.6M147.7,224.1h0.6M151.8,221.0h0.6M149.1,223.8h0.6M151.1,218.8h0.6M144.3,223.1h0.6M145.4,223.8h0.6M148.7,217.3h0.6M146.9,220.4h0.6M148.5,221.3h0.6M147.4,217.5h0.6M144.8,219.7h0.6M151.8,222.1h0.6M150.1,220.2h0.6M142.0,224.8h0.6M144.8,226.2h0.6M146.7,217.6h0.6M148.7,217.9h0.6M146.4,225.2h0.6M142.6,222.4h0.6M149.1,225.2h0.6M146.0,219.8h0.6M150.3,221.0h0.6M147.6,222.5h0.6M149.7,218.1h0.6M149.2,221.3h0.6M149.3,221.8h0.6M145.1,220.5h0.6M149.7,221.8h0.6M147.3,219.8h0.6M142.9,223.4h0.6M145.5,220.6h0.6M145.6,221.0h0.6M148.1,219.8h0.6M148.7,223.8h0.6M143.3,218.8h0.6M148.8,221.8h0.6M146.5,218.0h0.6M143.5,224.6h0.6M149.2,221.9h0.6M144.4,223.5h0.6M143.1,220.6h0.6M148.9,222.4h0.6M149.4,220.2h0.6M144.7,226.6h0.6M149.8,222.2h0.6M149.7,220.6h0.6M145.1,222.9h0.6M152.7,224.6h0.6M146.5,221.0h0.6M147.3,224.2h0.6M139.5,219.9h0.6M148.6,221.9h0.6M144.8,217.3h0.6M148.0,220.1h0.6M141.6,222.8h0.6M150.1,222.1h0.6M151.0,220.9h0.6M152.3,219.1h0.6M137.8,229.8h0.6M148.4,219.1h0.6M147.7,224.6h0.6M137.6,225.8h0.6M144.5,229.4h0.6M146.4,221.1h0.6M151.0,218.9h0.6M144.2,222.3h0.6M147.3,221.1h0.6M146.5,223.1h0.6M147.8,221.4h0.6M145.5,219.6h0.6M149.4,222.2h0.6M149.6,219.9h0.6M142.6,221.8h0.6M150.1,221.5h0.6M144.5,222.3h0.6M145.9,221.9h0.6M150.1,222.2h0.6M147.0,216.1h0.6M148.4,222.6h0.6M149.1,217.2h0.6M148.5,218.9h0.6M145.1,227.6h0.6M143.9,222.5h0.6M148.8,218.9h0.6M149.0,219.4h0.6M147.8,223.9h0.6M146.2,221.7h0.6M149.3,224.1h0.6M146.7,224.6h0.6M142.6,224.1h0.6M147.6,221.4h0.6M148.3,217.7h0.6M149.1,220.4h0.6M144.1,220.5h0.6M144.5,225.8h0.6M147.7,224.6h0.6M145.4,223.7h0.6M146.6,217.9h0.6M149.6,224.4h0.6M147.9,225.5h0.6M152.2,220.4h0.6M147.6,218.9h0.6M151.9,224.3h0.6M150.0,221.6h0.6M154.4,222.8h0.6M146.8,218.6h0.6M146.5,220.5h0.6M150.7,220.1h0.6M145.3,222.7h0.6M145.4,223.1h0.6M147.5,221.5h0.6M147.9,223.3h0.6M142.6,225.7h0.6M147.6,224.5h0.6M145.9,222.4h0.6M146.7,224.0h0.6M147.4,219.8h0.6M146.3,227.4h0.6M150.0,219.6h0.6M148.3,220.3h0.6M146.3,219.3h0.6M147.1,222.6h0.6M150.0,224.7h0.6M149.2,223.5h0.6M150.6,218.0h0.6M146.5,223.0h0.6M147.3,222.9h0.6M152.9,221.4h0.6M146.8,222.3h0.6M151.9,220.9h0.6M149.4,225.0h0.6M145.6,224.0h0.6M142.7,221.1h0.6M148.8,217.9h0.6M144.8,223.1h0.6M144.8,224.0h0.6M141.7,220.5h0.6M150.4,221.3h0.6M147.2,224.8h0.6M147.0,222.4h0.6M148.1,220.0h0.6M147.6,218.0h0.6M147.2,223.2h0.6M148.4,220.2h0.6M146.1,223.2h0.6M139.2,221.9h0.6M149.1,220.7h0.6M148.2,221.0h0.6M147.0,224.4h0.6M151.6,221.2h0.6M142.8,224.3h0.6M138.3,233.8h0.6M151.3,218.5h0.6M148.1,221.7h0.6M142.0,224.2h0.6M145.7,223.4h0.6M148.8,221.4h0.6M143.3,222.7h0.6M148.6,224.7h0.6M153.2,219.6h0.6M151.1,220.4h0.6M146.8,222.0h0.6M147.9,225.4h0.6M144.1,223.4h0.6M147.3,225.1h0.6M145.9,221.6h0.6M144.0,219.9h0.6M142.9,221.3h0.6M152.7,220.9h0.6M147.2,223.3h0.6M143.9,224.5h0.6M145.7,221.7h0.6M151.3,222.2h0.6M151.7,221.7h0.6M145.1,228.8h0.6M147.5,223.9h0.6M149.6,223.1h0.6M145.9,223.7h0.6M143.4,220.3h0.6M144.0,226.4h0.6M146.9,225.3h0.6M144.6,221.4h0.6M143.1,225.8h0.6M146.2,222.7h0.6M149.7,220.7h0.6M148.9,221.3h0.6M146.2,224.2h0.6M152.6,217.9h0.6M144.6,219.2h0.6M146.7,224.6h0.6M142.8,224.1h0.6M149.2,219.0h0.6M146.5,222.7h0.6M141.9,226.2h0.6M144.4,224.0h0.6M152.3,218.2h0.6M149.1,223.8h0.6M147.2,221.4h0.6M149.5,220.3h0.6M142.1,225.3h0.6M144.4,221.6h0.6M142.9,221.8h0.6M144.4,220.5h0.6M145.8,220.2h0.6M148.5,225.2h0.6M149.9,218.9h0.6M149.8,219.7h0.6M154.9,217.0h0.6M145.4,224.7h0.6M146.8,219.9h0.6M148.4,220.7h0.6M144.4,225.7h0.6M146.0,219.3h0.6M148.1,223.6h0.6M144.3,225.4h0.6M148.3,220.6h0.6M150.5,222.3h0.6M143.6,222.3h0.6M140.1,225.0h0.6M147.1,221.3h0.6M143.8,221.2h0.6M147.4,222.0h0.6M145.5,220.4h0.6M147.8,219.7h0.6M150.2,223.0h0.6M149.3,219.2h0.6M145.8,221.0h0.6M143.4,223.0h0.6M139.5,221.9h0.6M140.4,220.3h0.6M144.5,221.1h0.6M147.1,225.5h0.6M144.8,221.7h0.6M145.1,223.0h0.6M142.1,224.4h0.6M141.9,222.9h0.6M141.7,224.6h0.6M148.7,217.5h0.6M140.9,223.5h0.6M148.8,221.4h0.6M144.1,221.1h0.6M148.4,219.6h0.6M147.5,219.0h0.6M149.0,219.8h0.6M150.3,221.0h0.6M144.4,222.6h0.6M143.8,228.3h0.6M145.4,226.1h0.6M144.4,220.4h0.6M148.7,222.3h0.6M146.3,217.9h0.6M146.7,217.8h0.6M147.9,224.7h0.6M145.2,221.9h0.6M149.9,214.0h0.6M141.2,225.9h0.6M147.3,221.0h0.6M148.1,222.2h0.6M144.3,223.5h0.6M144.6,223.5h0.6M149.3,221.3h0.6M145.7,220.6h0.6M140.9,226.1h0.6M142.6,222.3h0.6M149.6,222.8h0.6M144.0,221.8h0.6M150.5,220.1h0.6M150.7,222.6h0.6M146.0,222.0h0.6M148.2,223.4h0.6M144.1,225.0h0.6M145.4,219.7h0.6M144.5,227.3h0.6M148.4,220.2h0.6M142.8,221.8h0.6M146.2,223.7h0.6M146.7,219.5h0.6M148.1,219.4h0.6M140.3,227.5h0.6M141.3,222.7h0.6M144.0,221.9h0.6M145.9,224.2h0.6M147.0,220.6h0.6M147.2,220.1h0.6M152.6,221.9h0.6M148.5,226.3h0.6M148.3,220.6h0.6M145.1,224.5h0.6M148.9,225.5h0.6M148.6,222.4h0.6M148.6,227.3h0.6M146.2,223.1h0.6M148.4,217.9h0.6M151.1,227.5h0.6M144.2,221.9h0.6M140.1,226.6h0.6M149.0,222.3h0.6M148.8,223.6h0.6M145.9,220.9h0.6M145.2,222.6h0.6M154.8,221.3h0.6M145.2,225.8h0.6M142.9,224.4h0.6M145.1,219.9h0.6M148.1,224.6h0.6M144.7,221.8h0.6M145.4,221.7h0.6M147.5,226.7h0.6M145.3,219.9h0.6M146.9,222.1h0.6M146.4,216.8h0.6M143.4,219.0h0.6M146.8,222.7h0.6M143.1,223.7h0.6M149.3,223.7h0.6M143.8,226.5h0.6M145.8,220.5h0.6M141.1,224.6h0.6M145.2,223.6h0.6M142.8,223.9h0.6M151.0,219.0h0.6M146.2,220.0h0.6M148.1,221.6h0.6M141.3,224.4h0.6M142.9,223.2h0.6M146.0,217.3h0.6M142.5,228.6h0.6M149.9,223.8h0.6M145.3,221.4h0.6M147.0,221.7h0.6M147.4,218.9h0.6M146.1,219.1h0.6M148.8,216.6h0.6M144.5,224.8h0.6M147.6,220.3h0.6M150.1,221.5h0.6M147.2,219.6h0.6M146.9,221.6h0.6M145.5,220.3h0.6M146.7,223.9h0.6M148.5,221.1h0.6M145.8,223.7h0.6M141.5,224.5h0.6M147.0,223.1h0.6M146.1,224.8h0.6M147.9,219.0h0.6M146.6,221.4h0.6M151.2,217.9h0.6M143.0,225.8h0.6M143.7,227.9h0.6M148.5,223.1h0.6M143.5,223.6h0.6M147.5,219.9h0.6M146.5,219.6h0.6M140.7,221.2h0.6M148.5,217.7h0.6M150.6,219.0h0.6M147.1,221.7h0.6M142.4,225.5h0.6M148.8,219.7h0.6M143.4,224.4h0.6M146.2,224.3h0.6M147.7,220.3h0.6M144.2,222.4h0.6M141.5,221.8h0.6M146.1,224.1h0.6M146.4,219.3h0.6M144.0,222.1h0.6M144.2,223.4h0.6M148.7,223.3h0.6M146.2,224.9h0.6M145.1,226.0h0.6M144.8,219.3h0.6M147.0,225.5h0.6M146.8,220.5h0.6M146.0,222.9h0.6M142.4,225.0h0.6" stroke="#000" stroke-width="0.6" opacity="0.55" fill="none"/>
<path d="M144.4,228.9h0.6M146.3,216.2h0.6M151.2,215.2h0.6M149.5,223.8h0.6M146.7,214.0h0.6M140.0,223.7h0.6M138.0,227.7h0.6M155.9,221.4h0.6M141.8,231.2h0.6M139.0,225.6h0.6M152.2,227.4h0.6M139.4,219.3h0.6M150.4,219.8h0.6M151.3,226.8h0.6M147.9,219.4h0.6M151.5,228.1h0.6M139.9,223.3h0.6M140.7,221.7h0.6M145.8,222.1h0.6M146.7,226.9h0.6M146.3,222.7h0.6M149.0,222.3h0.6M143.1,222.9h0.6M136.3,218.7h0.6M148.7,214.5h0.6M145.6,215.8h0.6M150.7,223.8h0.6M156.9,222.6h0.6M147.1,222.0h0.6M149.6,219.6h0.6M142.3,232.0h0.6M151.2,223.6h0.6M148.4,214.2h0.6M147.9,227.0h0.6M151.2,224.1h0.6M141.2,226.6h0.6M149.5,219.4h0.6M149.0,221.8h0.6M154.5,221.5h0.6M137.8,230.9h0.6M146.3,219.7h0.6M157.5,219.3h0.6M144.7,225.5h0.6M144.6,222.6h0.6M155.5,216.5h0.6M159.0,225.1h0.6M147.3,228.5h0.6M143.2,227.4h0.6M143.8,226.6h0.6M144.8,235.5h0.6M142.6,225.8h0.6M142.7,218.5h0.6M147.6,223.3h0.6M146.9,217.8h0.6M149.0,233.6h0.6M146.8,222.6h0.6M140.8,217.9h0.6M150.3,214.6h0.6M147.9,224.0h0.6M143.8,226.4h0.6M145.4,220.9h0.6M148.3,226.9h0.6M147.1,223.6h0.6M146.1,229.4h0.6M150.5,220.8h0.6M151.9,220.8h0.6M145.2,215.7h0.6M146.6,220.7h0.6M141.3,226.4h0.6M145.9,222.8h0.6M149.0,227.0h0.6M150.9,220.9h0.6M147.5,222.9h0.6M146.3,220.5h0.6M143.2,219.2h0.6M147.8,230.3h0.6M141.3,222.2h0.6M147.3,218.9h0.6M146.8,227.2h0.6M142.2,215.4h0.6M148.3,224.8h0.6M145.6,212.1h0.6M149.6,218.1h0.6M144.3,218.7h0.6M149.1,220.4h0.6M154.4,215.9h0.6M147.6,226.3h0.6M150.6,224.5h0.6M143.5,231.3h0.6M145.0,220.4h0.6M137.4,227.6h0.6M145.9,219.2h0.6M141.2,221.1h0.6M147.2,227.7h0.6M136.6,221.9h0.6M142.5,222.2h0.6M147.1,221.2h0.6M148.6,219.7h0.6M138.6,224.4h0.6M144.7,222.7h0.6M159.2,214.4h0.6M150.5,225.3h0.6M147.5,227.0h0.6M133.2,228.9h0.6M142.2,219.0h0.6M149.2,222.9h0.6M147.8,213.8h0.6M148.9,234.6h0.6M151.4,223.9h0.6M147.2,223.9h0.6M150.8,219.9h0.6M137.9,218.9h0.6M158.9,219.7h0.6M145.2,226.8h0.6M143.5,219.5h0.6M154.0,213.7h0.6M149.6,232.2h0.6M151.4,218.5h0.6M143.6,221.7h0.6M148.0,225.3h0.6M150.1,223.3h0.6M141.1,222.4h0.6M145.6,222.3h0.6M145.5,223.5h0.6M145.2,227.5h0.6M143.2,221.9h0.6M140.5,226.6h0.6M148.8,221.3h0.6M147.9,224.3h0.6M152.3,219.9h0.6M146.3,219.1h0.6M143.4,222.1h0.6M139.6,221.3h0.6M147.1,227.9h0.6M145.1,220.6h0.6M156.5,218.4h0.6M157.9,221.9h0.6M154.4,220.8h0.6M142.2,235.1h0.6M139.8,223.7h0.6M145.5,224.2h0.6M142.3,232.9h0.6M153.6,218.2h0.6M147.2,224.7h0.6M144.7,221.6h0.6M146.6,223.2h0.6M152.8,218.5h0.6M142.0,223.1h0.6M149.0,222.8h0.6M140.2,221.8h0.6M145.6,219.0h0.6M143.4,232.6h0.6M148.2,221.7h0.6M147.4,224.5h0.6M152.5,225.3h0.6M150.0,215.8h0.6M143.7,219.0h0.6M140.2,228.3h0.6M142.7,228.0h0.6M144.6,219.3h0.6M145.5,225.1h0.6M142.9,224.6h0.6M151.9,229.1h0.6M151.2,221.6h0.6M145.3,217.8h0.6M144.2,224.8h0.6M145.5,223.0h0.6M146.4,214.9h0.6M146.5,218.6h0.6M138.7,218.3h0.6M144.5,220.1h0.6M137.5,219.6h0.6M146.8,229.2h0.6M149.9,224.8h0.6M141.4,230.5h0.6M147.4,212.7h0.6M143.6,222.2h0.6M143.2,223.6h0.6M156.2,222.9h0.6M151.0,225.3h0.6M149.0,233.4h0.6M144.5,213.4h0.6M148.6,222.0h0.6M145.7,222.2h0.6M148.9,227.5h0.6M142.2,223.6h0.6M146.3,220.7h0.6M144.7,223.1h0.6M139.7,221.5h0.6M154.9,223.6h0.6M150.6,219.8h0.6M142.8,219.5h0.6M139.4,221.8h0.6M143.1,221.6h0.6M142.5,223.7h0.6M143.6,227.2h0.6M139.2,221.9h0.6M142.6,224.9h0.6M146.9,226.1h0.6M148.6,218.5h0.6M136.9,231.5h0.6M146.6,224.6h0.6M141.8,220.3h0.6M141.5,219.6h0.6M145.1,224.2h0.6M143.3,222.8h0.6M150.0,219.0h0.6M150.1,221.6h0.6M145.1,225.9h0.6M143.5,221.2h0.6M155.4,219.2h0.6M155.8,219.4h0.6M148.5,217.0h0.6M145.9,221.1h0.6M151.6,222.8h0.6M153.7,219.7h0.6M144.0,214.8h0.6M155.5,222.9h0.6M145.8,223.5h0.6M152.0,224.2h0.6M144.1,221.4h0.6M146.9,227.4h0.6M144.4,220.9h0.6M146.7,219.0h0.6M151.6,224.2h0.6M142.2,227.0h0.6M145.1,228.9h0.6M149.3,221.3h0.6M144.3,227.5h0.6M156.6,222.2h0.6M139.4,225.9h0.6M159.1,221.8h0.6M143.4,219.6h0.6M151.4,214.3h0.6M154.6,229.1h0.6M149.2,224.9h0.6M139.7,223.0h0.6M145.0,227.1h0.6M147.0,224.4h0.6M149.4,220.6h0.6M151.5,215.1h0.6M152.2,215.8h0.6M153.9,221.5h0.6M141.9,222.9h0.6M151.5,222.5h0.6M138.0,225.2h0.6M147.3,227.0h0.6M141.3,231.1h0.6M137.8,226.1h0.6M151.2,216.9h0.6M146.5,219.1h0.6M151.5,228.8h0.6M138.8,225.1h0.6M140.6,226.5h0.6M146.1,221.1h0.6M143.3,227.7h0.6M147.0,218.3h0.6M143.5,223.9h0.6M144.9,220.2h0.6M140.9,220.0h0.6M153.0,228.7h0.6M145.0,223.6h0.6M140.8,217.4h0.6M150.0,221.2h0.6M149.0,217.2h0.6M147.7,220.2h0.6M147.7,224.0h0.6M144.7,221.6h0.6M146.0,218.0h0.6M135.6,219.7h0.6M138.9,218.2h0.6M140.5,228.5h0.6M148.0,218.4h0.6M152.7,226.4h0.6M145.8,223.0h0.6M145.3,223.4h0.6M152.2,218.1h0.6M144.8,221.4h0.6M149.9,216.1h0.6M148.7,224.2h0.6M140.0,220.4h0.6M148.2,220.2h0.6M147.6,221.9h0.6M140.9,228.8h0.6M141.5,221.2h0.6M140.3,222.6h0.6M153.4,217.1h0.6M157.1,219.6h0.6M150.1,222.4h0.6M154.4,218.5h0.6M139.9,222.0h0.6M153.6,217.5h0.6M156.4,211.7h0.6M154.6,222.7h0.6M141.9,215.0h0.6M152.0,233.2h0.6M146.0,218.3h0.6M152.0,224.2h0.6M143.4,214.7h0.6M146.7,225.9h0.6M143.8,218.5h0.6M149.0,225.7h0.6M146.1,227.1h0.6M152.1,217.4h0.6M150.7,217.5h0.6M148.7,224.6h0.6M146.4,212.2h0.6M145.1,223.9h0.6M146.6,215.7h0.6M150.3,225.5h0.6M147.3,226.1h0.6M148.1,221.4h0.6M146.4,226.5h0.6M146.2,220.4h0.6M143.3,232.1h0.6M137.3,223.9h0.6M149.5,223.8h0.6M149.4,225.5h0.6M141.8,222.6h0.6M156.1,220.6h0.6M140.8,225.6h0.6M151.6,217.5h0.6M147.9,220.6h0.6M148.2,220.2h0.6M152.3,215.1h0.6M151.2,221.3h0.6M146.7,218.7h0.6M141.3,225.3h0.6M140.5,221.3h0.6M147.6,219.8h0.6M154.5,222.4h0.6M151.0,227.4h0.6M146.5,227.6h0.6M148.3,225.7h0.6M150.0,219.0h0.6M155.2,220.5h0.6M142.8,224.5h0.6M150.2,219.3h0.6M148.0,218.8h0.6M142.8,217.4h0.6M141.6,226.0h0.6M152.9,218.2h0.6M148.3,218.8h0.6M145.6,226.5h0.6M147.1,221.6h0.6M151.5,224.7h0.6M147.1,223.0h0.6M154.6,218.3h0.6M145.3,229.7h0.6M142.7,226.9h0.6M146.1,225.7h0.6M141.9,223.1h0.6M144.9,225.7h0.6M152.7,219.0h0.6M155.1,223.5h0.6M149.8,223.5h0.6M147.6,219.4h0.6M142.1,222.1h0.6M141.6,222.9h0.6M148.5,221.9h0.6M147.5,217.8h0.6M143.7,217.2h0.6M144.4,224.3h0.6M154.4,223.2h0.6M151.6,225.2h0.6M146.9,214.9h0.6M147.8,225.6h0.6M153.0,226.0h0.6M148.4,220.6h0.6M147.8,217.5h0.6M138.8,229.4h0.6M138.2,224.9h0.6M137.1,230.7h0.6M135.4,228.1h0.6M146.6,215.4h0.6M148.3,221.1h0.6M142.3,224.4h0.6M148.8,221.3h0.6M148.8,220.4h0.6M146.2,222.7h0.6" stroke="#000" stroke-width="0.6" opacity="0.4" fill="none"/>
<path d="M143.2,204.2h0.6M143.2,193.6h0.6M157.8,198.0h0.6M145.1,203.9h0.6M154.1,212.0h0.6M145.3,201.5h0.6M154.5,197.2h0.6M151.8,214.1h0.6M147.6,186.6h0.6M157.8,211.6h0.6M144.3,196.6h0.6M147.5,207.6h0.6M144.7,204.7h0.6M145.0,214.8h0.6M146.9,211.7h0.6M144.2,199.1h0.6M147.1,207.7h0.6M155.8,206.1h0.6M140.6,198.4h0.6M142.9,199.5h0.6M144.2,204.8h0.6M146.5,203.3h0.6M153.2,185.0h0.6M151.9,205.7h0.6M150.8,200.1h0.6M149.5,200.2h0.6M159.5,216.1h0.6M143.3,205.6h0.6M148.5,195.8h0.6M149.5,202.5h0.6M147.5,211.1h0.6M144.8,213.4h0.6M142.6,198.5h0.6M147.3,208.7h0.6M146.4,198.5h0.6M143.7,204.3h0.6M154.7,198.8h0.6M150.7,193.2h0.6M157.1,187.8h0.6M146.2,199.9h0.6M148.9,206.8h0.6M148.7,201.8h0.6M147.4,207.1h0.6M147.8,191.2h0.6M139.6,194.6h0.6M147.4,200.4h0.6M151.8,189.3h0.6M139.7,209.0h0.6M147.0,206.1h0.6M151.2,213.2h0.6M154.4,206.3h0.6M148.2,202.9h0.6M150.7,193.0h0.6M156.6,210.0h0.6M154.5,194.4h0.6M146.5,180.7h0.6M153.3,206.2h0.6M149.6,204.5h0.6M146.1,195.2h0.6M147.5,184.2h0.6M150.0,191.3h0.6M147.7,205.8h0.6M147.4,214.6h0.6M147.5,206.0h0.6M141.8,207.9h0.6M156.5,199.6h0.6M154.2,212.6h0.6M155.5,186.2h0.6M148.0,213.0h0.6M149.2,197.6h0.6M151.2,201.8h0.6M152.3,215.5h0.6M140.2,207.4h0.6M150.2,204.3h0.6M144.0,208.7h0.6M148.3,196.5h0.6M145.6,211.2h0.6M151.1,192.1h0.6M148.5,214.9h0.6M148.3,191.7h0.6M145.3,203.6h0.6M147.7,204.5h0.6M146.9,216.1h0.6M148.1,177.7h0.6M148.3,188.0h0.6M153.2,209.4h0.6M149.9,184.5h0.6M149.2,197.4h0.6M142.7,199.7h0.6M143.5,216.2h0.6M141.0,212.7h0.6M153.8,214.5h0.6M150.5,204.0h0.6M146.4,191.8h0.6M144.1,196.0h0.6M150.2,200.0h0.6M148.0,193.3h0.6M144.7,184.8h0.6M143.5,207.5h0.6M155.8,216.7h0.6M144.3,210.8h0.6M148.5,212.2h0.6M154.7,201.9h0.6M140.2,204.8h0.6M148.9,191.4h0.6M147.9,186.7h0.6M149.8,215.9h0.6M143.2,191.2h0.6M138.5,195.2h0.6M157.2,191.1h0.6M147.3,188.0h0.6M153.6,195.5h0.6M149.9,215.6h0.6M150.7,178.8h0.6M151.8,214.5h0.6M155.8,215.8h0.6M150.8,192.2h0.6M154.3,196.4h0.6M147.3,205.3h0.6M146.7,204.4h0.6M149.0,198.4h0.6M150.4,185.8h0.6M151.0,212.0h0.6M157.5,208.0h0.6M152.4,210.0h0.6M148.9,205.9h0.6M157.7,201.8h0.6M150.2,201.3h0.6M150.8,218.1h0.6M147.1,209.1h0.6M143.6,209.7h0.6M149.2,207.6h0.6M147.2,189.6h0.6M144.7,188.8h0.6M149.2,193.3h0.6M147.7,188.3h0.6M145.9,209.2h0.6M140.5,192.8h0.6M147.8,206.0h0.6M156.6,199.8h0.6M152.7,200.8h0.6M153.5,217.9h0.6M148.5,211.8h0.6M153.4,205.2h0.6M145.5,202.3h0.6M146.5,207.3h0.6M151.0,213.6h0.6M148.9,205.0h0.6M150.0,217.5h0.6M156.3,215.2h0.6M145.4,207.4h0.6M150.5,202.6h0.6M145.6,215.3h0.6M136.3,206.5h0.6M144.3,197.8h0.6M153.8,207.7h0.6M151.0,208.4h0.6M159.8,191.4h0.6M151.1,216.2h0.6M143.0,199.4h0.6M147.7,211.9h0.6M148.4,206.8h0.6M155.9,204.6h0.6M144.9,205.3h0.6M149.0,213.9h0.6M139.5,211.0h0.6M149.1,190.1h0.6M146.9,207.4h0.6M156.4,197.0h0.6M150.5,203.2h0.6M148.9,200.8h0.6M149.3,213.1h0.6M153.4,207.9h0.6M146.6,197.8h0.6M146.7,205.0h0.6M143.9,189.5h0.6M147.8,204.4h0.6M145.4,204.2h0.6M153.1,201.4h0.6M148.1,199.1h0.6M146.2,218.2h0.6M135.5,214.0h0.6M145.9,180.7h0.6M150.0,218.1h0.6M151.6,202.8h0.6M134.6,207.0h0.6M137.7,207.7h0.6M149.3,204.9h0.6M143.9,212.9h0.6M147.6,183.9h0.6M151.3,215.4h0.6M140.2,192.1h0.6M146.0,200.2h0.6M152.9,212.0h0.6M149.6,214.6h0.6M144.9,209.3h0.6M149.9,199.4h0.6M144.6,217.9h0.6M151.8,201.5h0.6M151.7,210.9h0.6M148.0,189.1h0.6M152.9,200.5h0.6M143.3,193.4h0.6M152.1,202.2h0.6M147.7,183.3h0.6M144.4,202.2h0.6M145.9,203.1h0.6M153.9,214.4h0.6M146.1,210.7h0.6M147.0,201.5h0.6M145.6,211.7h0.6M145.0,179.4h0.6M153.0,203.7h0.6M158.7,209.9h0.6M154.7,192.3h0.6M150.9,210.1h0.6M152.1,199.5h0.6M147.1,206.8h0.6M146.4,213.8h0.6M143.3,192.0h0.6M155.2,201.8h0.6M147.1,193.9h0.6M145.4,210.0h0.6M146.1,211.7h0.6M148.7,207.2h0.6M149.4,204.3h0.6M154.7,197.4h0.6M150.0,202.2h0.6M146.7,213.3h0.6M151.5,190.3h0.6M146.9,209.8h0.6M150.9,184.9h0.6M148.5,189.8h0.6M153.7,193.7h0.6M146.4,190.0h0.6M150.9,207.1h0.6M147.7,206.9h0.6M148.7,214.5h0.6M147.9,199.1h0.6M149.1,210.5h0.6M153.1,198.6h0.6M145.9,211.7h0.6M146.9,202.0h0.6M150.3,184.7h0.6M145.2,217.1h0.6M152.6,188.5h0.6M151.8,211.5h0.6M145.7,203.8h0.6M143.7,195.8h0.6M152.4,211.6h0.6M152.9,211.6h0.6M143.2,211.9h0.6M145.5,214.1h0.6M148.3,203.3h0.6M147.0,213.5h0.6M151.9,206.8h0.6M153.1,199.7h0.6M151.3,208.8h0.6M153.6,190.9h0.6M152.9,211.0h0.6M148.3,213.7h0.6M146.7,183.7h0.6M145.3,190.0h0.6M152.4,203.1h0.6M152.7,194.7h0.6M153.3,199.8h0.6M147.2,211.3h0.6M146.9,198.5h0.6" stroke="#000" stroke-width="0.6" opacity="0.4" fill="none"/>
<path d="M164.9,218.6h0.6M175.7,224.7h0.6M170.5,227.6h0.6M163.4,216.2h0.6M154.0,223.2h0.6M156.9,224.9h0.6M157.1,223.0h0.6M155.3,225.0h0.6M170.2,225.8h0.6M157.5,217.9h0.6M155.3,216.5h0.6M165.9,223.2h0.6M161.0,222.4h0.6M162.1,222.3h0.6M167.9,219.3h0.6M151.7,215.1h0.6M171.6,218.3h0.6M163.9,220.5h0.6M157.4,216.4h0.6M177.9,223.4h0.6M157.3,226.0h0.6M172.9,218.4h0.6M162.8,220.5h0.6M161.6,220.7h0.6M172.6,217.4h0.6M166.4,222.2h0.6M161.5,221.6h0.6M160.3,219.8h0.6M163.9,218.7h0.6M162.5,217.6h0.6M158.0,220.8h0.6M160.4,216.8h0.6M158.9,226.9h0.6M175.0,220.9h0.6M166.5,211.9h0.6M174.2,221.9h0.6M180.7,226.2h0.6M160.4,215.4h0.6M152.4,223.5h0.6M170.6,221.4h0.6M155.1,222.0h0.6M158.8,218.6h0.6M177.4,217.8h0.6M167.7,221.4h0.6M173.7,216.8h0.6M162.0,218.7h0.6M173.9,223.0h0.6M163.8,223.5h0.6M166.1,222.6h0.6M179.2,224.6h0.6M153.8,225.6h0.6M160.1,219.2h0.6M180.1,221.5h0.6M166.7,221.5h0.6M156.7,213.7h0.6M162.1,224.9h0.6M152.6,222.4h0.6M176.6,220.1h0.6M165.6,221.2h0.6M167.6,219.2h0.6M160.6,224.5h0.6M158.6,217.3h0.6M158.7,225.4h0.6M172.9,221.3h0.6M166.6,219.8h0.6M163.4,220.1h0.6M167.5,211.9h0.6M161.3,223.3h0.6M177.4,216.8h0.6M159.6,219.8h0.6M171.2,226.2h0.6M167.9,218.4h0.6M159.3,229.9h0.6M161.1,221.8h0.6M163.5,216.5h0.6M157.0,219.5h0.6M174.3,222.0h0.6M168.5,221.8h0.6M160.3,222.8h0.6M176.7,220.9h0.6M156.4,221.4h0.6M175.8,222.4h0.6M167.1,218.8h0.6M157.3,223.3h0.6M160.0,220.6h0.6M161.2,223.9h0.6M170.5,216.5h0.6M171.5,220.6h0.6M160.4,222.4h0.6M173.5,221.0h0.6M159.7,226.9h0.6M166.7,221.7h0.6M169.5,215.0h0.6M152.8,219.7h0.6M180.3,216.4h0.6M162.5,223.6h0.6M164.2,226.4h0.6M156.9,223.9h0.6M169.5,216.1h0.6M172.8,224.4h0.6M155.6,224.2h0.6M168.1,217.0h0.6M156.9,222.3h0.6M158.1,220.0h0.6M168.4,220.7h0.6M167.8,222.1h0.6M173.6,219.9h0.6M154.3,224.0h0.6M158.4,221.5h0.6M162.5,218.8h0.6M168.5,224.8h0.6M160.4,222.0h0.6M151.2,225.6h0.6M174.7,218.6h0.6M173.5,217.4h0.6M154.4,217.7h0.6M178.0,217.0h0.6M161.0,218.7h0.6M166.7,223.8h0.6M175.7,217.4h0.6M156.4,224.6h0.6M153.2,213.1h0.6M165.1,219.0h0.6M166.7,225.5h0.6M171.3,217.0h0.6M168.4,216.8h0.6M162.9,226.8h0.6M174.4,222.8h0.6M166.1,223.4h0.6M167.4,216.1h0.6M160.4,213.5h0.6M180.8,224.4h0.6M166.6,217.3h0.6M176.6,221.6h0.6M171.7,216.0h0.6M159.8,230.0h0.6M174.0,216.4h0.6M162.0,223.9h0.6M160.5,217.0h0.6M160.1,217.2h0.6M159.2,219.2h0.6M164.1,222.6h0.6M157.1,224.1h0.6M168.1,221.6h0.6M160.9,217.1h0.6M156.2,223.8h0.6M159.0,222.1h0.6M171.9,218.9h0.6M160.0,222.8h0.6M155.3,219.8h0.6M164.8,225.2h0.6M157.2,224.1h0.6M171.3,216.5h0.6M177.7,224.7h0.6M160.0,219.1h0.6M174.9,216.5h0.6M164.1,219.5h0.6M163.9,226.2h0.6M155.0,220.9h0.6M164.5,219.5h0.6M164.4,224.7h0.6M163.1,218.1h0.6M155.5,225.2h0.6M153.0,219.9h0.6M157.5,227.4h0.6M166.3,215.3h0.6M160.4,219.1h0.6M163.6,219.2h0.6M175.8,225.8h0.6M158.3,221.8h0.6M165.1,220.1h0.6M171.0,223.6h0.6M167.5,215.1h0.6M166.1,228.4h0.6M162.7,218.7h0.6M161.0,226.9h0.6M157.6,226.0h0.6M168.4,219.0h0.6M179.9,223.2h0.6M177.5,223.2h0.6M162.2,224.5h0.6M171.1,226.3h0.6M167.4,224.3h0.6M162.7,224.8h0.6M169.1,222.2h0.6M168.7,222.5h0.6M163.4,229.9h0.6M180.9,223.0h0.6M157.7,217.1h0.6M177.3,222.6h0.6M164.9,223.8h0.6M159.9,221.7h0.6M161.3,222.0h0.6M171.1,218.8h0.6M168.7,217.6h0.6M161.2,219.1h0.6M165.6,222.8h0.6M172.5,223.1h0.6M174.4,222.2h0.6M164.1,216.9h0.6M154.2,228.7h0.6M158.1,221.3h0.6M160.8,223.3h0.6M160.4,222.4h0.6M155.3,218.4h0.6M159.6,218.7h0.6M171.5,215.2h0.6M151.8,224.2h0.6M159.6,228.4h0.6M166.9,223.4h0.6M161.6,222.3h0.6M171.4,222.8h0.6M179.0,216.6h0.6M158.0,213.5h0.6M164.2,220.1h0.6M158.0,218.0h0.6" stroke="#000" stroke-width="0.6" opacity="0.4" fill="none"/>
<path d="M153.9,213.5h0.6M160.1,202.2h0.6M167.2,211.9h0.6M163.0,202.3h0.6M162.2,195.0h0.6M166.5,203.4h0.6M165.3,209.7h0.6M154.4,204.9h0.6M167.1,213.6h0.6M161.6,212.0h0.6M167.3,201.5h0.6M165.4,208.9h0.6M159.2,203.6h0.6M156.0,208.5h0.6M162.1,211.1h0.6M174.5,187.6h0.6M173.9,203.9h0.6M162.1,211.5h0.6M160.0,199.1h0.6M170.5,209.0h0.6M168.3,192.2h0.6M162.5,212.6h0.6M158.9,197.5h0.6M165.4,206.9h0.6M154.3,209.9h0.6M158.6,207.3h0.6M166.8,205.1h0.6M158.5,183.0h0.6M165.1,213.9h0.6M157.2,211.4h0.6M158.4,202.0h0.6M164.7,209.2h0.6M166.7,208.2h0.6" stroke="#000" stroke-width="0.6" opacity="0.4" fill="none"/>
<rect x="127.9" y="160.4" width="81.0" height="80.4" fill="none" stroke="#828282" stroke-width="1.9"/>
<path d="M153.6,160.4V240.8M127.9,214.4H208.9" stroke="#707070" stroke-width="1.6" fill="none"/>
<text x="132.5" y="168.0" font-size="6.6" font-weight="normal" fill="#000" stroke="#000" stroke-width="0.3">10.0</text>
<text x="208.3" y="168.0" font-size="6.6" font-weight="normal" text-anchor="end" fill="#000" stroke="#000" stroke-width="0.3">1.2</text>
<text x="208.3" y="237.10000000000002" font-size="6.6" font-weight="normal" text-anchor="end" fill="#000" stroke="#000" stroke-width="0.3">7.7</text>
<text x="139.8" y="156.0" font-size="9.3" font-weight="bold" textLength="55.0" lengthAdjust="spacingAndGlyphs" fill="#000" stroke="#000" stroke-width="0.4">CD161+ Treg</text>
<path d="M119.8,179.5V248.9H196.4" stroke="#000" stroke-width="1.6" fill="none" stroke-linejoin="miter"/>
<path d="M119.8,174.5l-2.6,6.6h5.2z" fill="#000"/>
<path d="M201.4,248.9l-6.8,-2.5v5z" fill="#000"/>
<text x="116.9" y="195.7" font-size="9.6" font-weight="bold" text-anchor="middle" textLength="20" lengthAdjust="spacingAndGlyphs" transform="rotate(-90 116.9 195.7)" fill="#000" stroke="#000" stroke-width="0.15">IL-17</text>
<text x="168.6" y="257.3" font-size="9.8" font-weight="bold" textLength="21.2" lengthAdjust="spacingAndGlyphs" fill="#000" stroke="#000" stroke-width="0.15">IFN-γ</text>
<path d="M297.6,153.1V234.8H421.0" stroke="#000" stroke-width="1.6" fill="none"/>
<text x="294.3" y="237.3" font-size="6.8" font-weight="bold" text-anchor="end" fill="#000" stroke="#000" stroke-width="0.25">0</text>
<text x="294.3" y="225.7" font-size="6.8" font-weight="bold" text-anchor="end" fill="#000" stroke="#000" stroke-width="0.25">2</text>
<text x="294.3" y="214.1" font-size="6.8" font-weight="bold" text-anchor="end" fill="#000" stroke="#000" stroke-width="0.25">4</text>
<text x="294.3" y="202.5" font-size="6.8" font-weight="bold" text-anchor="end" fill="#000" stroke="#000" stroke-width="0.25">6</text>
<text x="294.3" y="191.0" font-size="6.8" font-weight="bold" text-anchor="end" fill="#000" stroke="#000" stroke-width="0.25">8</text>
<text x="294.3" y="179.4" font-size="6.8" font-weight="bold" text-anchor="end" fill="#000" stroke="#000" stroke-width="0.25">10</text>
<text x="294.3" y="167.8" font-size="6.8" font-weight="bold" text-anchor="end" fill="#000" stroke="#000" stroke-width="0.25">12</text>
<text x="294.3" y="156.2" font-size="6.8" font-weight="bold" text-anchor="end" fill="#000" stroke="#000" stroke-width="0.25">14</text>
<path d="M294.40000000000003,234.8h3.2M294.40000000000003,223.2h3.2M294.40000000000003,211.6h3.2M294.40000000000003,200.0h3.2M294.40000000000003,188.5h3.2M294.40000000000003,176.9h3.2M294.40000000000003,165.3h3.2M294.40000000000003,153.7h3.2" stroke="#000" stroke-width="1.3" fill="none"/>
<text x="276.8" y="193.5" font-size="6.6" font-weight="bold" text-anchor="middle" textLength="25" lengthAdjust="spacingAndGlyphs" transform="rotate(-90 276.8 193.5)" fill="#000" stroke="#000" stroke-width="0.25">% IL-17+</text>
<path d="M304.0,234.8V233.1h4.2V234.8M315.5,234.8V233.4h4.2V234.8M326.8,234.8V233.4h4.2V234.8M344.7,234.8V233.1h4.2V234.8M356.2,234.8V233.9h4.2V234.8M367.6,234.8V232.5h4.2V234.8M385.9,234.8V234.2h4.2V234.8M397.4,234.8V234.2h4.2V234.8M408.6,234.8V232.5h4.2V234.8" fill="#fff" stroke="#888" stroke-width="0.7"/>
<path d="M308.8,234.8V190.8h5.3V234.8zM320.3,234.8V194.8h5.3V234.8zM331.6,234.8V192.5h5.3V234.8zM349.5,234.8V199.5h5.3V234.8zM361.0,234.8V215.1h5.3V234.8zM372.4,234.8V204.1h5.3V234.8zM390.7,234.8V211.0h5.3V234.8zM402.2,234.8V219.2h5.3V234.8zM413.4,234.8V213.4h5.3V234.8z" fill="#000"/>
<path d="M311.4,190.8V186.7M309.4,186.7h4.0M322.9,194.8V190.8M320.9,190.8h4.0M334.2,192.5V186.7M332.2,186.7h4.0M352.1,199.5V190.2M350.1,190.2h4.0M363.6,215.1V209.9M361.6,209.9h4.0M375.0,204.1V199.5M373.0,199.5h4.0M393.3,211.0V199.5M391.3,199.5h4.0M404.8,219.2V213.4M402.8,213.4h4.0M416.0,213.4V208.7M414.0,208.7h4.0M306.1,233.1V232.5M304.5,232.5h3.2M317.6,233.4V232.8M316.0,232.8h3.2M328.9,233.4V232.8M327.3,232.8h3.2M346.8,233.1V232.5M345.2,232.5h3.2M358.3,233.9V233.4M356.7,233.4h3.2M369.7,232.5V231.9M368.1,231.9h3.2M388.0,234.2V233.9M386.4,233.9h3.2M399.5,234.2V233.9M397.9,233.9h3.2M410.7,232.5V231.6M409.1,231.6h3.2" stroke="#000" stroke-width="1.0" fill="none"/>
<text x="297.8" y="242.9" font-size="5.9" font-weight="bold" text-anchor="end" textLength="40.0" lengthAdjust="spacingAndGlyphs" fill="#000" stroke="#000" stroke-width="0.25">stimulation, IL-2</text>
<text x="309.0" y="242.4" font-size="4.8" font-weight="bold" text-anchor="middle" fill="#000" stroke="#000" stroke-width="0.45">+</text>
<text x="320.6" y="242.4" font-size="4.8" font-weight="bold" text-anchor="middle" fill="#000" stroke="#000" stroke-width="0.45">+</text>
<text x="332.2" y="242.4" font-size="4.8" font-weight="bold" text-anchor="middle" fill="#000" stroke="#000" stroke-width="0.45">+</text>
<text x="349.6" y="242.4" font-size="4.8" font-weight="bold" text-anchor="middle" fill="#000" stroke="#000" stroke-width="0.45">+</text>
<text x="361.5" y="242.4" font-size="4.8" font-weight="bold" text-anchor="middle" fill="#000" stroke="#000" stroke-width="0.45">+</text>
<text x="373.3" y="242.4" font-size="4.8" font-weight="bold" text-anchor="middle" fill="#000" stroke="#000" stroke-width="0.45">+</text>
<text x="390.0" y="242.4" font-size="4.8" font-weight="bold" text-anchor="middle" fill="#000" stroke="#000" stroke-width="0.45">+</text>
<text x="401.9" y="242.4" font-size="4.8" font-weight="bold" text-anchor="middle" fill="#000" stroke="#000" stroke-width="0.45">+</text>
<text x="413.4" y="242.4" font-size="4.8" font-weight="bold" text-anchor="middle" fill="#000" stroke="#000" stroke-width="0.45">+</text>
<text x="297.8" y="250.79999999999998" font-size="5.9" font-weight="bold" text-anchor="end" textLength="12.0" lengthAdjust="spacingAndGlyphs" fill="#000" stroke="#000" stroke-width="0.25">IL-12</text>
<text x="309.0" y="250.2" font-size="4.8" font-weight="bold" text-anchor="middle" fill="#333" stroke="#333" stroke-width="0.2">-</text>
<text x="320.6" y="250.29999999999998" font-size="4.8" font-weight="bold" text-anchor="middle" fill="#000" stroke="#000" stroke-width="0.45">+</text>
<text x="332.2" y="250.2" font-size="4.8" font-weight="bold" text-anchor="middle" fill="#333" stroke="#333" stroke-width="0.2">-</text>
<text x="349.6" y="250.2" font-size="4.8" font-weight="bold" text-anchor="middle" fill="#333" stroke="#333" stroke-width="0.2">-</text>
<text x="361.5" y="250.29999999999998" font-size="4.8" font-weight="bold" text-anchor="middle" fill="#000" stroke="#000" stroke-width="0.45">+</text>
<text x="373.3" y="250.2" font-size="4.8" font-weight="bold" text-anchor="middle" fill="#333" stroke="#333" stroke-width="0.2">-</text>
<text x="390.0" y="250.2" font-size="4.8" font-weight="bold" text-anchor="middle" fill="#333" stroke="#333" stroke-width="0.2">-</text>
<text x="401.9" y="250.29999999999998" font-size="4.8" font-weight="bold" text-anchor="middle" fill="#000" stroke="#000" stroke-width="0.45">+</text>
<text x="413.4" y="250.2" font-size="4.8" font-weight="bold" text-anchor="middle" fill="#333" stroke="#333" stroke-width="0.2">-</text>
<text x="297.8" y="257.5" font-size="5.9" font-weight="bold" text-anchor="end" textLength="45.2" lengthAdjust="spacingAndGlyphs" fill="#000" stroke="#000" stroke-width="0.25">TGF-β, IL-1β, IL-23</text>
<text x="309.0" y="256.9" font-size="4.8" font-weight="bold" text-anchor="middle" fill="#333" stroke="#333" stroke-width="0.2">-</text>
<text x="320.6" y="256.9" font-size="4.8" font-weight="bold" text-anchor="middle" fill="#333" stroke="#333" stroke-width="0.2">-</text>
<text x="332.2" y="257.0" font-size="4.8" font-weight="bold" text-anchor="middle" fill="#000" stroke="#000" stroke-width="0.45">+</text>
<text x="349.6" y="256.9" font-size="4.8" font-weight="bold" text-anchor="middle" fill="#333" stroke="#333" stroke-width="0.2">-</text>
<text x="361.5" y="256.9" font-size="4.8" font-weight="bold" text-anchor="middle" fill="#333" stroke="#333" stroke-width="0.2">-</text>
<text x="373.3" y="257.0" font-size="4.8" font-weight="bold" text-anchor="middle" fill="#000" stroke="#000" stroke-width="0.45">+</text>
<text x="390.0" y="256.9" font-size="4.8" font-weight="bold" text-anchor="middle" fill="#333" stroke="#333" stroke-width="0.2">-</text>
<text x="401.9" y="256.9" font-size="4.8" font-weight="bold" text-anchor="middle" fill="#333" stroke="#333" stroke-width="0.2">-</text>
<text x="413.4" y="257.0" font-size="4.8" font-weight="bold" text-anchor="middle" fill="#000" stroke="#000" stroke-width="0.45">+</text>
<text x="312.0" y="265.6" font-size="6.7" font-weight="bold" textLength="16.2" lengthAdjust="spacingAndGlyphs" fill="#000" stroke="#000" stroke-width="0.25">Day 4</text>
<text x="354.6" y="265.6" font-size="6.7" font-weight="bold" textLength="16.4" lengthAdjust="spacingAndGlyphs" fill="#000" stroke="#000" stroke-width="0.25">Day 6</text>
<text x="394.8" y="265.6" font-size="6.7" font-weight="bold" textLength="19.5" lengthAdjust="spacingAndGlyphs" fill="#000" stroke="#000" stroke-width="0.25">Day 10</text>
<rect x="420.6" y="160.3" width="4.2" height="4.2" fill="#fff" stroke="#666" stroke-width="0.7"/>
<rect x="420.3" y="170.0" width="4.8" height="4.8" fill="#000"/>
<text x="428.8" y="164.2" font-size="8.2" font-weight="bold" textLength="52" lengthAdjust="spacingAndGlyphs" fill="#000" stroke="#000" stroke-width="0.25">CD161- FoxP3+</text>
<text x="428.8" y="174.2" font-size="8.2" font-weight="bold" textLength="53.2" lengthAdjust="spacingAndGlyphs" fill="#000" stroke="#000" stroke-width="0.25">CD161+ FoxP3+</text>
<path d="M53.8,280.2V362.1H176.5" stroke="#000" stroke-width="1.6" fill="none"/>
<text x="50.5" y="364.6" font-size="6.8" font-weight="bold" text-anchor="end" fill="#000" stroke="#000" stroke-width="0.25">0</text>
<text x="50.5" y="353.0" font-size="6.8" font-weight="bold" text-anchor="end" fill="#000" stroke="#000" stroke-width="0.25">2</text>
<text x="50.5" y="341.4" font-size="6.8" font-weight="bold" text-anchor="end" fill="#000" stroke="#000" stroke-width="0.25">4</text>
<text x="50.5" y="329.8" font-size="6.8" font-weight="bold" text-anchor="end" fill="#000" stroke="#000" stroke-width="0.25">6</text>
<text x="50.5" y="318.1" font-size="6.8" font-weight="bold" text-anchor="end" fill="#000" stroke="#000" stroke-width="0.25">8</text>
<text x="50.5" y="306.5" font-size="6.8" font-weight="bold" text-anchor="end" fill="#000" stroke="#000" stroke-width="0.25">10</text>
<text x="50.5" y="294.9" font-size="6.8" font-weight="bold" text-anchor="end" fill="#000" stroke="#000" stroke-width="0.25">12</text>
<text x="50.5" y="283.3" font-size="6.8" font-weight="bold" text-anchor="end" fill="#000" stroke="#000" stroke-width="0.25">14</text>
<path d="M50.599999999999994,362.1h3.2M50.599999999999994,350.5h3.2M50.599999999999994,338.9h3.2M50.599999999999994,327.3h3.2M50.599999999999994,315.6h3.2M50.599999999999994,304.0h3.2M50.599999999999994,292.4h3.2M50.599999999999994,280.8h3.2" stroke="#000" stroke-width="1.3" fill="none"/>
<text x="33.2" y="320.2" font-size="6.6" font-weight="bold" text-anchor="middle" textLength="26" lengthAdjust="spacingAndGlyphs" transform="rotate(-90 33.2 320.2)" fill="#000" stroke="#000" stroke-width="0.25">% IFN-γ+</text>
<path d="M60.3,362.1V352.8h4.2V362.1M71.6,362.1V354.0h4.2V362.1M82.9,362.1V354.6h4.2V362.1M101.2,362.1V355.1h4.2V362.1M112.6,362.1V351.1h4.2V362.1M124.2,362.1V358.6h4.2V362.1M142.1,362.1V359.8h4.2V362.1M153.5,362.1V358.6h4.2V362.1M164.7,362.1V360.9h4.2V362.1" fill="#fff" stroke="#888" stroke-width="0.7"/>
<path d="M65.4,362.1V319.1h5.3V362.1zM76.7,362.1V294.2h5.3V362.1zM88.0,362.1V327.8h5.3V362.1zM106.3,362.1V342.9h5.3V362.1zM117.7,362.1V313.9h5.3V362.1zM129.3,362.1V344.7h5.3V362.1zM147.2,362.1V343.5h5.3V362.1zM158.6,362.1V338.9h5.3V362.1zM169.8,362.1V352.8h5.3V362.1z" fill="#000"/>
<path d="M68.1,319.1V309.8M66.1,309.8h4.0M79.4,294.2V286.0M77.4,286.0h4.0M90.7,327.8V322.0M88.7,322.0h4.0M109.0,342.9V332.5M107.0,332.5h4.0M120.4,313.9V301.1M118.4,301.1h4.0M132.0,344.7V338.9M130.0,338.9h4.0M149.8,343.5V333.1M147.8,333.1h4.0M161.2,338.9V337.4M159.2,337.4h4.0M172.5,352.8V346.4M170.5,346.4h4.0M62.4,352.8V349.9M60.8,349.9h3.2M73.7,354.0V351.4M72.1,351.4h3.2M85.0,354.6V353.4M83.4,353.4h3.2M103.3,355.1V350.5M101.7,350.5h3.2M114.7,351.1V347.6M113.1,347.6h3.2M126.3,358.6V357.2M124.7,357.2h3.2M144.2,359.8V358.6M142.6,358.6h3.2M155.6,358.6V357.7M154.0,357.7h3.2M166.8,360.9V360.4M165.2,360.4h3.2" stroke="#000" stroke-width="1.0" fill="none"/>
<text x="57.2" y="370.20000000000005" font-size="5.9" font-weight="bold" text-anchor="end" textLength="40.0" lengthAdjust="spacingAndGlyphs" fill="#000" stroke="#000" stroke-width="0.25">stimulation, IL-2</text>
<text x="66.9" y="369.70000000000005" font-size="4.8" font-weight="bold" text-anchor="middle" fill="#000" stroke="#000" stroke-width="0.45">+</text>
<text x="78.2" y="369.70000000000005" font-size="4.8" font-weight="bold" text-anchor="middle" fill="#000" stroke="#000" stroke-width="0.45">+</text>
<text x="89.5" y="369.70000000000005" font-size="4.8" font-weight="bold" text-anchor="middle" fill="#000" stroke="#000" stroke-width="0.45">+</text>
<text x="107.8" y="369.70000000000005" font-size="4.8" font-weight="bold" text-anchor="middle" fill="#000" stroke="#000" stroke-width="0.45">+</text>
<text x="119.2" y="369.70000000000005" font-size="4.8" font-weight="bold" text-anchor="middle" fill="#000" stroke="#000" stroke-width="0.45">+</text>
<text x="130.8" y="369.70000000000005" font-size="4.8" font-weight="bold" text-anchor="middle" fill="#000" stroke="#000" stroke-width="0.45">+</text>
<text x="148.7" y="369.70000000000005" font-size="4.8" font-weight="bold" text-anchor="middle" fill="#000" stroke="#000" stroke-width="0.45">+</text>
<text x="160.1" y="369.70000000000005" font-size="4.8" font-weight="bold" text-anchor="middle" fill="#000" stroke="#000" stroke-width="0.45">+</text>
<text x="171.3" y="369.70000000000005" font-size="4.8" font-weight="bold" text-anchor="middle" fill="#000" stroke="#000" stroke-width="0.45">+</text>
<text x="57.2" y="377.40000000000003" font-size="5.9" font-weight="bold" text-anchor="end" textLength="12.0" lengthAdjust="spacingAndGlyphs" fill="#000" stroke="#000" stroke-width="0.25">IL-12</text>
<text x="66.9" y="376.8" font-size="4.8" font-weight="bold" text-anchor="middle" fill="#333" stroke="#333" stroke-width="0.2">-</text>
<text x="78.2" y="376.90000000000003" font-size="4.8" font-weight="bold" text-anchor="middle" fill="#000" stroke="#000" stroke-width="0.45">+</text>
<text x="89.5" y="376.8" font-size="4.8" font-weight="bold" text-anchor="middle" fill="#333" stroke="#333" stroke-width="0.2">-</text>
<text x="107.8" y="376.8" font-size="4.8" font-weight="bold" text-anchor="middle" fill="#333" stroke="#333" stroke-width="0.2">-</text>
<text x="119.2" y="376.90000000000003" font-size="4.8" font-weight="bold" text-anchor="middle" fill="#000" stroke="#000" stroke-width="0.45">+</text>
<text x="130.8" y="376.8" font-size="4.8" font-weight="bold" text-anchor="middle" fill="#333" stroke="#333" stroke-width="0.2">-</text>
<text x="148.7" y="376.8" font-size="4.8" font-weight="bold" text-anchor="middle" fill="#333" stroke="#333" stroke-width="0.2">-</text>
<text x="160.1" y="376.90000000000003" font-size="4.8" font-weight="bold" text-anchor="middle" fill="#000" stroke="#000" stroke-width="0.45">+</text>
<text x="171.3" y="376.8" font-size="4.8" font-weight="bold" text-anchor="middle" fill="#333" stroke="#333" stroke-width="0.2">-</text>
<text x="57.2" y="384.70000000000005" font-size="5.9" font-weight="bold" text-anchor="end" textLength="45.2" lengthAdjust="spacingAndGlyphs" fill="#000" stroke="#000" stroke-width="0.25">TGF-β, IL-1β, IL-23</text>
<text x="66.9" y="384.1" font-size="4.8" font-weight="bold" text-anchor="middle" fill="#333" stroke="#333" stroke-width="0.2">-</text>
<text x="78.2" y="384.1" font-size="4.8" font-weight="bold" text-anchor="middle" fill="#333" stroke="#333" stroke-width="0.2">-</text>
<text x="89.5" y="384.20000000000005" font-size="4.8" font-weight="bold" text-anchor="middle" fill="#000" stroke="#000" stroke-width="0.45">+</text>
<text x="107.8" y="384.1" font-size="4.8" font-weight="bold" text-anchor="middle" fill="#333" stroke="#333" stroke-width="0.2">-</text>
<text x="119.2" y="384.1" font-size="4.8" font-weight="bold" text-anchor="middle" fill="#333" stroke="#333" stroke-width="0.2">-</text>
<text x="130.8" y="384.20000000000005" font-size="4.8" font-weight="bold" text-anchor="middle" fill="#000" stroke="#000" stroke-width="0.45">+</text>
<text x="148.7" y="384.1" font-size="4.8" font-weight="bold" text-anchor="middle" fill="#333" stroke="#333" stroke-width="0.2">-</text>
<text x="160.1" y="384.1" font-size="4.8" font-weight="bold" text-anchor="middle" fill="#333" stroke="#333" stroke-width="0.2">-</text>
<text x="171.3" y="384.20000000000005" font-size="4.8" font-weight="bold" text-anchor="middle" fill="#000" stroke="#000" stroke-width="0.45">+</text>
<text x="69.2" y="392.8" font-size="6.7" font-weight="bold" textLength="15.8" lengthAdjust="spacingAndGlyphs" fill="#000" stroke="#000" stroke-width="0.25">Day 4</text>
<text x="112.0" y="392.8" font-size="6.7" font-weight="bold" textLength="16.4" lengthAdjust="spacingAndGlyphs" fill="#000" stroke="#000" stroke-width="0.25">Day 6</text>
<text x="152.3" y="392.8" font-size="6.7" font-weight="bold" textLength="19.5" lengthAdjust="spacingAndGlyphs" fill="#000" stroke="#000" stroke-width="0.25">Day 10</text>
<path d="M296.0,280.2V361.8H419.2" stroke="#000" stroke-width="1.6" fill="none"/>
<text x="292.7" y="364.3" font-size="6.8" font-weight="bold" text-anchor="end" fill="#000" stroke="#000" stroke-width="0.25">0</text>
<text x="292.7" y="352.7" font-size="6.8" font-weight="bold" text-anchor="end" fill="#000" stroke="#000" stroke-width="0.25">2</text>
<text x="292.7" y="341.2" font-size="6.8" font-weight="bold" text-anchor="end" fill="#000" stroke="#000" stroke-width="0.25">4</text>
<text x="292.7" y="329.6" font-size="6.8" font-weight="bold" text-anchor="end" fill="#000" stroke="#000" stroke-width="0.25">6</text>
<text x="292.7" y="318.0" font-size="6.8" font-weight="bold" text-anchor="end" fill="#000" stroke="#000" stroke-width="0.25">8</text>
<text x="292.7" y="306.4" font-size="6.8" font-weight="bold" text-anchor="end" fill="#000" stroke="#000" stroke-width="0.25">10</text>
<text x="292.7" y="294.9" font-size="6.8" font-weight="bold" text-anchor="end" fill="#000" stroke="#000" stroke-width="0.25">12</text>
<text x="292.7" y="283.3" font-size="6.8" font-weight="bold" text-anchor="end" fill="#000" stroke="#000" stroke-width="0.25">14</text>
<path d="M292.8,361.8h3.2M292.8,350.2h3.2M292.8,338.7h3.2M292.8,327.1h3.2M292.8,315.5h3.2M292.8,303.9h3.2M292.8,292.4h3.2M292.8,280.8h3.2" stroke="#000" stroke-width="1.3" fill="none"/>
<text x="272.0" y="320" font-size="6.6" font-weight="bold" text-anchor="middle" textLength="47" lengthAdjust="spacingAndGlyphs" transform="rotate(-90 272.0 320)" fill="#000" stroke="#000" stroke-width="0.25">% IFN-γ+  IL-17+</text>
<path d="" fill="#fff" stroke="#888" stroke-width="0.7"/>
<path d="M307.4,361.8V352.0h5.3V361.8zM318.6,361.8V351.1h5.3V361.8zM330.0,361.8V356.0h5.3V361.8zM348.5,361.8V357.8h5.3V361.8zM360.0,361.8V357.2h5.3V361.8zM371.4,361.8V359.5h5.3V361.8zM389.2,361.8V358.0h5.3V361.8zM400.5,361.8V358.9h5.3V361.8zM411.9,361.8V360.4h5.3V361.8z" fill="#000"/>
<path d="M310.0,352.0V350.5M308.0,350.5h4.0M321.2,351.1V350.2M319.2,350.2h4.0M332.6,356.0V353.7M330.6,353.7h4.0M351.1,357.8V355.4M349.1,355.4h4.0M362.6,357.2V356.0M360.6,356.0h4.0M374.0,359.5V358.6M372.0,358.6h4.0M391.8,358.0V356.9M389.8,356.9h4.0M403.1,358.9V358.2M401.1,358.2h4.0M414.5,360.4V359.8M412.5,359.8h4.0" stroke="#000" stroke-width="1.0" fill="none"/>
<text x="298.5" y="370.0" font-size="5.9" font-weight="bold" text-anchor="end" textLength="40.0" lengthAdjust="spacingAndGlyphs" fill="#000" stroke="#000" stroke-width="0.25">stimulation, IL-2</text>
<text x="307.6" y="369.5" font-size="4.8" font-weight="bold" text-anchor="middle" fill="#000" stroke="#000" stroke-width="0.45">+</text>
<text x="319.5" y="369.5" font-size="4.8" font-weight="bold" text-anchor="middle" fill="#000" stroke="#000" stroke-width="0.45">+</text>
<text x="331.5" y="369.5" font-size="4.8" font-weight="bold" text-anchor="middle" fill="#000" stroke="#000" stroke-width="0.45">+</text>
<text x="348.8" y="369.5" font-size="4.8" font-weight="bold" text-anchor="middle" fill="#000" stroke="#000" stroke-width="0.45">+</text>
<text x="360.4" y="369.5" font-size="4.8" font-weight="bold" text-anchor="middle" fill="#000" stroke="#000" stroke-width="0.45">+</text>
<text x="372.5" y="369.5" font-size="4.8" font-weight="bold" text-anchor="middle" fill="#000" stroke="#000" stroke-width="0.45">+</text>
<text x="390.5" y="369.5" font-size="4.8" font-weight="bold" text-anchor="middle" fill="#000" stroke="#000" stroke-width="0.45">+</text>
<text x="402.3" y="369.5" font-size="4.8" font-weight="bold" text-anchor="middle" fill="#000" stroke="#000" stroke-width="0.45">+</text>
<text x="414.3" y="369.5" font-size="4.8" font-weight="bold" text-anchor="middle" fill="#000" stroke="#000" stroke-width="0.45">+</text>
<text x="298.5" y="378.0" font-size="5.9" font-weight="bold" text-anchor="end" textLength="12.0" lengthAdjust="spacingAndGlyphs" fill="#000" stroke="#000" stroke-width="0.25">IL-12</text>
<text x="307.6" y="377.4" font-size="4.8" font-weight="bold" text-anchor="middle" fill="#333" stroke="#333" stroke-width="0.2">-</text>
<text x="319.5" y="377.5" font-size="4.8" font-weight="bold" text-anchor="middle" fill="#000" stroke="#000" stroke-width="0.45">+</text>
<text x="331.5" y="377.4" font-size="4.8" font-weight="bold" text-anchor="middle" fill="#333" stroke="#333" stroke-width="0.2">-</text>
<text x="348.8" y="377.4" font-size="4.8" font-weight="bold" text-anchor="middle" fill="#333" stroke="#333" stroke-width="0.2">-</text>
<text x="360.4" y="377.5" font-size="4.8" font-weight="bold" text-anchor="middle" fill="#000" stroke="#000" stroke-width="0.45">+</text>
<text x="372.5" y="377.4" font-size="4.8" font-weight="bold" text-anchor="middle" fill="#333" stroke="#333" stroke-width="0.2">-</text>
<text x="390.5" y="377.4" font-size="4.8" font-weight="bold" text-anchor="middle" fill="#333" stroke="#333" stroke-width="0.2">-</text>
<text x="402.3" y="377.5" font-size="4.8" font-weight="bold" text-anchor="middle" fill="#000" stroke="#000" stroke-width="0.45">+</text>
<text x="414.3" y="377.4" font-size="4.8" font-weight="bold" text-anchor="middle" fill="#333" stroke="#333" stroke-width="0.2">-</text>
<text x="298.5" y="384.5" font-size="5.9" font-weight="bold" text-anchor="end" textLength="45.2" lengthAdjust="spacingAndGlyphs" fill="#000" stroke="#000" stroke-width="0.25">TGF-β, IL-1β, IL-23</text>
<text x="307.6" y="383.9" font-size="4.8" font-weight="bold" text-anchor="middle" fill="#333" stroke="#333" stroke-width="0.2">-</text>
<text x="319.5" y="383.9" font-size="4.8" font-weight="bold" text-anchor="middle" fill="#333" stroke="#333" stroke-width="0.2">-</text>
<text x="331.5" y="384.0" font-size="4.8" font-weight="bold" text-anchor="middle" fill="#000" stroke="#000" stroke-width="0.45">+</text>
<text x="348.8" y="383.9" font-size="4.8" font-weight="bold" text-anchor="middle" fill="#333" stroke="#333" stroke-width="0.2">-</text>
<text x="360.4" y="383.9" font-size="4.8" font-weight="bold" text-anchor="middle" fill="#333" stroke="#333" stroke-width="0.2">-</text>
<text x="372.5" y="384.0" font-size="4.8" font-weight="bold" text-anchor="middle" fill="#000" stroke="#000" stroke-width="0.45">+</text>
<text x="390.5" y="383.9" font-size="4.8" font-weight="bold" text-anchor="middle" fill="#333" stroke="#333" stroke-width="0.2">-</text>
<text x="402.3" y="383.9" font-size="4.8" font-weight="bold" text-anchor="middle" fill="#333" stroke="#333" stroke-width="0.2">-</text>
<text x="414.3" y="384.0" font-size="4.8" font-weight="bold" text-anchor="middle" fill="#000" stroke="#000" stroke-width="0.45">+</text>
<text x="311.0" y="392.4" font-size="6.7" font-weight="bold" textLength="16.8" lengthAdjust="spacingAndGlyphs" fill="#000" stroke="#000" stroke-width="0.25">Day 4</text>
<text x="353.8" y="392.4" font-size="6.7" font-weight="bold" textLength="17.2" lengthAdjust="spacingAndGlyphs" fill="#000" stroke="#000" stroke-width="0.25">Day 6</text>
<text x="393.8" y="392.4" font-size="6.7" font-weight="bold" textLength="20.4" lengthAdjust="spacingAndGlyphs" fill="#000" stroke="#000" stroke-width="0.25">Day 10</text>
</svg>
</body></html>
